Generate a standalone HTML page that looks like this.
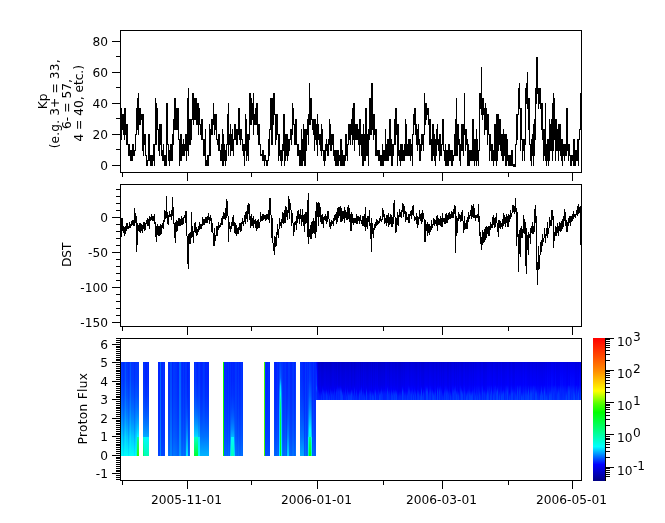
<!DOCTYPE html>
<html><head><meta charset="utf-8"><title>Kp, DST, Proton Flux</title>
<style>html,body{margin:0;padding:0;background:#fff;}svg{display:block;}</style></head>
<body>
<svg width="665" height="523" viewBox="0 0 665 523" font-family="'DejaVu Sans', 'Liberation Sans', sans-serif" fill="#000">
<defs>
<linearGradient id="cb" x1="0" y1="0" x2="0" y2="1"><stop offset="0" stop-color="#ff0000"/><stop offset="0.12" stop-color="#ff4600"/><stop offset="0.23" stop-color="#ff8c00"/><stop offset="0.37" stop-color="#ffff00"/><stop offset="0.46" stop-color="#50ff00"/><stop offset="0.52" stop-color="#00ff00"/><stop offset="0.60" stop-color="#00ff50"/><stop offset="0.685" stop-color="#00ffaa"/><stop offset="0.76" stop-color="#00ffff"/><stop offset="0.82" stop-color="#0082ff"/><stop offset="0.885" stop-color="#0000ff"/><stop offset="1" stop-color="#000082"/></linearGradient>
</defs>
<rect width="665" height="523" fill="#fff"/>
<g shape-rendering="crispEdges">
<path d="M121 108v32h1v-32zM122 114v16h1v-16zM123 114v21h1v-21zM124 108v32h1v-32zM125 108v27h1v-27zM126 124v21h1v-21zM127 124v21h1v-21zM128 144v12h1v-12zM129 144v12h1v-12zM130 150v11h1v-11zM131 150v11h1v-11zM132 144v17h1v-17zM133 144v12h1v-12zM134 150v6h1v-6zM135 134v17h1v-17zM136 108v27h1v-27zM137 98v32h1v-32zM138 93v42h1v-42zM139 108v17h1v-17zM140 108v17h1v-17zM141 114v6h1v-6zM142 114v37h1v-37zM143 114v42h1v-42zM144 134v11h1v-11zM145 134v22h1v-22zM146 155v11h1v-11zM147 160v6h1v-6zM148 134v27h1v-27zM149 134v27h1v-27zM150 155v11h1v-11zM151 155v11h1v-11zM152 155v11h1v-11zM153 144v17h1v-17zM154 144v22h1v-22zM155 98v47h1v-47zM156 103v42h1v-42zM157 108v22h1v-22zM158 129v22h1v-22zM159 124v32h1v-32zM160 124v21h1v-21zM161 124v32h1v-32zM162 150v11h1v-11zM163 144v17h1v-17zM164 155v11h1v-11zM165 155v11h1v-11zM166 103v63h1v-63zM167 103v42h1v-42zM168 144v17h1v-17zM169 150v16h1v-16zM170 144v17h1v-17zM171 144v17h1v-17zM172 134v27h1v-27zM173 119v26h1v-26zM174 98v32h1v-32zM175 98v32h1v-32zM176 108v22h1v-22zM177 108v22h1v-22zM178 108v32h1v-32zM179 139v27h1v-27zM180 134v27h1v-27zM181 134v27h1v-27zM182 144v12h1v-12zM183 139v17h1v-17zM184 144v12h1v-12zM185 134v17h1v-17zM186 134v27h1v-27zM187 98v53h1v-53zM188 88v68h1v-68zM189 119v26h1v-26zM190 119v26h1v-26zM191 119v21h1v-21zM192 93v27h1v-27zM193 93v32h1v-32zM194 98v22h1v-22zM195 98v22h1v-22zM196 98v27h1v-27zM197 103v22h1v-22zM198 103v32h1v-32zM199 108v17h1v-17zM200 124v11h1v-11zM201 119v21h1v-21zM202 119v21h1v-21zM203 139v17h1v-17zM204 139v17h1v-17zM205 129v37h1v-37zM206 160v6h1v-6zM207 155v11h1v-11zM208 155v11h1v-11zM209 124v32h1v-32zM210 129v27h1v-27zM211 119v16h1v-16zM212 119v16h1v-16zM213 103v22h1v-22zM214 114v21h1v-21zM215 114v16h1v-16zM216 114v26h1v-26zM217 139v6h1v-6zM218 134v17h1v-17zM219 134v17h1v-17zM220 150v11h1v-11zM221 144v17h1v-17zM222 129v37h1v-37zM223 134v32h1v-32zM224 144v17h1v-17zM225 150v16h1v-16zM226 144v17h1v-17zM227 114v31h1v-31zM228 103v53h1v-53zM229 134v11h1v-11zM230 124v32h1v-32zM231 134v17h1v-17zM232 129v22h1v-22zM233 139v17h1v-17zM234 124v16h1v-16zM235 124v16h1v-16zM236 129v16h1v-16zM237 129v16h1v-16zM238 108v27h1v-27zM239 108v32h1v-32zM240 129v16h1v-16zM241 129v11h1v-11zM242 139v12h1v-12zM243 144v12h1v-12zM244 144v22h1v-22zM245 114v37h1v-37zM246 119v42h1v-42zM247 134v22h1v-22zM248 134v27h1v-27zM249 93v47h1v-47zM250 93v32h1v-32zM251 98v27h1v-27zM252 103v17h1v-17zM253 93v42h1v-42zM254 114v11h1v-11zM255 108v17h1v-17zM256 103v22h1v-22zM257 103v32h1v-32zM258 124v21h1v-21zM259 124v21h1v-21zM260 144v12h1v-12zM261 154v2h1v-2zM262 150v11h1v-11zM263 150v11h1v-11zM264 155v11h1v-11zM265 155v6h1v-6zM266 160v6h1v-6zM267 160v6h1v-6zM268 139v22h1v-22zM269 129v27h1v-27zM270 98v32h1v-32zM271 98v47h1v-47zM272 98v47h1v-47zM273 93v32h1v-32zM274 93v22h1v-22zM275 114v31h1v-31zM276 114v26h1v-26zM277 114v21h1v-21zM278 134v27h1v-27zM279 134v22h1v-22zM280 150v11h1v-11zM281 150v16h1v-16zM282 144v17h1v-17zM283 114v37h1v-37zM284 114v52h1v-52zM285 134v27h1v-27zM286 134v22h1v-22zM287 134v27h1v-27zM288 139v17h1v-17zM289 139v12h1v-12zM290 129v11h1v-11zM291 129v16h1v-16zM292 103v32h1v-32zM293 108v17h1v-17zM294 124v21h1v-21zM295 119v26h1v-26zM296 119v26h1v-26zM297 144v12h1v-12zM298 144v12h1v-12zM299 150v16h1v-16zM300 150v16h1v-16zM301 129v37h1v-37zM302 139v27h1v-27zM303 124v37h1v-37zM304 129v37h1v-37zM305 129v37h1v-37zM306 129v22h1v-22zM307 119v16h1v-16zM308 114v31h1v-31zM309 83v42h1v-42zM310 98v27h1v-27zM311 98v22h1v-22zM312 119v11h1v-11zM313 119v16h1v-16zM314 119v32h1v-32zM315 119v21h1v-21zM316 124v21h1v-21zM317 114v42h1v-42zM318 124v16h1v-16zM319 134v11h1v-11zM320 134v17h1v-17zM321 124v32h1v-32zM322 129v22h1v-22zM323 150v11h1v-11zM324 150v16h1v-16zM325 144v17h1v-17zM326 139v12h1v-12zM327 144v12h1v-12zM328 139v17h1v-17zM329 119v26h1v-26zM330 124v27h1v-27zM331 134v17h1v-17zM332 134v11h1v-11zM333 134v22h1v-22zM334 150v11h1v-11zM335 150v16h1v-16zM336 150v16h1v-16zM337 150v16h1v-16zM338 150v16h1v-16zM339 155v6h1v-6zM340 139v27h1v-27zM341 139v27h1v-27zM342 150v16h1v-16zM343 155v11h1v-11zM344 155v11h1v-11zM345 134v27h1v-27zM346 134v22h1v-22zM347 144v17h1v-17zM348 124v21h1v-21zM349 124v16h1v-16zM350 124v21h1v-21zM351 119v16h1v-16zM352 108v37h1v-37zM353 103v37h1v-37zM354 103v48h1v-48zM355 124v16h1v-16zM356 124v16h1v-16zM357 124v16h1v-16zM358 129v16h1v-16zM359 119v37h1v-37zM360 119v26h1v-26zM361 134v22h1v-22zM362 134v32h1v-32zM363 124v42h1v-42zM364 134v27h1v-27zM365 108v53h1v-53zM366 108v48h1v-48zM367 134v22h1v-22zM368 129v37h1v-37zM369 98v42h1v-42zM370 98v37h1v-37zM371 83v52h1v-52zM372 83v47h1v-47zM373 114v26h1v-26zM374 114v21h1v-21zM375 129v27h1v-27zM376 129v27h1v-27zM377 150v6h1v-6zM378 150v11h1v-11zM379 150v11h1v-11zM380 155v11h1v-11zM381 155v11h1v-11zM382 144v22h1v-22zM383 150v16h1v-16zM384 150v11h1v-11zM385 129v32h1v-32zM386 144v17h1v-17zM387 139v22h1v-22zM388 139v22h1v-22zM389 119v37h1v-37zM390 119v37h1v-37zM391 139v27h1v-27zM392 144v22h1v-22zM393 144v12h1v-12zM394 119v26h1v-26zM395 108v37h1v-37zM396 108v27h1v-27zM397 124v42h1v-42zM398 124v32h1v-32zM399 150v11h1v-11zM400 144v22h1v-22zM401 144v17h1v-17zM402 144v17h1v-17zM403 150v11h1v-11zM404 144v17h1v-17zM405 119v37h1v-37zM406 124v32h1v-32zM407 144v12h1v-12zM408 139v17h1v-17zM409 139v17h1v-17zM410 139v22h1v-22zM411 144v12h1v-12zM412 134v32h1v-32zM413 114v21h1v-21zM414 108v17h1v-17zM415 108v27h1v-27zM416 124v21h1v-21zM417 129v22h1v-22zM418 124v21h1v-21zM419 139v22h1v-22zM420 144v17h1v-17zM421 134v17h1v-17zM422 134v11h1v-11zM423 134v17h1v-17zM424 93v42h1v-42zM425 103v22h1v-22zM426 103v17h1v-17zM427 108v7h1v-7zM428 108v17h1v-17zM429 119v26h1v-26zM430 119v26h1v-26zM431 139v22h1v-22zM432 124v37h1v-37zM433 124v32h1v-32zM434 134v27h1v-27zM435 139v27h1v-27zM436 129v27h1v-27zM437 124v21h1v-21zM438 139v12h1v-12zM439 134v27h1v-27zM440 134v22h1v-22zM441 144v12h1v-12zM442 119v26h1v-26zM443 119v32h1v-32zM444 150v11h1v-11zM445 144v22h1v-22zM446 150v16h1v-16zM447 150v16h1v-16zM448 144v22h1v-22zM449 144v17h1v-17zM450 150v11h1v-11zM451 150v16h1v-16zM452 150v16h1v-16zM453 155v6h1v-6zM454 134v22h1v-22zM455 119v37h1v-37zM456 98v58h1v-58zM457 124v32h1v-32zM458 124v21h1v-21zM459 139v22h1v-22zM460 144v22h1v-22zM461 124v27h1v-27zM462 124v27h1v-27zM463 124v32h1v-32zM464 93v42h1v-42zM465 129v22h1v-22zM466 129v16h1v-16zM467 139v27h1v-27zM468 144v22h1v-22zM469 150v16h1v-16zM470 150v11h1v-11zM471 150v11h1v-11zM472 119v42h1v-42zM473 119v42h1v-42zM474 139v27h1v-27zM475 139v22h1v-22zM476 129v37h1v-37zM477 139v22h1v-22zM478 150v16h1v-16zM479 93v58h1v-58zM480 93v16h1v-16zM481 67v48h1v-48zM482 98v22h1v-22zM483 98v17h1v-17zM484 108v27h1v-27zM485 103v27h1v-27zM486 108v22h1v-22zM487 114v31h1v-31zM488 114v21h1v-21zM489 134v27h1v-27zM490 134v17h1v-17zM491 144v17h1v-17zM492 144v17h1v-17zM493 150v16h1v-16zM494 124v37h1v-37zM495 124v37h1v-37zM496 114v52h1v-52zM497 114v47h1v-47zM498 114v37h1v-37zM499 119v26h1v-26zM500 119v32h1v-32zM501 134v22h1v-22zM502 134v27h1v-27zM503 129v32h1v-32zM504 134v22h1v-22zM505 134v32h1v-32zM506 134v32h1v-32zM507 139v22h1v-22zM508 155v11h1v-11zM509 155v11h1v-11zM510 155v11h1v-11zM511 150v16h1v-16zM512 150v16h1v-16zM513 164v3h1v-3zM514 164v3h1v-3zM515 144v23h1v-23zM516 114v31h1v-31zM517 114v26h1v-26zM518 88v27h1v-27zM519 83v26h1v-26zM520 108v43h1v-43zM521 108v32h1v-32zM522 139v22h1v-22zM523 139v12h1v-12zM524 139v22h1v-22zM525 88v57h1v-57zM526 83v21h1v-21zM527 72v37h1v-37zM528 98v32h1v-32zM529 98v47h1v-47zM530 144v17h1v-17zM531 139v27h1v-27zM532 134v22h1v-22zM533 124v42h1v-42zM534 119v37h1v-37zM535 88v52h1v-52zM536 57v47h1v-47zM537 57v37h1v-37zM538 88v21h1v-21zM539 88v16h1v-16zM540 88v21h1v-21zM541 103v27h1v-27zM542 103v37h1v-37zM543 129v32h1v-32zM544 129v27h1v-27zM545 103v58h1v-58zM546 144v22h1v-22zM547 139v22h1v-22zM548 139v27h1v-27zM549 119v42h1v-42zM550 124v27h1v-27zM551 119v32h1v-32zM552 103v58h1v-58zM553 93v58h1v-58zM554 98v42h1v-42zM555 119v42h1v-42zM556 119v32h1v-32zM557 129v22h1v-22zM558 124v37h1v-37zM559 124v27h1v-27zM560 124v32h1v-32zM561 139v22h1v-22zM562 139v27h1v-27zM563 144v12h1v-12zM564 144v17h1v-17zM565 144v12h1v-12zM566 108v48h1v-48zM567 108v43h1v-43zM568 144v17h1v-17zM569 144v12h1v-12zM570 155v11h1v-11zM571 155v11h1v-11zM572 155v6h1v-6zM573 139v27h1v-27zM574 139v27h1v-27zM575 150v16h1v-16zM576 150v11h1v-11zM577 139v22h1v-22zM578 139v27h1v-27zM579 129v11h1v-11zM580 93v37h1v-37z" fill="#000"/>
<rect x="120" y="30" width="462" height="1" fill="#000"/>
<rect x="120" y="172" width="462" height="1" fill="#000"/>
<rect x="120" y="30" width="1" height="143" fill="#000"/>
<rect x="581" y="30" width="1" height="143" fill="#000"/>
<rect x="122" y="173" width="1" height="4" fill="#000"/>
<rect x="187" y="173" width="1" height="8" fill="#000"/>
<rect x="251" y="173" width="1" height="4" fill="#000"/>
<rect x="317" y="173" width="1" height="8" fill="#000"/>
<rect x="383" y="173" width="1" height="4" fill="#000"/>
<rect x="442" y="173" width="1" height="8" fill="#000"/>
<rect x="508" y="173" width="1" height="4" fill="#000"/>
<rect x="572" y="173" width="1" height="8" fill="#000"/>
<rect x="116" y="149" width="4" height="1" fill="#000"/>
<rect x="116" y="118" width="4" height="1" fill="#000"/>
<rect x="116" y="87" width="4" height="1" fill="#000"/>
<rect x="116" y="56" width="4" height="1" fill="#000"/>
<rect x="112" y="165" width="8" height="1" fill="#000"/>
<text x="108" y="170" text-anchor="end" font-size="12.2">0</text>
<rect x="112" y="134" width="8" height="1" fill="#000"/>
<text x="108" y="139" text-anchor="end" font-size="12.2">20</text>
<rect x="112" y="103" width="8" height="1" fill="#000"/>
<text x="108" y="108" text-anchor="end" font-size="12.2">40</text>
<rect x="112" y="72" width="8" height="1" fill="#000"/>
<text x="108" y="77" text-anchor="end" font-size="12.2">60</text>
<rect x="112" y="41" width="8" height="1" fill="#000"/>
<text x="108" y="46" text-anchor="end" font-size="12.2">80</text>
<path d="M121 218v19h1v-19zM122 218v13h1v-13zM123 226v7h1v-7zM124 227v9h1v-9zM125 226v8h1v-8zM126 223v8h1v-8zM127 223v6h1v-6zM128 226v3h1v-3zM129 222v6h1v-6zM130 224v4h1v-4zM131 221v5h1v-5zM132 220v5h1v-5zM133 220v6h1v-6zM134 208v18h1v-18zM135 213v10h1v-10zM136 216v36h1v-36zM137 223v22h1v-22zM138 225v6h1v-6zM139 223v9h1v-9zM140 223v10h1v-10zM141 224v7h1v-7zM142 225v8h1v-8zM143 222v7h1v-7zM144 222v9h1v-9zM145 223v7h1v-7zM146 220v4h1v-4zM147 218v8h1v-8zM148 219v7h1v-7zM149 216v13h1v-13zM150 217v4h1v-4zM151 214v6h1v-6zM152 216v5h1v-5zM153 216v5h1v-5zM154 214v10h1v-10zM155 222v15h1v-15zM156 226v16h1v-16zM157 224v11h1v-11zM158 226v10h1v-10zM159 226v10h1v-10zM160 224v11h1v-11zM161 225v9h1v-9zM162 223v5h1v-5zM163 220v9h1v-9zM164 210v12h1v-12zM165 211v8h1v-8zM166 196v22h1v-22zM167 212v12h1v-12zM168 215v10h1v-10zM169 211v6h1v-6zM170 214v3h1v-3zM171 210v10h1v-10zM172 197v19h1v-19zM173 207v17h1v-17zM174 223v15h1v-15zM175 222v21h1v-21zM176 220v12h1v-12zM177 221v10h1v-10zM178 218v8h1v-8zM179 218v8h1v-8zM180 219v7h1v-7zM181 216v9h1v-9zM182 218v7h1v-7zM183 217v7h1v-7zM184 215v3h1v-3zM185 211v12h1v-12zM186 211v25h1v-25zM187 236v28h1v-28zM188 234v35h1v-35zM189 233v11h1v-11zM190 232v12h1v-12zM191 212v26h1v-26zM192 226v11h1v-11zM193 231v12h1v-12zM194 223v9h1v-9zM195 222v11h1v-11zM196 227v9h1v-9zM197 229v6h1v-6zM198 226v6h1v-6zM199 222v8h1v-8zM200 224v5h1v-5zM201 224v5h1v-5zM202 217v9h1v-9zM203 219v6h1v-6zM204 219v6h1v-6zM205 217v6h1v-6zM206 217v6h1v-6zM207 216v7h1v-7zM208 213v7h1v-7zM209 217v7h1v-7zM210 215v6h1v-6zM211 218v14h1v-14zM212 223v10h1v-10zM213 233v13h1v-13zM214 228v18h1v-18zM215 235v6h1v-6zM216 226v10h1v-10zM217 226v10h1v-10zM218 222v8h1v-8zM219 225v3h1v-3zM220 223v4h1v-4zM221 218v7h1v-7zM222 216v9h1v-9zM223 212v7h1v-7zM224 213v6h1v-6zM225 208v12h1v-12zM226 199v19h1v-19zM227 201v15h1v-15zM228 216v26h1v-26zM229 222v7h1v-7zM230 226v6h1v-6zM231 222v7h1v-7zM232 217v9h1v-9zM233 215v11h1v-11zM234 222v11h1v-11zM235 223v11h1v-11zM236 225v11h1v-11zM237 228v6h1v-6zM238 227v7h1v-7zM239 223v7h1v-7zM240 223v9h1v-9zM241 222v9h1v-9zM242 218v6h1v-6zM243 221v5h1v-5zM244 215v7h1v-7zM245 212v12h1v-12zM246 211v8h1v-8zM247 205v17h1v-17zM248 203v11h1v-11zM249 204v16h1v-16zM250 216v12h1v-12zM251 214v12h1v-12zM252 218v8h1v-8zM253 216v12h1v-12zM254 220v4h1v-4zM255 219v9h1v-9zM256 221v10h1v-10zM257 220v9h1v-9zM258 219v9h1v-9zM259 222v6h1v-6zM260 212v10h1v-10zM261 216v5h1v-5zM262 214v7h1v-7zM263 214v6h1v-6zM264 215v4h1v-4zM265 215v6h1v-6zM266 214v6h1v-6zM267 214v5h1v-5zM268 210v10h1v-10zM269 198v25h1v-25zM270 198v17h1v-17zM271 215v23h1v-23zM272 218v25h1v-25zM273 243v8h1v-8zM274 236v19h1v-19zM275 237v10h1v-10zM276 232v14h1v-14zM277 224v11h1v-11zM278 229v9h1v-9zM279 218v11h1v-11zM280 222v4h1v-4zM281 219v9h1v-9zM282 212v11h1v-11zM283 213v11h1v-11zM284 210v13h1v-13zM285 206v17h1v-17zM286 207v10h1v-10zM287 210v10h1v-10zM288 196v17h1v-17zM289 199v20h1v-20zM290 203v7h1v-7zM291 210v16h1v-16zM292 213v10h1v-10zM293 223v13h1v-13zM294 222v10h1v-10zM295 221v4h1v-4zM296 216v14h1v-14zM297 211v12h1v-12zM298 210v9h1v-9zM299 214v10h1v-10zM300 209v10h1v-10zM301 215v11h1v-11zM302 209v13h1v-13zM303 215v11h1v-11zM304 214v18h1v-18zM305 212v12h1v-12zM306 212v11h1v-11zM307 200v37h1v-37zM308 193v51h1v-51zM309 229v8h1v-8zM310 225v14h1v-14zM311 222v17h1v-17zM312 221v13h1v-13zM313 218v15h1v-15zM314 221v13h1v-13zM315 211v27h1v-27zM316 202v30h1v-30zM317 203v14h1v-14zM318 202v24h1v-24zM319 203v14h1v-14zM320 207v15h1v-15zM321 215v9h1v-9zM322 214v10h1v-10zM323 217v11h1v-11zM324 216v4h1v-4zM325 214v7h1v-7zM326 216v8h1v-8zM327 211v11h1v-11zM328 211v8h1v-8zM329 219v8h1v-8zM330 222v7h1v-7zM331 220v6h1v-6zM332 221v3h1v-3zM333 218v8h1v-8zM334 215v6h1v-6zM335 214v6h1v-6zM336 212v12h1v-12zM337 208v14h1v-14zM338 207v11h1v-11zM339 207v9h1v-9zM340 206v16h1v-16zM341 208v14h1v-14zM342 211v10h1v-10zM343 211v8h1v-8zM344 207v16h1v-16zM345 210v8h1v-8zM346 212v8h1v-8zM347 207v13h1v-13zM348 205v14h1v-14zM349 208v14h1v-14zM350 214v17h1v-17zM351 212v19h1v-19zM352 214v9h1v-9zM353 218v7h1v-7zM354 218v5h1v-5zM355 218v5h1v-5zM356 214v10h1v-10zM357 216v8h1v-8zM358 216v5h1v-5zM359 217v7h1v-7zM360 215v6h1v-6zM361 220v4h1v-4zM362 216v10h1v-10zM363 216v10h1v-10zM364 214v13h1v-13zM365 207v24h1v-24zM366 218v9h1v-9zM367 216v13h1v-13zM368 216v6h1v-6zM369 210v16h1v-16zM370 223v16h1v-16zM371 218v34h1v-34zM372 223v11h1v-11zM373 228v10h1v-10zM374 224v6h1v-6zM375 222v6h1v-6zM376 219v7h1v-7zM377 220v5h1v-5zM378 221v3h1v-3zM379 218v5h1v-5zM380 216v5h1v-5zM381 219v3h1v-3zM382 208v12h1v-12zM383 210v7h1v-7zM384 214v10h1v-10zM385 218v5h1v-5zM386 215v11h1v-11zM387 215v8h1v-8zM388 213v14h1v-14zM389 217v8h1v-8zM390 214v10h1v-10zM391 215v12h1v-12zM392 217v10h1v-10zM393 203v21h1v-21zM394 200v17h1v-17zM395 217v16h1v-16zM396 218v14h1v-14zM397 212v13h1v-13zM398 215v11h1v-11zM399 209v8h1v-8zM400 212v5h1v-5zM401 210v8h1v-8zM402 203v9h1v-9zM403 204v13h1v-13zM404 206v8h1v-8zM405 211v11h1v-11zM406 212v8h1v-8zM407 217v3h1v-3zM408 214v9h1v-9zM409 214v9h1v-9zM410 211v5h1v-5zM411 210v9h1v-9zM412 206v9h1v-9zM413 205v11h1v-11zM414 216v5h1v-5zM415 217v3h1v-3zM416 213v11h1v-11zM417 216v12h1v-12zM418 217v8h1v-8zM419 210v9h1v-9zM420 214v7h1v-7zM421 213v11h1v-11zM422 210v12h1v-12zM423 213v6h1v-6zM424 219v23h1v-23zM425 220v22h1v-22zM426 224v7h1v-7zM427 222v14h1v-14zM428 224v9h1v-9zM429 224v11h1v-11zM430 226v6h1v-6zM431 220v10h1v-10zM432 224v4h1v-4zM433 218v7h1v-7zM434 219v7h1v-7zM435 220v4h1v-4zM436 216v10h1v-10zM437 215v16h1v-16zM438 218v7h1v-7zM439 219v6h1v-6zM440 216v10h1v-10zM441 218v9h1v-9zM442 213v14h1v-14zM443 218v4h1v-4zM444 218v6h1v-6zM445 214v10h1v-10zM446 213v10h1v-10zM447 215v8h1v-8zM448 213v7h1v-7zM449 212v7h1v-7zM450 214v5h1v-5zM451 211v7h1v-7zM452 212v6h1v-6zM453 209v9h1v-9zM454 205v9h1v-9zM455 206v47h1v-47zM456 216v20h1v-20zM457 218v15h1v-15zM458 212v9h1v-9zM459 214v5h1v-5zM460 215v7h1v-7zM461 212v9h1v-9zM462 210v11h1v-11zM463 221v12h1v-12zM464 216v14h1v-14zM465 223v6h1v-6zM466 220v9h1v-9zM467 217v12h1v-12zM468 212v10h1v-10zM469 215v4h1v-4zM470 210v6h1v-6zM471 205v14h1v-14zM472 206v11h1v-11zM473 204v14h1v-14zM474 208v10h1v-10zM475 215v6h1v-6zM476 215v3h1v-3zM477 214v4h1v-4zM478 204v18h1v-18zM479 216v20h1v-20zM480 232v12h1v-12zM481 237v13h1v-13zM482 230v15h1v-15zM483 232v11h1v-11zM484 229v13h1v-13zM485 227v13h1v-13zM486 226v12h1v-12zM487 227v7h1v-7zM488 226v10h1v-10zM489 226v10h1v-10zM490 222v8h1v-8zM491 224v4h1v-4zM492 217v11h1v-11zM493 215v10h1v-10zM494 218v10h1v-10zM495 217v10h1v-10zM496 213v10h1v-10zM497 223v9h1v-9zM498 220v17h1v-17zM499 220v8h1v-8zM500 221v8h1v-8zM501 223v4h1v-4zM502 219v10h1v-10zM503 213v13h1v-13zM504 215v9h1v-9zM505 217v10h1v-10zM506 214v9h1v-9zM507 216v11h1v-11zM508 214v13h1v-13zM509 215v7h1v-7zM510 210v9h1v-9zM511 213v4h1v-4zM512 205v8h1v-8zM513 205v7h1v-7zM514 206v8h1v-8zM515 198v14h1v-14zM516 208v38h1v-38zM517 212v25h1v-25zM518 234v38h1v-38zM519 230v24h1v-24zM520 228v29h1v-29zM521 226v12h1v-12zM522 229v9h1v-9zM523 215v18h1v-18zM524 219v15h1v-15zM525 222v44h1v-44zM526 228v46h1v-46zM527 235v15h1v-15zM528 232v23h1v-23zM529 234v4h1v-4zM530 228v16h1v-16zM531 226v7h1v-7zM532 222v12h1v-12zM533 226v8h1v-8zM534 209v23h1v-23zM535 205v18h1v-18zM536 216v54h1v-54zM537 262v23h1v-23zM538 246v24h1v-24zM539 255v14h1v-14zM540 242v13h1v-13zM541 240v12h1v-12zM542 234v12h1v-12zM543 238v4h1v-4zM544 228v10h1v-10zM545 234v9h1v-9zM546 228v8h1v-8zM547 222v16h1v-16zM548 228v6h1v-6zM549 217v11h1v-11zM550 220v6h1v-6zM551 210v16h1v-16zM552 210v10h1v-10zM553 216v32h1v-32zM554 232v9h1v-9zM555 226v10h1v-10zM556 227v9h1v-9zM557 223v10h1v-10zM558 226v10h1v-10zM559 222v9h1v-9zM560 223v9h1v-9zM561 221v10h1v-10zM562 219v10h1v-10zM563 216v11h1v-11zM564 209v12h1v-12zM565 212v14h1v-14zM566 220v12h1v-12zM567 222v10h1v-10zM568 218v8h1v-8zM569 216v7h1v-7zM570 216v10h1v-10zM571 216v6h1v-6zM572 214v7h1v-7zM573 211v8h1v-8zM574 214v3h1v-3zM575 214v4h1v-4zM576 210v5h1v-5zM577 206v10h1v-10zM578 204v10h1v-10zM579 207v6h1v-6zM580 206v39h1v-39z" fill="#000"/>
<rect x="120" y="184" width="462" height="1" fill="#000"/>
<rect x="120" y="326" width="462" height="1" fill="#000"/>
<rect x="120" y="184" width="1" height="143" fill="#000"/>
<rect x="581" y="184" width="1" height="143" fill="#000"/>
<rect x="122" y="327" width="1" height="4" fill="#000"/>
<rect x="187" y="327" width="1" height="8" fill="#000"/>
<rect x="251" y="327" width="1" height="4" fill="#000"/>
<rect x="317" y="327" width="1" height="8" fill="#000"/>
<rect x="383" y="327" width="1" height="4" fill="#000"/>
<rect x="442" y="327" width="1" height="8" fill="#000"/>
<rect x="508" y="327" width="1" height="4" fill="#000"/>
<rect x="572" y="327" width="1" height="8" fill="#000"/>
<rect x="116" y="189" width="4" height="1" fill="#000"/>
<rect x="116" y="196" width="4" height="1" fill="#000"/>
<rect x="116" y="203" width="4" height="1" fill="#000"/>
<rect x="116" y="210" width="4" height="1" fill="#000"/>
<rect x="116" y="224" width="4" height="1" fill="#000"/>
<rect x="116" y="231" width="4" height="1" fill="#000"/>
<rect x="116" y="238" width="4" height="1" fill="#000"/>
<rect x="116" y="245" width="4" height="1" fill="#000"/>
<rect x="116" y="259" width="4" height="1" fill="#000"/>
<rect x="116" y="266" width="4" height="1" fill="#000"/>
<rect x="116" y="273" width="4" height="1" fill="#000"/>
<rect x="116" y="280" width="4" height="1" fill="#000"/>
<rect x="116" y="294" width="4" height="1" fill="#000"/>
<rect x="116" y="301" width="4" height="1" fill="#000"/>
<rect x="116" y="308" width="4" height="1" fill="#000"/>
<rect x="116" y="315" width="4" height="1" fill="#000"/>
<rect x="112" y="217" width="8" height="1" fill="#000"/>
<text x="108" y="222" text-anchor="end" font-size="12.2">0</text>
<rect x="112" y="252" width="8" height="1" fill="#000"/>
<text x="108" y="257" text-anchor="end" font-size="12.2">-50</text>
<rect x="112" y="287" width="8" height="1" fill="#000"/>
<text x="108" y="292" text-anchor="end" font-size="12.2">-100</text>
<rect x="112" y="322" width="8" height="1" fill="#000"/>
<text x="108" y="327" text-anchor="end" font-size="12.2">-150</text>
<rect x="121" y="362" width="1" height="94" fill="url(#c1)"/>
<rect x="122" y="362" width="1" height="94" fill="url(#c2)"/>
<rect x="123" y="362" width="1" height="94" fill="url(#c3)"/>
<rect x="124" y="362" width="1" height="94" fill="url(#c4)"/>
<rect x="125" y="362" width="1" height="94" fill="url(#c5)"/>
<rect x="126" y="362" width="1" height="94" fill="url(#c6)"/>
<rect x="127" y="362" width="1" height="94" fill="url(#c7)"/>
<rect x="128" y="362" width="1" height="94" fill="url(#c8)"/>
<rect x="129" y="362" width="1" height="94" fill="url(#c9)"/>
<rect x="130" y="362" width="1" height="94" fill="url(#c10)"/>
<rect x="131" y="362" width="1" height="94" fill="url(#c11)"/>
<rect x="132" y="362" width="1" height="94" fill="url(#c12)"/>
<rect x="133" y="362" width="1" height="94" fill="url(#c13)"/>
<rect x="134" y="362" width="1" height="94" fill="url(#c14)"/>
<rect x="135" y="362" width="1" height="94" fill="url(#c15)"/>
<rect x="136" y="362" width="1" height="94" fill="url(#c16)"/>
<rect x="137" y="362" width="1" height="94" fill="url(#c17)"/>
<rect x="138" y="362" width="1" height="94" fill="url(#c18)"/>
<rect x="143" y="362" width="1" height="94" fill="url(#c19)"/>
<rect x="144" y="362" width="1" height="94" fill="url(#c20)"/>
<rect x="145" y="362" width="1" height="94" fill="url(#c21)"/>
<rect x="146" y="362" width="1" height="94" fill="url(#c22)"/>
<rect x="147" y="362" width="1" height="94" fill="url(#c23)"/>
<rect x="148" y="362" width="1" height="94" fill="url(#c24)"/>
<rect x="158" y="362" width="1" height="94" fill="url(#c25)"/>
<rect x="159" y="362" width="1" height="94" fill="url(#c26)"/>
<rect x="160" y="362" width="1" height="94" fill="url(#c27)"/>
<rect x="161" y="362" width="1" height="94" fill="url(#c28)"/>
<rect x="162" y="362" width="1" height="94" fill="url(#c29)"/>
<rect x="163" y="362" width="1" height="94" fill="url(#c30)"/>
<rect x="164" y="362" width="1" height="94" fill="url(#c31)"/>
<rect x="168" y="362" width="1" height="94" fill="url(#c32)"/>
<rect x="169" y="362" width="1" height="94" fill="url(#c33)"/>
<rect x="170" y="362" width="1" height="94" fill="url(#c34)"/>
<rect x="171" y="362" width="1" height="94" fill="url(#c35)"/>
<rect x="172" y="362" width="1" height="94" fill="url(#c36)"/>
<rect x="173" y="362" width="1" height="94" fill="url(#c37)"/>
<rect x="174" y="362" width="1" height="94" fill="url(#c38)"/>
<rect x="175" y="362" width="1" height="94" fill="url(#c39)"/>
<rect x="176" y="362" width="1" height="94" fill="url(#c40)"/>
<rect x="177" y="362" width="1" height="94" fill="url(#c41)"/>
<rect x="178" y="362" width="1" height="94" fill="url(#c42)"/>
<rect x="179" y="362" width="1" height="94" fill="url(#c43)"/>
<rect x="180" y="362" width="1" height="94" fill="url(#c44)"/>
<rect x="181" y="362" width="1" height="94" fill="url(#c45)"/>
<rect x="182" y="362" width="1" height="94" fill="url(#c46)"/>
<rect x="183" y="362" width="1" height="94" fill="url(#c47)"/>
<rect x="184" y="362" width="1" height="94" fill="url(#c48)"/>
<rect x="185" y="362" width="1" height="94" fill="url(#c49)"/>
<rect x="186" y="362" width="1" height="94" fill="url(#c50)"/>
<rect x="187" y="362" width="1" height="94" fill="url(#c51)"/>
<rect x="188" y="362" width="1" height="94" fill="url(#c52)"/>
<rect x="189" y="362" width="1" height="94" fill="url(#c53)"/>
<rect x="194" y="362" width="1" height="94" fill="url(#c54)"/>
<rect x="195" y="362" width="1" height="94" fill="url(#c55)"/>
<rect x="196" y="362" width="1" height="94" fill="url(#c56)"/>
<rect x="197" y="362" width="1" height="94" fill="url(#c57)"/>
<rect x="198" y="362" width="1" height="94" fill="url(#c58)"/>
<rect x="199" y="362" width="1" height="94" fill="url(#c59)"/>
<rect x="200" y="362" width="1" height="94" fill="url(#c60)"/>
<rect x="201" y="362" width="1" height="94" fill="url(#c61)"/>
<rect x="202" y="362" width="1" height="94" fill="url(#c62)"/>
<rect x="203" y="362" width="1" height="94" fill="url(#c63)"/>
<rect x="204" y="362" width="1" height="94" fill="url(#c64)"/>
<rect x="205" y="362" width="1" height="94" fill="url(#c65)"/>
<rect x="206" y="362" width="1" height="94" fill="url(#c66)"/>
<rect x="207" y="362" width="1" height="94" fill="url(#c67)"/>
<rect x="208" y="362" width="1" height="94" fill="url(#c68)"/>
<rect x="223" y="362" width="1" height="94" fill="url(#c69)"/>
<rect x="224" y="362" width="1" height="94" fill="url(#c70)"/>
<rect x="225" y="362" width="1" height="94" fill="url(#c71)"/>
<rect x="226" y="362" width="1" height="94" fill="url(#c72)"/>
<rect x="227" y="362" width="1" height="94" fill="url(#c73)"/>
<rect x="228" y="362" width="1" height="94" fill="url(#c74)"/>
<rect x="229" y="362" width="1" height="94" fill="url(#c75)"/>
<rect x="230" y="362" width="1" height="94" fill="url(#c76)"/>
<rect x="231" y="362" width="1" height="94" fill="url(#c77)"/>
<rect x="232" y="362" width="1" height="94" fill="url(#c78)"/>
<rect x="233" y="362" width="1" height="94" fill="url(#c79)"/>
<rect x="234" y="362" width="1" height="94" fill="url(#c80)"/>
<rect x="235" y="362" width="1" height="94" fill="url(#c81)"/>
<rect x="236" y="362" width="1" height="94" fill="url(#c82)"/>
<rect x="237" y="362" width="1" height="94" fill="url(#c83)"/>
<rect x="238" y="362" width="1" height="94" fill="url(#c84)"/>
<rect x="239" y="362" width="1" height="94" fill="url(#c85)"/>
<rect x="240" y="362" width="1" height="94" fill="url(#c86)"/>
<rect x="241" y="362" width="1" height="94" fill="url(#c87)"/>
<rect x="242" y="362" width="1" height="94" fill="url(#c88)"/>
<rect x="264" y="362" width="1" height="94" fill="url(#c89)"/>
<rect x="265" y="362" width="1" height="94" fill="url(#c90)"/>
<rect x="266" y="362" width="1" height="94" fill="url(#c91)"/>
<rect x="267" y="362" width="1" height="94" fill="url(#c92)"/>
<rect x="268" y="362" width="1" height="94" fill="url(#c93)"/>
<rect x="269" y="362" width="1" height="94" fill="url(#c94)"/>
<rect x="274" y="362" width="1" height="94" fill="url(#c95)"/>
<rect x="275" y="362" width="1" height="94" fill="url(#c96)"/>
<rect x="276" y="362" width="1" height="94" fill="url(#c97)"/>
<rect x="277" y="362" width="1" height="94" fill="url(#c98)"/>
<rect x="278" y="362" width="1" height="94" fill="url(#c99)"/>
<rect x="279" y="362" width="1" height="94" fill="url(#c100)"/>
<rect x="280" y="362" width="1" height="94" fill="url(#c101)"/>
<rect x="281" y="362" width="1" height="94" fill="url(#c102)"/>
<rect x="282" y="362" width="1" height="94" fill="url(#c103)"/>
<rect x="283" y="362" width="1" height="94" fill="url(#c104)"/>
<rect x="284" y="362" width="1" height="94" fill="url(#c105)"/>
<rect x="285" y="362" width="1" height="94" fill="url(#c106)"/>
<rect x="286" y="362" width="1" height="94" fill="url(#c107)"/>
<rect x="287" y="362" width="1" height="94" fill="url(#c108)"/>
<rect x="288" y="362" width="1" height="94" fill="url(#c109)"/>
<rect x="289" y="362" width="1" height="94" fill="url(#c110)"/>
<rect x="290" y="362" width="1" height="94" fill="url(#c111)"/>
<rect x="291" y="362" width="1" height="94" fill="url(#c112)"/>
<rect x="292" y="362" width="1" height="94" fill="url(#c113)"/>
<rect x="293" y="362" width="1" height="94" fill="url(#c114)"/>
<rect x="294" y="362" width="1" height="94" fill="url(#c115)"/>
<rect x="295" y="362" width="1" height="94" fill="url(#c116)"/>
<rect x="300" y="362" width="1" height="94" fill="url(#c117)"/>
<rect x="301" y="362" width="1" height="94" fill="url(#c118)"/>
<rect x="302" y="362" width="1" height="94" fill="url(#c119)"/>
<rect x="303" y="362" width="1" height="94" fill="url(#c120)"/>
<rect x="304" y="362" width="1" height="94" fill="url(#c121)"/>
<rect x="305" y="362" width="1" height="94" fill="url(#c122)"/>
<rect x="306" y="362" width="1" height="94" fill="url(#c123)"/>
<rect x="307" y="362" width="1" height="94" fill="url(#c124)"/>
<rect x="308" y="362" width="1" height="94" fill="url(#c125)"/>
<rect x="309" y="362" width="1" height="94" fill="url(#c126)"/>
<rect x="310" y="362" width="1" height="94" fill="url(#c127)"/>
<rect x="311" y="362" width="1" height="94" fill="url(#c128)"/>
<rect x="312" y="362" width="1" height="94" fill="url(#c129)"/>
<rect x="313" y="362" width="1" height="94" fill="url(#c130)"/>
<rect x="314" y="362" width="1" height="94" fill="url(#c131)"/>
<rect x="315" y="362" width="1" height="94" fill="url(#c132)"/>
<rect x="316" y="362" width="1" height="38" fill="url(#c133)"/>
<rect x="317" y="362" width="1" height="38" fill="url(#c134)"/>
<rect x="318" y="362" width="1" height="38" fill="url(#c135)"/>
<rect x="319" y="362" width="1" height="38" fill="url(#c136)"/>
<rect x="320" y="362" width="1" height="38" fill="url(#c137)"/>
<rect x="321" y="362" width="1" height="38" fill="url(#c138)"/>
<rect x="322" y="362" width="1" height="38" fill="url(#c139)"/>
<rect x="323" y="362" width="1" height="38" fill="url(#c140)"/>
<rect x="324" y="362" width="1" height="38" fill="url(#c141)"/>
<rect x="325" y="362" width="1" height="38" fill="url(#c142)"/>
<rect x="326" y="362" width="1" height="38" fill="url(#c143)"/>
<rect x="327" y="362" width="1" height="38" fill="url(#c144)"/>
<rect x="328" y="362" width="1" height="38" fill="url(#c145)"/>
<rect x="329" y="362" width="1" height="38" fill="url(#c146)"/>
<rect x="330" y="362" width="1" height="38" fill="url(#c147)"/>
<rect x="331" y="362" width="1" height="38" fill="url(#c148)"/>
<rect x="332" y="362" width="1" height="38" fill="url(#c149)"/>
<rect x="333" y="362" width="1" height="38" fill="url(#c150)"/>
<rect x="334" y="362" width="1" height="38" fill="url(#c151)"/>
<rect x="335" y="362" width="1" height="38" fill="url(#c152)"/>
<rect x="336" y="362" width="1" height="38" fill="url(#c153)"/>
<rect x="337" y="362" width="1" height="38" fill="url(#c154)"/>
<rect x="338" y="362" width="1" height="38" fill="url(#c155)"/>
<rect x="339" y="362" width="1" height="38" fill="url(#c156)"/>
<rect x="340" y="362" width="1" height="38" fill="url(#c157)"/>
<rect x="341" y="362" width="1" height="38" fill="url(#c158)"/>
<rect x="342" y="362" width="1" height="38" fill="url(#c159)"/>
<rect x="343" y="362" width="1" height="38" fill="url(#c160)"/>
<rect x="344" y="362" width="1" height="38" fill="url(#c161)"/>
<rect x="345" y="362" width="1" height="38" fill="url(#c162)"/>
<rect x="346" y="362" width="1" height="38" fill="url(#c163)"/>
<rect x="347" y="362" width="1" height="38" fill="url(#c164)"/>
<rect x="348" y="362" width="1" height="38" fill="url(#c165)"/>
<rect x="349" y="362" width="1" height="38" fill="url(#c166)"/>
<rect x="350" y="362" width="1" height="38" fill="url(#c167)"/>
<rect x="351" y="362" width="1" height="38" fill="url(#c168)"/>
<rect x="352" y="362" width="1" height="38" fill="url(#c169)"/>
<rect x="353" y="362" width="1" height="38" fill="url(#c170)"/>
<rect x="354" y="362" width="1" height="38" fill="url(#c171)"/>
<rect x="355" y="362" width="1" height="38" fill="url(#c172)"/>
<rect x="356" y="362" width="1" height="38" fill="url(#c173)"/>
<rect x="357" y="362" width="1" height="38" fill="url(#c174)"/>
<rect x="358" y="362" width="1" height="38" fill="url(#c175)"/>
<rect x="359" y="362" width="1" height="38" fill="url(#c176)"/>
<rect x="360" y="362" width="1" height="38" fill="url(#c177)"/>
<rect x="361" y="362" width="1" height="38" fill="url(#c178)"/>
<rect x="362" y="362" width="1" height="38" fill="url(#c179)"/>
<rect x="363" y="362" width="1" height="38" fill="url(#c180)"/>
<rect x="364" y="362" width="1" height="38" fill="url(#c181)"/>
<rect x="365" y="362" width="1" height="38" fill="url(#c182)"/>
<rect x="366" y="362" width="1" height="38" fill="url(#c183)"/>
<rect x="367" y="362" width="1" height="38" fill="url(#c184)"/>
<rect x="368" y="362" width="1" height="38" fill="url(#c185)"/>
<rect x="369" y="362" width="1" height="38" fill="url(#c186)"/>
<rect x="370" y="362" width="1" height="38" fill="url(#c187)"/>
<rect x="371" y="362" width="1" height="38" fill="url(#c188)"/>
<rect x="372" y="362" width="1" height="38" fill="url(#c189)"/>
<rect x="373" y="362" width="1" height="38" fill="url(#c190)"/>
<rect x="374" y="362" width="1" height="38" fill="url(#c191)"/>
<rect x="375" y="362" width="1" height="38" fill="url(#c192)"/>
<rect x="376" y="362" width="1" height="38" fill="url(#c193)"/>
<rect x="377" y="362" width="1" height="38" fill="url(#c194)"/>
<rect x="378" y="362" width="1" height="38" fill="url(#c195)"/>
<rect x="379" y="362" width="1" height="38" fill="url(#c196)"/>
<rect x="380" y="362" width="1" height="38" fill="url(#c197)"/>
<rect x="381" y="362" width="1" height="38" fill="url(#c198)"/>
<rect x="382" y="362" width="1" height="38" fill="url(#c199)"/>
<rect x="383" y="362" width="1" height="38" fill="url(#c200)"/>
<rect x="384" y="362" width="1" height="38" fill="url(#c201)"/>
<rect x="385" y="362" width="1" height="38" fill="url(#c202)"/>
<rect x="386" y="362" width="1" height="38" fill="url(#c203)"/>
<rect x="387" y="362" width="1" height="38" fill="url(#c204)"/>
<rect x="388" y="362" width="1" height="38" fill="url(#c205)"/>
<rect x="389" y="362" width="1" height="38" fill="url(#c206)"/>
<rect x="390" y="362" width="1" height="38" fill="url(#c207)"/>
<rect x="391" y="362" width="1" height="38" fill="url(#c208)"/>
<rect x="392" y="362" width="1" height="38" fill="url(#c209)"/>
<rect x="393" y="362" width="1" height="38" fill="url(#c210)"/>
<rect x="394" y="362" width="1" height="38" fill="url(#c211)"/>
<rect x="395" y="362" width="1" height="38" fill="url(#c212)"/>
<rect x="396" y="362" width="1" height="38" fill="url(#c213)"/>
<rect x="397" y="362" width="1" height="38" fill="url(#c214)"/>
<rect x="398" y="362" width="1" height="38" fill="url(#c215)"/>
<rect x="399" y="362" width="1" height="38" fill="url(#c216)"/>
<rect x="400" y="362" width="1" height="38" fill="url(#c217)"/>
<rect x="401" y="362" width="1" height="38" fill="url(#c218)"/>
<rect x="402" y="362" width="1" height="38" fill="url(#c219)"/>
<rect x="403" y="362" width="1" height="38" fill="url(#c220)"/>
<rect x="404" y="362" width="1" height="38" fill="url(#c221)"/>
<rect x="405" y="362" width="1" height="38" fill="url(#c222)"/>
<rect x="406" y="362" width="1" height="38" fill="url(#c223)"/>
<rect x="407" y="362" width="1" height="38" fill="url(#c224)"/>
<rect x="408" y="362" width="1" height="38" fill="url(#c225)"/>
<rect x="409" y="362" width="1" height="38" fill="url(#c226)"/>
<rect x="410" y="362" width="1" height="38" fill="url(#c227)"/>
<rect x="411" y="362" width="1" height="38" fill="url(#c228)"/>
<rect x="412" y="362" width="1" height="38" fill="url(#c229)"/>
<rect x="413" y="362" width="1" height="38" fill="url(#c230)"/>
<rect x="414" y="362" width="1" height="38" fill="url(#c231)"/>
<rect x="415" y="362" width="1" height="38" fill="url(#c232)"/>
<rect x="416" y="362" width="1" height="38" fill="url(#c233)"/>
<rect x="417" y="362" width="1" height="38" fill="url(#c234)"/>
<rect x="418" y="362" width="1" height="38" fill="url(#c235)"/>
<rect x="419" y="362" width="1" height="38" fill="url(#c236)"/>
<rect x="420" y="362" width="1" height="38" fill="url(#c237)"/>
<rect x="421" y="362" width="1" height="38" fill="url(#c238)"/>
<rect x="422" y="362" width="1" height="38" fill="url(#c239)"/>
<rect x="423" y="362" width="1" height="38" fill="url(#c240)"/>
<rect x="424" y="362" width="1" height="38" fill="url(#c241)"/>
<rect x="425" y="362" width="1" height="38" fill="url(#c242)"/>
<rect x="426" y="362" width="1" height="38" fill="url(#c243)"/>
<rect x="427" y="362" width="1" height="38" fill="url(#c244)"/>
<rect x="428" y="362" width="1" height="38" fill="url(#c245)"/>
<rect x="429" y="362" width="1" height="38" fill="url(#c246)"/>
<rect x="430" y="362" width="1" height="38" fill="url(#c247)"/>
<rect x="431" y="362" width="1" height="38" fill="url(#c248)"/>
<rect x="432" y="362" width="1" height="38" fill="url(#c249)"/>
<rect x="433" y="362" width="1" height="38" fill="url(#c250)"/>
<rect x="434" y="362" width="1" height="38" fill="url(#c251)"/>
<rect x="435" y="362" width="1" height="38" fill="url(#c252)"/>
<rect x="436" y="362" width="1" height="38" fill="url(#c253)"/>
<rect x="437" y="362" width="1" height="38" fill="url(#c254)"/>
<rect x="438" y="362" width="1" height="38" fill="url(#c255)"/>
<rect x="439" y="362" width="1" height="38" fill="url(#c256)"/>
<rect x="440" y="362" width="1" height="38" fill="url(#c257)"/>
<rect x="441" y="362" width="1" height="38" fill="url(#c258)"/>
<rect x="442" y="362" width="1" height="38" fill="url(#c259)"/>
<rect x="443" y="362" width="1" height="38" fill="url(#c260)"/>
<rect x="444" y="362" width="1" height="38" fill="url(#c261)"/>
<rect x="445" y="362" width="1" height="38" fill="url(#c262)"/>
<rect x="446" y="362" width="1" height="38" fill="url(#c263)"/>
<rect x="447" y="362" width="1" height="38" fill="url(#c264)"/>
<rect x="448" y="362" width="1" height="38" fill="url(#c265)"/>
<rect x="449" y="362" width="1" height="38" fill="url(#c266)"/>
<rect x="450" y="362" width="1" height="38" fill="url(#c267)"/>
<rect x="451" y="362" width="1" height="38" fill="url(#c268)"/>
<rect x="452" y="362" width="1" height="38" fill="url(#c269)"/>
<rect x="453" y="362" width="1" height="38" fill="url(#c270)"/>
<rect x="454" y="362" width="1" height="38" fill="url(#c271)"/>
<rect x="455" y="362" width="1" height="38" fill="url(#c272)"/>
<rect x="456" y="362" width="1" height="38" fill="url(#c273)"/>
<rect x="457" y="362" width="1" height="38" fill="url(#c274)"/>
<rect x="458" y="362" width="1" height="38" fill="url(#c275)"/>
<rect x="459" y="362" width="1" height="38" fill="url(#c276)"/>
<rect x="460" y="362" width="1" height="38" fill="url(#c277)"/>
<rect x="461" y="362" width="1" height="38" fill="url(#c278)"/>
<rect x="462" y="362" width="1" height="38" fill="url(#c279)"/>
<rect x="463" y="362" width="1" height="38" fill="url(#c280)"/>
<rect x="464" y="362" width="1" height="38" fill="url(#c281)"/>
<rect x="465" y="362" width="1" height="38" fill="url(#c282)"/>
<rect x="466" y="362" width="1" height="38" fill="url(#c283)"/>
<rect x="467" y="362" width="1" height="38" fill="url(#c284)"/>
<rect x="468" y="362" width="1" height="38" fill="url(#c285)"/>
<rect x="469" y="362" width="1" height="38" fill="url(#c286)"/>
<rect x="470" y="362" width="1" height="38" fill="url(#c287)"/>
<rect x="471" y="362" width="1" height="38" fill="url(#c288)"/>
<rect x="472" y="362" width="1" height="38" fill="url(#c289)"/>
<rect x="473" y="362" width="1" height="38" fill="url(#c290)"/>
<rect x="474" y="362" width="1" height="38" fill="url(#c291)"/>
<rect x="475" y="362" width="1" height="38" fill="url(#c292)"/>
<rect x="476" y="362" width="1" height="38" fill="url(#c293)"/>
<rect x="477" y="362" width="1" height="38" fill="url(#c294)"/>
<rect x="478" y="362" width="1" height="38" fill="url(#c295)"/>
<rect x="479" y="362" width="1" height="38" fill="url(#c296)"/>
<rect x="480" y="362" width="1" height="38" fill="url(#c297)"/>
<rect x="481" y="362" width="1" height="38" fill="url(#c298)"/>
<rect x="482" y="362" width="1" height="38" fill="url(#c299)"/>
<rect x="483" y="362" width="1" height="38" fill="url(#c300)"/>
<rect x="484" y="362" width="1" height="38" fill="url(#c301)"/>
<rect x="485" y="362" width="1" height="38" fill="url(#c302)"/>
<rect x="486" y="362" width="1" height="38" fill="url(#c303)"/>
<rect x="487" y="362" width="1" height="38" fill="url(#c304)"/>
<rect x="488" y="362" width="1" height="38" fill="url(#c305)"/>
<rect x="489" y="362" width="1" height="38" fill="url(#c306)"/>
<rect x="490" y="362" width="1" height="38" fill="url(#c307)"/>
<rect x="491" y="362" width="1" height="38" fill="url(#c308)"/>
<rect x="492" y="362" width="1" height="38" fill="url(#c309)"/>
<rect x="493" y="362" width="1" height="38" fill="url(#c310)"/>
<rect x="494" y="362" width="1" height="38" fill="url(#c311)"/>
<rect x="495" y="362" width="1" height="38" fill="url(#c312)"/>
<rect x="496" y="362" width="1" height="38" fill="url(#c313)"/>
<rect x="497" y="362" width="1" height="38" fill="url(#c314)"/>
<rect x="498" y="362" width="1" height="38" fill="url(#c315)"/>
<rect x="499" y="362" width="1" height="38" fill="url(#c316)"/>
<rect x="500" y="362" width="1" height="38" fill="url(#c317)"/>
<rect x="501" y="362" width="1" height="38" fill="url(#c318)"/>
<rect x="502" y="362" width="1" height="38" fill="url(#c319)"/>
<rect x="503" y="362" width="1" height="38" fill="url(#c320)"/>
<rect x="504" y="362" width="1" height="38" fill="url(#c321)"/>
<rect x="505" y="362" width="1" height="38" fill="url(#c322)"/>
<rect x="506" y="362" width="1" height="38" fill="url(#c323)"/>
<rect x="507" y="362" width="1" height="38" fill="url(#c324)"/>
<rect x="508" y="362" width="1" height="38" fill="url(#c325)"/>
<rect x="509" y="362" width="1" height="38" fill="url(#c326)"/>
<rect x="510" y="362" width="1" height="38" fill="url(#c327)"/>
<rect x="511" y="362" width="1" height="38" fill="url(#c328)"/>
<rect x="512" y="362" width="1" height="38" fill="url(#c329)"/>
<rect x="513" y="362" width="1" height="38" fill="url(#c330)"/>
<rect x="514" y="362" width="1" height="38" fill="url(#c331)"/>
<rect x="515" y="362" width="1" height="38" fill="url(#c332)"/>
<rect x="516" y="362" width="1" height="38" fill="url(#c333)"/>
<rect x="517" y="362" width="1" height="38" fill="url(#c334)"/>
<rect x="518" y="362" width="1" height="38" fill="url(#c335)"/>
<rect x="519" y="362" width="1" height="38" fill="url(#c336)"/>
<rect x="520" y="362" width="1" height="38" fill="url(#c337)"/>
<rect x="521" y="362" width="1" height="38" fill="url(#c338)"/>
<rect x="522" y="362" width="1" height="38" fill="url(#c339)"/>
<rect x="523" y="362" width="1" height="38" fill="url(#c340)"/>
<rect x="524" y="362" width="1" height="38" fill="url(#c341)"/>
<rect x="525" y="362" width="1" height="38" fill="url(#c342)"/>
<rect x="526" y="362" width="1" height="38" fill="url(#c343)"/>
<rect x="527" y="362" width="1" height="38" fill="url(#c344)"/>
<rect x="528" y="362" width="1" height="38" fill="url(#c345)"/>
<rect x="529" y="362" width="1" height="38" fill="url(#c346)"/>
<rect x="530" y="362" width="1" height="38" fill="url(#c347)"/>
<rect x="531" y="362" width="1" height="38" fill="url(#c348)"/>
<rect x="532" y="362" width="1" height="38" fill="url(#c349)"/>
<rect x="533" y="362" width="1" height="38" fill="url(#c350)"/>
<rect x="534" y="362" width="1" height="38" fill="url(#c351)"/>
<rect x="535" y="362" width="1" height="38" fill="url(#c352)"/>
<rect x="536" y="362" width="1" height="38" fill="url(#c353)"/>
<rect x="537" y="362" width="1" height="38" fill="url(#c354)"/>
<rect x="538" y="362" width="1" height="38" fill="url(#c355)"/>
<rect x="539" y="362" width="1" height="38" fill="url(#c356)"/>
<rect x="540" y="362" width="1" height="38" fill="url(#c357)"/>
<rect x="541" y="362" width="1" height="38" fill="url(#c358)"/>
<rect x="542" y="362" width="1" height="38" fill="url(#c359)"/>
<rect x="543" y="362" width="1" height="38" fill="url(#c360)"/>
<rect x="544" y="362" width="1" height="38" fill="url(#c361)"/>
<rect x="545" y="362" width="1" height="38" fill="url(#c362)"/>
<rect x="546" y="362" width="1" height="38" fill="url(#c363)"/>
<rect x="547" y="362" width="1" height="38" fill="url(#c364)"/>
<rect x="548" y="362" width="1" height="38" fill="url(#c365)"/>
<rect x="549" y="362" width="1" height="38" fill="url(#c366)"/>
<rect x="550" y="362" width="1" height="38" fill="url(#c367)"/>
<rect x="551" y="362" width="1" height="38" fill="url(#c368)"/>
<rect x="552" y="362" width="1" height="38" fill="url(#c369)"/>
<rect x="553" y="362" width="1" height="38" fill="url(#c370)"/>
<rect x="554" y="362" width="1" height="38" fill="url(#c371)"/>
<rect x="555" y="362" width="1" height="38" fill="url(#c372)"/>
<rect x="556" y="362" width="1" height="38" fill="url(#c373)"/>
<rect x="557" y="362" width="1" height="38" fill="url(#c374)"/>
<rect x="558" y="362" width="1" height="38" fill="url(#c375)"/>
<rect x="559" y="362" width="1" height="38" fill="url(#c376)"/>
<rect x="560" y="362" width="1" height="38" fill="url(#c377)"/>
<rect x="561" y="362" width="1" height="38" fill="url(#c378)"/>
<rect x="562" y="362" width="1" height="38" fill="url(#c379)"/>
<rect x="563" y="362" width="1" height="38" fill="url(#c380)"/>
<rect x="564" y="362" width="1" height="38" fill="url(#c381)"/>
<rect x="565" y="362" width="1" height="38" fill="url(#c382)"/>
<rect x="566" y="362" width="1" height="38" fill="url(#c383)"/>
<rect x="567" y="362" width="1" height="38" fill="url(#c384)"/>
<rect x="568" y="362" width="1" height="38" fill="url(#c385)"/>
<rect x="569" y="362" width="1" height="38" fill="url(#c386)"/>
<rect x="570" y="362" width="1" height="38" fill="url(#c387)"/>
<rect x="571" y="362" width="1" height="38" fill="url(#c388)"/>
<rect x="572" y="362" width="1" height="38" fill="url(#c389)"/>
<rect x="573" y="362" width="1" height="38" fill="url(#c390)"/>
<rect x="574" y="362" width="1" height="38" fill="url(#c391)"/>
<rect x="575" y="362" width="1" height="38" fill="url(#c392)"/>
<rect x="576" y="362" width="1" height="38" fill="url(#c393)"/>
<rect x="577" y="362" width="1" height="38" fill="url(#c394)"/>
<rect x="578" y="362" width="1" height="38" fill="url(#c395)"/>
<rect x="579" y="362" width="1" height="38" fill="url(#c396)"/>
<rect x="580" y="362" width="1" height="38" fill="url(#c397)"/>
<defs><linearGradient id="c1" x1="0" y1="0" x2="0" y2="1"><stop offset="0.0000" stop-color="#0034ff"/><stop offset="0.1995" stop-color="#003dff"/><stop offset="0.3590" stop-color="#0051ff"/><stop offset="0.4787" stop-color="#0068ff"/><stop offset="0.5745" stop-color="#007fff"/><stop offset="0.6543" stop-color="#0096ff"/><stop offset="0.7181" stop-color="#00abff"/><stop offset="0.7660" stop-color="#00bcff"/><stop offset="0.7979" stop-color="#00c8ff"/><stop offset="1.0000" stop-color="#00fffb"/></linearGradient><linearGradient id="c2" x1="0" y1="0" x2="0" y2="1"><stop offset="0.0000" stop-color="#0034ff"/><stop offset="0.1995" stop-color="#003dff"/><stop offset="0.3590" stop-color="#0051ff"/><stop offset="0.4787" stop-color="#0068ff"/><stop offset="0.5745" stop-color="#007fff"/><stop offset="0.6543" stop-color="#0096ff"/><stop offset="0.7181" stop-color="#00abff"/><stop offset="0.7660" stop-color="#00bcff"/><stop offset="0.7979" stop-color="#00c8ff"/><stop offset="1.0000" stop-color="#00fffb"/></linearGradient><linearGradient id="c3" x1="0" y1="0" x2="0" y2="1"><stop offset="0.0000" stop-color="#002bff"/><stop offset="0.1995" stop-color="#0033ff"/><stop offset="0.3590" stop-color="#0045ff"/><stop offset="0.4787" stop-color="#0059ff"/><stop offset="0.5745" stop-color="#006dff"/><stop offset="0.6543" stop-color="#0080ff"/><stop offset="0.7181" stop-color="#0092ff"/><stop offset="0.7660" stop-color="#00a1ff"/><stop offset="0.7979" stop-color="#00acff"/><stop offset="1.0000" stop-color="#00eeff"/></linearGradient><linearGradient id="c4" x1="0" y1="0" x2="0" y2="1"><stop offset="0.0000" stop-color="#0034ff"/><stop offset="0.1995" stop-color="#003dff"/><stop offset="0.3590" stop-color="#0051ff"/><stop offset="0.4787" stop-color="#0068ff"/><stop offset="0.5745" stop-color="#007fff"/><stop offset="0.6543" stop-color="#0096ff"/><stop offset="0.7181" stop-color="#00abff"/><stop offset="0.7660" stop-color="#00bcff"/><stop offset="0.7979" stop-color="#00c8ff"/><stop offset="1.0000" stop-color="#00fffb"/></linearGradient><linearGradient id="c5" x1="0" y1="0" x2="0" y2="1"><stop offset="0.0000" stop-color="#004fff"/><stop offset="0.1995" stop-color="#0058ff"/><stop offset="0.3590" stop-color="#006bff"/><stop offset="0.4787" stop-color="#0080ff"/><stop offset="0.5745" stop-color="#0097ff"/><stop offset="0.6543" stop-color="#00acff"/><stop offset="0.7181" stop-color="#00c0ff"/><stop offset="0.7660" stop-color="#00d0ff"/><stop offset="0.7979" stop-color="#00dbff"/><stop offset="1.0000" stop-color="#00fff6"/></linearGradient><linearGradient id="c6" x1="0" y1="0" x2="0" y2="1"><stop offset="0.0000" stop-color="#0034ff"/><stop offset="0.1995" stop-color="#003dff"/><stop offset="0.3590" stop-color="#0051ff"/><stop offset="0.4787" stop-color="#0068ff"/><stop offset="0.5745" stop-color="#007fff"/><stop offset="0.6543" stop-color="#0096ff"/><stop offset="0.7181" stop-color="#00abff"/><stop offset="0.7660" stop-color="#00bcff"/><stop offset="0.7979" stop-color="#00c8ff"/><stop offset="1.0000" stop-color="#00fffb"/></linearGradient><linearGradient id="c7" x1="0" y1="0" x2="0" y2="1"><stop offset="0.0000" stop-color="#0034ff"/><stop offset="0.1995" stop-color="#003dff"/><stop offset="0.3590" stop-color="#0051ff"/><stop offset="0.4787" stop-color="#0068ff"/><stop offset="0.5745" stop-color="#007fff"/><stop offset="0.6543" stop-color="#0096ff"/><stop offset="0.7181" stop-color="#00abff"/><stop offset="0.7660" stop-color="#00bcff"/><stop offset="0.7979" stop-color="#00c8ff"/><stop offset="1.0000" stop-color="#00fffb"/></linearGradient><linearGradient id="c8" x1="0" y1="0" x2="0" y2="1"><stop offset="0.0000" stop-color="#002bff"/><stop offset="0.1995" stop-color="#0033ff"/><stop offset="0.3590" stop-color="#0045ff"/><stop offset="0.4787" stop-color="#0059ff"/><stop offset="0.5745" stop-color="#006dff"/><stop offset="0.6543" stop-color="#0080ff"/><stop offset="0.7181" stop-color="#0092ff"/><stop offset="0.7660" stop-color="#00a1ff"/><stop offset="0.7979" stop-color="#00acff"/><stop offset="1.0000" stop-color="#00eeff"/></linearGradient><linearGradient id="c9" x1="0" y1="0" x2="0" y2="1"><stop offset="0.0000" stop-color="#0034ff"/><stop offset="0.1995" stop-color="#003dff"/><stop offset="0.3590" stop-color="#0051ff"/><stop offset="0.4787" stop-color="#0068ff"/><stop offset="0.5745" stop-color="#007fff"/><stop offset="0.6543" stop-color="#0096ff"/><stop offset="0.7181" stop-color="#00abff"/><stop offset="0.7660" stop-color="#00bcff"/><stop offset="0.7979" stop-color="#00c8ff"/><stop offset="1.0000" stop-color="#00fffb"/></linearGradient><linearGradient id="c10" x1="0" y1="0" x2="0" y2="1"><stop offset="0.0000" stop-color="#004fff"/><stop offset="0.1995" stop-color="#0058ff"/><stop offset="0.3590" stop-color="#006bff"/><stop offset="0.4787" stop-color="#0080ff"/><stop offset="0.5745" stop-color="#0097ff"/><stop offset="0.6543" stop-color="#00acff"/><stop offset="0.7181" stop-color="#00c0ff"/><stop offset="0.7660" stop-color="#00d0ff"/><stop offset="0.7979" stop-color="#00dbff"/><stop offset="1.0000" stop-color="#00fff6"/></linearGradient><linearGradient id="c11" x1="0" y1="0" x2="0" y2="1"><stop offset="0.0000" stop-color="#0034ff"/><stop offset="0.1995" stop-color="#003dff"/><stop offset="0.3590" stop-color="#0051ff"/><stop offset="0.4787" stop-color="#0068ff"/><stop offset="0.5745" stop-color="#007fff"/><stop offset="0.6543" stop-color="#0096ff"/><stop offset="0.7181" stop-color="#00abff"/><stop offset="0.7660" stop-color="#00bcff"/><stop offset="0.7979" stop-color="#00c8ff"/><stop offset="1.0000" stop-color="#00fffb"/></linearGradient><linearGradient id="c12" x1="0" y1="0" x2="0" y2="1"><stop offset="0.0000" stop-color="#0034ff"/><stop offset="0.1995" stop-color="#003dff"/><stop offset="0.3590" stop-color="#0051ff"/><stop offset="0.4787" stop-color="#0068ff"/><stop offset="0.5745" stop-color="#007fff"/><stop offset="0.6543" stop-color="#0096ff"/><stop offset="0.7181" stop-color="#00abff"/><stop offset="0.7660" stop-color="#00bcff"/><stop offset="0.7979" stop-color="#00c8ff"/><stop offset="1.0000" stop-color="#00fffb"/></linearGradient><linearGradient id="c13" x1="0" y1="0" x2="0" y2="1"><stop offset="0.0000" stop-color="#0034ff"/><stop offset="0.1995" stop-color="#003dff"/><stop offset="0.3590" stop-color="#0051ff"/><stop offset="0.4787" stop-color="#0068ff"/><stop offset="0.5745" stop-color="#007fff"/><stop offset="0.6543" stop-color="#0096ff"/><stop offset="0.7181" stop-color="#00abff"/><stop offset="0.7660" stop-color="#00bcff"/><stop offset="0.7979" stop-color="#00c8ff"/><stop offset="1.0000" stop-color="#00fffb"/></linearGradient><linearGradient id="c14" x1="0" y1="0" x2="0" y2="1"><stop offset="0.0000" stop-color="#002bff"/><stop offset="0.1995" stop-color="#0033ff"/><stop offset="0.3590" stop-color="#0045ff"/><stop offset="0.4787" stop-color="#0059ff"/><stop offset="0.5745" stop-color="#006dff"/><stop offset="0.6543" stop-color="#0080ff"/><stop offset="0.7181" stop-color="#0092ff"/><stop offset="0.7660" stop-color="#00a1ff"/><stop offset="0.7979" stop-color="#00acff"/><stop offset="1.0000" stop-color="#00eeff"/></linearGradient><linearGradient id="c15" x1="0" y1="0" x2="0" y2="1"><stop offset="0.0000" stop-color="#0034ff"/><stop offset="0.1995" stop-color="#003dff"/><stop offset="0.3590" stop-color="#0051ff"/><stop offset="0.4787" stop-color="#0068ff"/><stop offset="0.5745" stop-color="#007fff"/><stop offset="0.6543" stop-color="#0096ff"/><stop offset="0.7181" stop-color="#00abff"/><stop offset="0.7660" stop-color="#00bcff"/><stop offset="0.7979" stop-color="#00c8ff"/><stop offset="1.0000" stop-color="#00fffb"/></linearGradient><linearGradient id="c16" x1="0" y1="0" x2="0" y2="1"><stop offset="0.0000" stop-color="#0034ff"/><stop offset="0.1995" stop-color="#003eff"/><stop offset="0.3590" stop-color="#0055ff"/><stop offset="0.4787" stop-color="#006fff"/><stop offset="0.5745" stop-color="#0089ff"/><stop offset="0.6543" stop-color="#00a3ff"/><stop offset="0.7181" stop-color="#00bbff"/><stop offset="0.7660" stop-color="#00ceff"/><stop offset="0.7979" stop-color="#00dbff"/><stop offset="1.0000" stop-color="#00ffda"/></linearGradient><linearGradient id="c17" x1="0" y1="0" x2="0" y2="1"><stop offset="0.0000" stop-color="#0036ff"/><stop offset="0.1995" stop-color="#003cff"/><stop offset="0.3590" stop-color="#004fff"/><stop offset="0.4787" stop-color="#006aff"/><stop offset="0.5745" stop-color="#0089ff"/><stop offset="0.6543" stop-color="#00aaff"/><stop offset="0.7181" stop-color="#00caff"/><stop offset="0.7660" stop-color="#00e4ff"/><stop offset="0.7979" stop-color="#00f7ff"/><stop offset="0.7980" stop-color="#00ff9b"/><stop offset="1.0000" stop-color="#2aff00"/></linearGradient><linearGradient id="c18" x1="0" y1="0" x2="0" y2="1"><stop offset="0.0000" stop-color="#0035ff"/><stop offset="0.1995" stop-color="#003bff"/><stop offset="0.3590" stop-color="#004fff"/><stop offset="0.4787" stop-color="#006aff"/><stop offset="0.5745" stop-color="#0089ff"/><stop offset="0.6543" stop-color="#00aaff"/><stop offset="0.7181" stop-color="#00caff"/><stop offset="0.7660" stop-color="#00e4ff"/><stop offset="0.7979" stop-color="#00f7ff"/><stop offset="0.7980" stop-color="#00ff9b"/><stop offset="1.0000" stop-color="#2aff00"/></linearGradient><linearGradient id="c19" x1="0" y1="0" x2="0" y2="1"><stop offset="0.0000" stop-color="#002eff"/><stop offset="0.1995" stop-color="#0032ff"/><stop offset="0.3590" stop-color="#003fff"/><stop offset="0.4787" stop-color="#0051ff"/><stop offset="0.5745" stop-color="#0065ff"/><stop offset="0.6543" stop-color="#007aff"/><stop offset="0.7181" stop-color="#008eff"/><stop offset="0.7660" stop-color="#009fff"/><stop offset="0.7979" stop-color="#00acff"/><stop offset="0.7980" stop-color="#00ffda"/><stop offset="1.0000" stop-color="#00ff6a"/></linearGradient><linearGradient id="c20" x1="0" y1="0" x2="0" y2="1"><stop offset="0.0000" stop-color="#002dff"/><stop offset="0.1995" stop-color="#0031ff"/><stop offset="0.3590" stop-color="#003eff"/><stop offset="0.4787" stop-color="#0050ff"/><stop offset="0.5745" stop-color="#0064ff"/><stop offset="0.6543" stop-color="#0079ff"/><stop offset="0.7181" stop-color="#008eff"/><stop offset="0.7660" stop-color="#009fff"/><stop offset="0.7979" stop-color="#00acff"/><stop offset="0.7980" stop-color="#00f7ff"/><stop offset="1.0000" stop-color="#00ffb3"/></linearGradient><linearGradient id="c21" x1="0" y1="0" x2="0" y2="1"><stop offset="0.0000" stop-color="#0023ff"/><stop offset="0.1995" stop-color="#0027ff"/><stop offset="0.3590" stop-color="#0035ff"/><stop offset="0.4787" stop-color="#0049ff"/><stop offset="0.5745" stop-color="#005eff"/><stop offset="0.6543" stop-color="#0075ff"/><stop offset="0.7181" stop-color="#008bff"/><stop offset="0.7660" stop-color="#009eff"/><stop offset="0.7979" stop-color="#00acff"/><stop offset="0.7980" stop-color="#00f7ff"/><stop offset="1.0000" stop-color="#00ffb3"/></linearGradient><linearGradient id="c22" x1="0" y1="0" x2="0" y2="1"><stop offset="0.0000" stop-color="#0020ff"/><stop offset="0.1995" stop-color="#0024ff"/><stop offset="0.3590" stop-color="#0032ff"/><stop offset="0.4787" stop-color="#0046ff"/><stop offset="0.5745" stop-color="#005dff"/><stop offset="0.6543" stop-color="#0074ff"/><stop offset="0.7181" stop-color="#008aff"/><stop offset="0.7660" stop-color="#009eff"/><stop offset="0.7979" stop-color="#00acff"/><stop offset="0.7980" stop-color="#00f7ff"/><stop offset="1.0000" stop-color="#00ffb3"/></linearGradient><linearGradient id="c23" x1="0" y1="0" x2="0" y2="1"><stop offset="0.0000" stop-color="#002bff"/><stop offset="0.1995" stop-color="#002fff"/><stop offset="0.3590" stop-color="#003dff"/><stop offset="0.4787" stop-color="#004fff"/><stop offset="0.5745" stop-color="#0063ff"/><stop offset="0.6543" stop-color="#0078ff"/><stop offset="0.7181" stop-color="#008dff"/><stop offset="0.7660" stop-color="#009fff"/><stop offset="0.7979" stop-color="#00acff"/><stop offset="0.7980" stop-color="#00f7ff"/><stop offset="1.0000" stop-color="#00ffb3"/></linearGradient><linearGradient id="c24" x1="0" y1="0" x2="0" y2="1"><stop offset="0.0000" stop-color="#0021ff"/><stop offset="0.1995" stop-color="#0025ff"/><stop offset="0.3590" stop-color="#0033ff"/><stop offset="0.4787" stop-color="#0047ff"/><stop offset="0.5745" stop-color="#005dff"/><stop offset="0.6543" stop-color="#0074ff"/><stop offset="0.7181" stop-color="#008bff"/><stop offset="0.7660" stop-color="#009eff"/><stop offset="0.7979" stop-color="#00acff"/><stop offset="0.7980" stop-color="#00f7ff"/><stop offset="1.0000" stop-color="#00ffb3"/></linearGradient><linearGradient id="c25" x1="0" y1="0" x2="0" y2="1"><stop offset="0.0000" stop-color="#0024ff"/><stop offset="0.1995" stop-color="#0025ff"/><stop offset="0.3590" stop-color="#0028ff"/><stop offset="0.4787" stop-color="#002bff"/><stop offset="0.5745" stop-color="#002eff"/><stop offset="0.6543" stop-color="#0032ff"/><stop offset="0.7181" stop-color="#0034ff"/><stop offset="0.7660" stop-color="#0037ff"/><stop offset="0.7979" stop-color="#0038ff"/><stop offset="1.0000" stop-color="#0046ff"/></linearGradient><linearGradient id="c26" x1="0" y1="0" x2="0" y2="1"><stop offset="0.0000" stop-color="#0025ff"/><stop offset="0.1995" stop-color="#0026ff"/><stop offset="0.3590" stop-color="#0029ff"/><stop offset="0.4787" stop-color="#002cff"/><stop offset="0.5745" stop-color="#002fff"/><stop offset="0.6543" stop-color="#0032ff"/><stop offset="0.7181" stop-color="#0035ff"/><stop offset="0.7660" stop-color="#0037ff"/><stop offset="0.7979" stop-color="#0038ff"/><stop offset="1.0000" stop-color="#0046ff"/></linearGradient><linearGradient id="c27" x1="0" y1="0" x2="0" y2="1"><stop offset="0.0000" stop-color="#0061ff"/><stop offset="0.1995" stop-color="#0063ff"/><stop offset="0.3590" stop-color="#0067ff"/><stop offset="0.4787" stop-color="#006bff"/><stop offset="0.5745" stop-color="#006fff"/><stop offset="0.6543" stop-color="#0074ff"/><stop offset="0.7181" stop-color="#0077ff"/><stop offset="0.7660" stop-color="#007aff"/><stop offset="0.7979" stop-color="#007dff"/><stop offset="1.0000" stop-color="#0086ff"/></linearGradient><linearGradient id="c28" x1="0" y1="0" x2="0" y2="1"><stop offset="0.0000" stop-color="#002aff"/><stop offset="0.1995" stop-color="#002bff"/><stop offset="0.3590" stop-color="#002dff"/><stop offset="0.4787" stop-color="#002fff"/><stop offset="0.5745" stop-color="#0031ff"/><stop offset="0.6543" stop-color="#0034ff"/><stop offset="0.7181" stop-color="#0036ff"/><stop offset="0.7660" stop-color="#0037ff"/><stop offset="0.7979" stop-color="#0038ff"/><stop offset="1.0000" stop-color="#0046ff"/></linearGradient><linearGradient id="c29" x1="0" y1="0" x2="0" y2="1"><stop offset="0.0000" stop-color="#0029ff"/><stop offset="0.1995" stop-color="#002aff"/><stop offset="0.3590" stop-color="#002cff"/><stop offset="0.4787" stop-color="#002fff"/><stop offset="0.5745" stop-color="#0031ff"/><stop offset="0.6543" stop-color="#0033ff"/><stop offset="0.7181" stop-color="#0036ff"/><stop offset="0.7660" stop-color="#0037ff"/><stop offset="0.7979" stop-color="#0038ff"/><stop offset="1.0000" stop-color="#0046ff"/></linearGradient><linearGradient id="c30" x1="0" y1="0" x2="0" y2="1"><stop offset="0.0000" stop-color="#0033ff"/><stop offset="0.1995" stop-color="#0033ff"/><stop offset="0.3590" stop-color="#0034ff"/><stop offset="0.4787" stop-color="#0035ff"/><stop offset="0.5745" stop-color="#0036ff"/><stop offset="0.6543" stop-color="#0036ff"/><stop offset="0.7181" stop-color="#0037ff"/><stop offset="0.7660" stop-color="#0038ff"/><stop offset="0.7979" stop-color="#0038ff"/><stop offset="1.0000" stop-color="#0046ff"/></linearGradient><linearGradient id="c31" x1="0" y1="0" x2="0" y2="1"><stop offset="0.0000" stop-color="#002bff"/><stop offset="0.1995" stop-color="#002cff"/><stop offset="0.3590" stop-color="#002eff"/><stop offset="0.4787" stop-color="#0030ff"/><stop offset="0.5745" stop-color="#0032ff"/><stop offset="0.6543" stop-color="#0034ff"/><stop offset="0.7181" stop-color="#0036ff"/><stop offset="0.7660" stop-color="#0037ff"/><stop offset="0.7979" stop-color="#0038ff"/><stop offset="1.0000" stop-color="#0046ff"/></linearGradient><linearGradient id="c32" x1="0" y1="0" x2="0" y2="1"><stop offset="0.0000" stop-color="#002eff"/><stop offset="0.1995" stop-color="#0030ff"/><stop offset="0.3590" stop-color="#0035ff"/><stop offset="0.4787" stop-color="#003bff"/><stop offset="0.5745" stop-color="#0041ff"/><stop offset="0.6543" stop-color="#0046ff"/><stop offset="0.7181" stop-color="#004bff"/><stop offset="0.7660" stop-color="#004fff"/><stop offset="0.7979" stop-color="#0052ff"/><stop offset="1.0000" stop-color="#006eff"/></linearGradient><linearGradient id="c33" x1="0" y1="0" x2="0" y2="1"><stop offset="0.0000" stop-color="#002bff"/><stop offset="0.1995" stop-color="#002dff"/><stop offset="0.3590" stop-color="#0032ff"/><stop offset="0.4787" stop-color="#0038ff"/><stop offset="0.5745" stop-color="#003eff"/><stop offset="0.6543" stop-color="#0043ff"/><stop offset="0.7181" stop-color="#0048ff"/><stop offset="0.7660" stop-color="#004cff"/><stop offset="0.7979" stop-color="#004fff"/><stop offset="1.0000" stop-color="#006aff"/></linearGradient><linearGradient id="c34" x1="0" y1="0" x2="0" y2="1"><stop offset="0.0000" stop-color="#0046ff"/><stop offset="0.1995" stop-color="#0049ff"/><stop offset="0.3590" stop-color="#004fff"/><stop offset="0.4787" stop-color="#0056ff"/><stop offset="0.5745" stop-color="#005eff"/><stop offset="0.6543" stop-color="#0065ff"/><stop offset="0.7181" stop-color="#006bff"/><stop offset="0.7660" stop-color="#0070ff"/><stop offset="0.7979" stop-color="#0073ff"/><stop offset="1.0000" stop-color="#0086ff"/></linearGradient><linearGradient id="c35" x1="0" y1="0" x2="0" y2="1"><stop offset="0.0000" stop-color="#0046ff"/><stop offset="0.1995" stop-color="#0049ff"/><stop offset="0.3590" stop-color="#004fff"/><stop offset="0.4787" stop-color="#0056ff"/><stop offset="0.5745" stop-color="#005eff"/><stop offset="0.6543" stop-color="#0065ff"/><stop offset="0.7181" stop-color="#006bff"/><stop offset="0.7660" stop-color="#0070ff"/><stop offset="0.7979" stop-color="#0073ff"/><stop offset="1.0000" stop-color="#0086ff"/></linearGradient><linearGradient id="c36" x1="0" y1="0" x2="0" y2="1"><stop offset="0.0000" stop-color="#0026ff"/><stop offset="0.1995" stop-color="#0028ff"/><stop offset="0.3590" stop-color="#002dff"/><stop offset="0.4787" stop-color="#0033ff"/><stop offset="0.5745" stop-color="#0039ff"/><stop offset="0.6543" stop-color="#003eff"/><stop offset="0.7181" stop-color="#0043ff"/><stop offset="0.7660" stop-color="#0047ff"/><stop offset="0.7979" stop-color="#004aff"/><stop offset="1.0000" stop-color="#0065ff"/></linearGradient><linearGradient id="c37" x1="0" y1="0" x2="0" y2="1"><stop offset="0.0000" stop-color="#0036ff"/><stop offset="0.1995" stop-color="#0038ff"/><stop offset="0.3590" stop-color="#003dff"/><stop offset="0.4787" stop-color="#0043ff"/><stop offset="0.5745" stop-color="#0049ff"/><stop offset="0.6543" stop-color="#004eff"/><stop offset="0.7181" stop-color="#0053ff"/><stop offset="0.7660" stop-color="#0058ff"/><stop offset="0.7979" stop-color="#005aff"/><stop offset="1.0000" stop-color="#0076ff"/></linearGradient><linearGradient id="c38" x1="0" y1="0" x2="0" y2="1"><stop offset="0.0000" stop-color="#0036ff"/><stop offset="0.1995" stop-color="#0038ff"/><stop offset="0.3590" stop-color="#003dff"/><stop offset="0.4787" stop-color="#0043ff"/><stop offset="0.5745" stop-color="#0049ff"/><stop offset="0.6543" stop-color="#004eff"/><stop offset="0.7181" stop-color="#0053ff"/><stop offset="0.7660" stop-color="#0058ff"/><stop offset="0.7979" stop-color="#005aff"/><stop offset="1.0000" stop-color="#0076ff"/></linearGradient><linearGradient id="c39" x1="0" y1="0" x2="0" y2="1"><stop offset="0.0000" stop-color="#0032ff"/><stop offset="0.1995" stop-color="#0035ff"/><stop offset="0.3590" stop-color="#003aff"/><stop offset="0.4787" stop-color="#0040ff"/><stop offset="0.5745" stop-color="#0045ff"/><stop offset="0.6543" stop-color="#004bff"/><stop offset="0.7181" stop-color="#0050ff"/><stop offset="0.7660" stop-color="#0054ff"/><stop offset="0.7979" stop-color="#0057ff"/><stop offset="1.0000" stop-color="#0072ff"/></linearGradient><linearGradient id="c40" x1="0" y1="0" x2="0" y2="1"><stop offset="0.0000" stop-color="#002fff"/><stop offset="0.1995" stop-color="#0032ff"/><stop offset="0.3590" stop-color="#0037ff"/><stop offset="0.4787" stop-color="#003dff"/><stop offset="0.5745" stop-color="#0042ff"/><stop offset="0.6543" stop-color="#0048ff"/><stop offset="0.7181" stop-color="#004dff"/><stop offset="0.7660" stop-color="#0051ff"/><stop offset="0.7979" stop-color="#0054ff"/><stop offset="1.0000" stop-color="#006fff"/></linearGradient><linearGradient id="c41" x1="0" y1="0" x2="0" y2="1"><stop offset="0.0000" stop-color="#0027ff"/><stop offset="0.1995" stop-color="#0029ff"/><stop offset="0.3590" stop-color="#002eff"/><stop offset="0.4787" stop-color="#0034ff"/><stop offset="0.5745" stop-color="#0039ff"/><stop offset="0.6543" stop-color="#003fff"/><stop offset="0.7181" stop-color="#0044ff"/><stop offset="0.7660" stop-color="#0048ff"/><stop offset="0.7979" stop-color="#004bff"/><stop offset="1.0000" stop-color="#0066ff"/></linearGradient><linearGradient id="c42" x1="0" y1="0" x2="0" y2="1"><stop offset="0.0000" stop-color="#0025ff"/><stop offset="0.1995" stop-color="#0027ff"/><stop offset="0.3590" stop-color="#002cff"/><stop offset="0.4787" stop-color="#0032ff"/><stop offset="0.5745" stop-color="#0037ff"/><stop offset="0.6543" stop-color="#003dff"/><stop offset="0.7181" stop-color="#0042ff"/><stop offset="0.7660" stop-color="#0046ff"/><stop offset="0.7979" stop-color="#0049ff"/><stop offset="1.0000" stop-color="#0064ff"/></linearGradient><linearGradient id="c43" x1="0" y1="0" x2="0" y2="1"><stop offset="0.0000" stop-color="#0061ff"/><stop offset="0.1995" stop-color="#0064ff"/><stop offset="0.3590" stop-color="#0069ff"/><stop offset="0.4787" stop-color="#006eff"/><stop offset="0.5745" stop-color="#0074ff"/><stop offset="0.6543" stop-color="#007aff"/><stop offset="0.7181" stop-color="#007fff"/><stop offset="0.7660" stop-color="#0083ff"/><stop offset="0.7979" stop-color="#0086ff"/><stop offset="1.0000" stop-color="#0099ff"/></linearGradient><linearGradient id="c44" x1="0" y1="0" x2="0" y2="1"><stop offset="0.0000" stop-color="#0061ff"/><stop offset="0.1995" stop-color="#0064ff"/><stop offset="0.3590" stop-color="#0069ff"/><stop offset="0.4787" stop-color="#006eff"/><stop offset="0.5745" stop-color="#0074ff"/><stop offset="0.6543" stop-color="#007aff"/><stop offset="0.7181" stop-color="#007fff"/><stop offset="0.7660" stop-color="#0083ff"/><stop offset="0.7979" stop-color="#0086ff"/><stop offset="1.0000" stop-color="#0099ff"/></linearGradient><linearGradient id="c45" x1="0" y1="0" x2="0" y2="1"><stop offset="0.0000" stop-color="#0031ff"/><stop offset="0.1995" stop-color="#0033ff"/><stop offset="0.3590" stop-color="#0038ff"/><stop offset="0.4787" stop-color="#003eff"/><stop offset="0.5745" stop-color="#0044ff"/><stop offset="0.6543" stop-color="#0049ff"/><stop offset="0.7181" stop-color="#004eff"/><stop offset="0.7660" stop-color="#0052ff"/><stop offset="0.7979" stop-color="#0055ff"/><stop offset="1.0000" stop-color="#0070ff"/></linearGradient><linearGradient id="c46" x1="0" y1="0" x2="0" y2="1"><stop offset="0.0000" stop-color="#0028ff"/><stop offset="0.1995" stop-color="#002bff"/><stop offset="0.3590" stop-color="#0030ff"/><stop offset="0.4787" stop-color="#0036ff"/><stop offset="0.5745" stop-color="#003bff"/><stop offset="0.6543" stop-color="#0041ff"/><stop offset="0.7181" stop-color="#0046ff"/><stop offset="0.7660" stop-color="#004aff"/><stop offset="0.7979" stop-color="#004dff"/><stop offset="1.0000" stop-color="#0068ff"/></linearGradient><linearGradient id="c47" x1="0" y1="0" x2="0" y2="1"><stop offset="0.0000" stop-color="#0033ff"/><stop offset="0.1995" stop-color="#0035ff"/><stop offset="0.3590" stop-color="#003aff"/><stop offset="0.4787" stop-color="#0040ff"/><stop offset="0.5745" stop-color="#0045ff"/><stop offset="0.6543" stop-color="#004bff"/><stop offset="0.7181" stop-color="#0050ff"/><stop offset="0.7660" stop-color="#0054ff"/><stop offset="0.7979" stop-color="#0057ff"/><stop offset="1.0000" stop-color="#0072ff"/></linearGradient><linearGradient id="c48" x1="0" y1="0" x2="0" y2="1"><stop offset="0.0000" stop-color="#0028ff"/><stop offset="0.1995" stop-color="#002aff"/><stop offset="0.3590" stop-color="#0030ff"/><stop offset="0.4787" stop-color="#0035ff"/><stop offset="0.5745" stop-color="#003bff"/><stop offset="0.6543" stop-color="#0041ff"/><stop offset="0.7181" stop-color="#0046ff"/><stop offset="0.7660" stop-color="#004aff"/><stop offset="0.7979" stop-color="#004dff"/><stop offset="1.0000" stop-color="#0068ff"/></linearGradient><linearGradient id="c49" x1="0" y1="0" x2="0" y2="1"><stop offset="0.0000" stop-color="#0035ff"/><stop offset="0.1995" stop-color="#0037ff"/><stop offset="0.3590" stop-color="#003dff"/><stop offset="0.4787" stop-color="#0042ff"/><stop offset="0.5745" stop-color="#0048ff"/><stop offset="0.6543" stop-color="#004eff"/><stop offset="0.7181" stop-color="#0053ff"/><stop offset="0.7660" stop-color="#0057ff"/><stop offset="0.7979" stop-color="#005aff"/><stop offset="1.0000" stop-color="#0075ff"/></linearGradient><linearGradient id="c50" x1="0" y1="0" x2="0" y2="1"><stop offset="0.0000" stop-color="#0033ff"/><stop offset="0.1995" stop-color="#0034ff"/><stop offset="0.3590" stop-color="#003cff"/><stop offset="0.4787" stop-color="#0048ff"/><stop offset="0.5745" stop-color="#0058ff"/><stop offset="0.6543" stop-color="#006aff"/><stop offset="0.7181" stop-color="#007cff"/><stop offset="0.7660" stop-color="#008dff"/><stop offset="0.7979" stop-color="#0099ff"/><stop offset="1.0000" stop-color="#00eeff"/></linearGradient><linearGradient id="c51" x1="0" y1="0" x2="0" y2="1"><stop offset="0.0000" stop-color="#001fff"/><stop offset="0.1995" stop-color="#0021ff"/><stop offset="0.3590" stop-color="#002aff"/><stop offset="0.4787" stop-color="#0039ff"/><stop offset="0.5745" stop-color="#004cff"/><stop offset="0.6543" stop-color="#0062ff"/><stop offset="0.7181" stop-color="#0077ff"/><stop offset="0.7660" stop-color="#008aff"/><stop offset="0.7979" stop-color="#0099ff"/><stop offset="1.0000" stop-color="#00eeff"/></linearGradient><linearGradient id="c52" x1="0" y1="0" x2="0" y2="1"><stop offset="0.0000" stop-color="#0024ff"/><stop offset="0.1995" stop-color="#0026ff"/><stop offset="0.3590" stop-color="#002bff"/><stop offset="0.4787" stop-color="#0031ff"/><stop offset="0.5745" stop-color="#0037ff"/><stop offset="0.6543" stop-color="#003dff"/><stop offset="0.7181" stop-color="#0042ff"/><stop offset="0.7660" stop-color="#0046ff"/><stop offset="0.7979" stop-color="#0048ff"/><stop offset="1.0000" stop-color="#0064ff"/></linearGradient><linearGradient id="c53" x1="0" y1="0" x2="0" y2="1"><stop offset="0.0000" stop-color="#0034ff"/><stop offset="0.1995" stop-color="#0036ff"/><stop offset="0.3590" stop-color="#003bff"/><stop offset="0.4787" stop-color="#0041ff"/><stop offset="0.5745" stop-color="#0047ff"/><stop offset="0.6543" stop-color="#004dff"/><stop offset="0.7181" stop-color="#0052ff"/><stop offset="0.7660" stop-color="#0056ff"/><stop offset="0.7979" stop-color="#0058ff"/><stop offset="1.0000" stop-color="#0074ff"/></linearGradient><linearGradient id="c54" x1="0" y1="0" x2="0" y2="1"><stop offset="0.0000" stop-color="#002aff"/><stop offset="0.1995" stop-color="#002fff"/><stop offset="0.3590" stop-color="#0042ff"/><stop offset="0.4787" stop-color="#005aff"/><stop offset="0.5745" stop-color="#0076ff"/><stop offset="0.6543" stop-color="#0094ff"/><stop offset="0.7181" stop-color="#00b1ff"/><stop offset="0.7660" stop-color="#00c9ff"/><stop offset="0.7979" stop-color="#00dbff"/><stop offset="0.7980" stop-color="#00ffc5"/><stop offset="1.0000" stop-color="#00ff30"/></linearGradient><linearGradient id="c55" x1="0" y1="0" x2="0" y2="1"><stop offset="0.0000" stop-color="#0036ff"/><stop offset="0.1995" stop-color="#003bff"/><stop offset="0.3590" stop-color="#004cff"/><stop offset="0.4787" stop-color="#0063ff"/><stop offset="0.5745" stop-color="#007dff"/><stop offset="0.6543" stop-color="#0099ff"/><stop offset="0.7181" stop-color="#00b4ff"/><stop offset="0.7660" stop-color="#00cbff"/><stop offset="0.7979" stop-color="#00dbff"/><stop offset="0.7980" stop-color="#00ffc5"/><stop offset="1.0000" stop-color="#00ff30"/></linearGradient><linearGradient id="c56" x1="0" y1="0" x2="0" y2="1"><stop offset="0.0000" stop-color="#0028ff"/><stop offset="0.1995" stop-color="#002eff"/><stop offset="0.3590" stop-color="#0040ff"/><stop offset="0.4787" stop-color="#0059ff"/><stop offset="0.5745" stop-color="#0075ff"/><stop offset="0.6543" stop-color="#0094ff"/><stop offset="0.7181" stop-color="#00b1ff"/><stop offset="0.7660" stop-color="#00c9ff"/><stop offset="0.7979" stop-color="#00dbff"/><stop offset="0.7980" stop-color="#00ffc5"/><stop offset="1.0000" stop-color="#00ff30"/></linearGradient><linearGradient id="c57" x1="0" y1="0" x2="0" y2="1"><stop offset="0.0000" stop-color="#0021ff"/><stop offset="0.1995" stop-color="#0027ff"/><stop offset="0.3590" stop-color="#003aff"/><stop offset="0.4787" stop-color="#0054ff"/><stop offset="0.5745" stop-color="#0071ff"/><stop offset="0.6543" stop-color="#0091ff"/><stop offset="0.7181" stop-color="#00afff"/><stop offset="0.7660" stop-color="#00c9ff"/><stop offset="0.7979" stop-color="#00dbff"/><stop offset="0.7980" stop-color="#00ffc5"/><stop offset="1.0000" stop-color="#00ff30"/></linearGradient><linearGradient id="c58" x1="0" y1="0" x2="0" y2="1"><stop offset="0.0000" stop-color="#002eff"/><stop offset="0.1995" stop-color="#0032ff"/><stop offset="0.3590" stop-color="#0040ff"/><stop offset="0.4787" stop-color="#0053ff"/><stop offset="0.5745" stop-color="#0068ff"/><stop offset="0.6543" stop-color="#007fff"/><stop offset="0.7181" stop-color="#0095ff"/><stop offset="0.7660" stop-color="#00a8ff"/><stop offset="0.7979" stop-color="#00b5ff"/><stop offset="0.7980" stop-color="#00e4ff"/><stop offset="1.0000" stop-color="#00fff4"/></linearGradient><linearGradient id="c59" x1="0" y1="0" x2="0" y2="1"><stop offset="0.0000" stop-color="#0031ff"/><stop offset="0.1995" stop-color="#0035ff"/><stop offset="0.3590" stop-color="#0043ff"/><stop offset="0.4787" stop-color="#0055ff"/><stop offset="0.5745" stop-color="#006aff"/><stop offset="0.6543" stop-color="#0080ff"/><stop offset="0.7181" stop-color="#0096ff"/><stop offset="0.7660" stop-color="#00a8ff"/><stop offset="0.7979" stop-color="#00b5ff"/><stop offset="0.7980" stop-color="#00e4ff"/><stop offset="1.0000" stop-color="#00fff4"/></linearGradient><linearGradient id="c60" x1="0" y1="0" x2="0" y2="1"><stop offset="0.0000" stop-color="#0025ff"/><stop offset="0.1995" stop-color="#0028ff"/><stop offset="0.3590" stop-color="#0030ff"/><stop offset="0.4787" stop-color="#003bff"/><stop offset="0.5745" stop-color="#0048ff"/><stop offset="0.6543" stop-color="#0055ff"/><stop offset="0.7181" stop-color="#0061ff"/><stop offset="0.7660" stop-color="#006cff"/><stop offset="0.7979" stop-color="#0073ff"/><stop offset="1.0000" stop-color="#00b5ff"/></linearGradient><linearGradient id="c61" x1="0" y1="0" x2="0" y2="1"><stop offset="0.0000" stop-color="#0021ff"/><stop offset="0.1995" stop-color="#0024ff"/><stop offset="0.3590" stop-color="#002cff"/><stop offset="0.4787" stop-color="#0038ff"/><stop offset="0.5745" stop-color="#0045ff"/><stop offset="0.6543" stop-color="#0053ff"/><stop offset="0.7181" stop-color="#0060ff"/><stop offset="0.7660" stop-color="#006bff"/><stop offset="0.7979" stop-color="#0073ff"/><stop offset="1.0000" stop-color="#00b5ff"/></linearGradient><linearGradient id="c62" x1="0" y1="0" x2="0" y2="1"><stop offset="0.0000" stop-color="#0027ff"/><stop offset="0.1995" stop-color="#0029ff"/><stop offset="0.3590" stop-color="#0031ff"/><stop offset="0.4787" stop-color="#003cff"/><stop offset="0.5745" stop-color="#0049ff"/><stop offset="0.6543" stop-color="#0056ff"/><stop offset="0.7181" stop-color="#0062ff"/><stop offset="0.7660" stop-color="#006cff"/><stop offset="0.7979" stop-color="#0073ff"/><stop offset="1.0000" stop-color="#00b5ff"/></linearGradient><linearGradient id="c63" x1="0" y1="0" x2="0" y2="1"><stop offset="0.0000" stop-color="#0035ff"/><stop offset="0.1995" stop-color="#0037ff"/><stop offset="0.3590" stop-color="#003eff"/><stop offset="0.4787" stop-color="#0047ff"/><stop offset="0.5745" stop-color="#0051ff"/><stop offset="0.6543" stop-color="#005bff"/><stop offset="0.7181" stop-color="#0065ff"/><stop offset="0.7660" stop-color="#006dff"/><stop offset="0.7979" stop-color="#0073ff"/><stop offset="1.0000" stop-color="#00b5ff"/></linearGradient><linearGradient id="c64" x1="0" y1="0" x2="0" y2="1"><stop offset="0.0000" stop-color="#0031ff"/><stop offset="0.1995" stop-color="#0033ff"/><stop offset="0.3590" stop-color="#003aff"/><stop offset="0.4787" stop-color="#0043ff"/><stop offset="0.5745" stop-color="#004eff"/><stop offset="0.6543" stop-color="#0059ff"/><stop offset="0.7181" stop-color="#0064ff"/><stop offset="0.7660" stop-color="#006dff"/><stop offset="0.7979" stop-color="#0073ff"/><stop offset="1.0000" stop-color="#00b5ff"/></linearGradient><linearGradient id="c65" x1="0" y1="0" x2="0" y2="1"><stop offset="0.0000" stop-color="#0022ff"/><stop offset="0.1995" stop-color="#0025ff"/><stop offset="0.3590" stop-color="#002dff"/><stop offset="0.4787" stop-color="#0039ff"/><stop offset="0.5745" stop-color="#0046ff"/><stop offset="0.6543" stop-color="#0054ff"/><stop offset="0.7181" stop-color="#0061ff"/><stop offset="0.7660" stop-color="#006cff"/><stop offset="0.7979" stop-color="#0073ff"/><stop offset="1.0000" stop-color="#00b5ff"/></linearGradient><linearGradient id="c66" x1="0" y1="0" x2="0" y2="1"><stop offset="0.0000" stop-color="#0025ff"/><stop offset="0.1995" stop-color="#0027ff"/><stop offset="0.3590" stop-color="#0030ff"/><stop offset="0.4787" stop-color="#003bff"/><stop offset="0.5745" stop-color="#0047ff"/><stop offset="0.6543" stop-color="#0055ff"/><stop offset="0.7181" stop-color="#0061ff"/><stop offset="0.7660" stop-color="#006cff"/><stop offset="0.7979" stop-color="#0073ff"/><stop offset="1.0000" stop-color="#00b5ff"/></linearGradient><linearGradient id="c67" x1="0" y1="0" x2="0" y2="1"><stop offset="0.0000" stop-color="#0022ff"/><stop offset="0.1995" stop-color="#0024ff"/><stop offset="0.3590" stop-color="#002dff"/><stop offset="0.4787" stop-color="#0038ff"/><stop offset="0.5745" stop-color="#0046ff"/><stop offset="0.6543" stop-color="#0053ff"/><stop offset="0.7181" stop-color="#0061ff"/><stop offset="0.7660" stop-color="#006cff"/><stop offset="0.7979" stop-color="#0073ff"/><stop offset="1.0000" stop-color="#00b5ff"/></linearGradient><linearGradient id="c68" x1="0" y1="0" x2="0" y2="1"><stop offset="0.0000" stop-color="#0021ff"/><stop offset="0.1995" stop-color="#0023ff"/><stop offset="0.3590" stop-color="#002cff"/><stop offset="0.4787" stop-color="#0038ff"/><stop offset="0.5745" stop-color="#0045ff"/><stop offset="0.6543" stop-color="#0053ff"/><stop offset="0.7181" stop-color="#0060ff"/><stop offset="0.7660" stop-color="#006bff"/><stop offset="0.7979" stop-color="#0073ff"/><stop offset="1.0000" stop-color="#00b5ff"/></linearGradient><linearGradient id="c69" x1="0" y1="0" x2="0" y2="1"><stop offset="0.0000" stop-color="#0cff00"/><stop offset="0.1995" stop-color="#0cff00"/><stop offset="0.3590" stop-color="#0cff00"/><stop offset="0.4787" stop-color="#0cff00"/><stop offset="0.5745" stop-color="#0cff00"/><stop offset="0.6543" stop-color="#0cff00"/><stop offset="0.7181" stop-color="#0cff00"/><stop offset="0.7660" stop-color="#0cff00"/><stop offset="0.7979" stop-color="#0cff00"/><stop offset="1.0000" stop-color="#0cff00"/></linearGradient><linearGradient id="c70" x1="0" y1="0" x2="0" y2="1"><stop offset="0.0000" stop-color="#0023ff"/><stop offset="0.1995" stop-color="#0026ff"/><stop offset="0.3590" stop-color="#002bff"/><stop offset="0.4787" stop-color="#0030ff"/><stop offset="0.5745" stop-color="#0036ff"/><stop offset="0.6543" stop-color="#003cff"/><stop offset="0.7181" stop-color="#0041ff"/><stop offset="0.7660" stop-color="#0045ff"/><stop offset="0.7979" stop-color="#0048ff"/><stop offset="1.0000" stop-color="#0063ff"/></linearGradient><linearGradient id="c71" x1="0" y1="0" x2="0" y2="1"><stop offset="0.0000" stop-color="#002cff"/><stop offset="0.1995" stop-color="#002eff"/><stop offset="0.3590" stop-color="#0033ff"/><stop offset="0.4787" stop-color="#0039ff"/><stop offset="0.5745" stop-color="#003fff"/><stop offset="0.6543" stop-color="#0045ff"/><stop offset="0.7181" stop-color="#004aff"/><stop offset="0.7660" stop-color="#004eff"/><stop offset="0.7979" stop-color="#0050ff"/><stop offset="1.0000" stop-color="#006cff"/></linearGradient><linearGradient id="c72" x1="0" y1="0" x2="0" y2="1"><stop offset="0.0000" stop-color="#002aff"/><stop offset="0.1995" stop-color="#002cff"/><stop offset="0.3590" stop-color="#0031ff"/><stop offset="0.4787" stop-color="#0037ff"/><stop offset="0.5745" stop-color="#003cff"/><stop offset="0.6543" stop-color="#0042ff"/><stop offset="0.7181" stop-color="#0047ff"/><stop offset="0.7660" stop-color="#004bff"/><stop offset="0.7979" stop-color="#004eff"/><stop offset="1.0000" stop-color="#0069ff"/></linearGradient><linearGradient id="c73" x1="0" y1="0" x2="0" y2="1"><stop offset="0.0000" stop-color="#0024ff"/><stop offset="0.1995" stop-color="#0026ff"/><stop offset="0.3590" stop-color="#002bff"/><stop offset="0.4787" stop-color="#0031ff"/><stop offset="0.5745" stop-color="#0037ff"/><stop offset="0.6543" stop-color="#003cff"/><stop offset="0.7181" stop-color="#0041ff"/><stop offset="0.7660" stop-color="#0045ff"/><stop offset="0.7979" stop-color="#0048ff"/><stop offset="1.0000" stop-color="#0063ff"/></linearGradient><linearGradient id="c74" x1="0" y1="0" x2="0" y2="1"><stop offset="0.0000" stop-color="#0030ff"/><stop offset="0.1995" stop-color="#0032ff"/><stop offset="0.3590" stop-color="#0037ff"/><stop offset="0.4787" stop-color="#003dff"/><stop offset="0.5745" stop-color="#0043ff"/><stop offset="0.6543" stop-color="#0048ff"/><stop offset="0.7181" stop-color="#004dff"/><stop offset="0.7660" stop-color="#0052ff"/><stop offset="0.7979" stop-color="#0054ff"/><stop offset="1.0000" stop-color="#0070ff"/></linearGradient><linearGradient id="c75" x1="0" y1="0" x2="0" y2="1"><stop offset="0.0000" stop-color="#0022ff"/><stop offset="0.1995" stop-color="#0025ff"/><stop offset="0.3590" stop-color="#002aff"/><stop offset="0.4787" stop-color="#002fff"/><stop offset="0.5745" stop-color="#0035ff"/><stop offset="0.6543" stop-color="#003bff"/><stop offset="0.7181" stop-color="#0040ff"/><stop offset="0.7660" stop-color="#0044ff"/><stop offset="0.7979" stop-color="#0047ff"/><stop offset="1.0000" stop-color="#0062ff"/></linearGradient><linearGradient id="c76" x1="0" y1="0" x2="0" y2="1"><stop offset="0.0000" stop-color="#002eff"/><stop offset="0.1995" stop-color="#002fff"/><stop offset="0.3590" stop-color="#0036ff"/><stop offset="0.4787" stop-color="#0041ff"/><stop offset="0.5745" stop-color="#004fff"/><stop offset="0.6543" stop-color="#005eff"/><stop offset="0.7181" stop-color="#006eff"/><stop offset="0.7660" stop-color="#007cff"/><stop offset="0.7979" stop-color="#0086ff"/><stop offset="1.0000" stop-color="#00e4ff"/></linearGradient><linearGradient id="c77" x1="0" y1="0" x2="0" y2="1"><stop offset="0.0000" stop-color="#0022ff"/><stop offset="0.1995" stop-color="#0024ff"/><stop offset="0.3590" stop-color="#002fff"/><stop offset="0.4787" stop-color="#0041ff"/><stop offset="0.5745" stop-color="#0058ff"/><stop offset="0.6543" stop-color="#0072ff"/><stop offset="0.7181" stop-color="#008cff"/><stop offset="0.7660" stop-color="#00a4ff"/><stop offset="0.7979" stop-color="#00b5ff"/><stop offset="0.7980" stop-color="#00f7ff"/><stop offset="1.0000" stop-color="#00ffbb"/></linearGradient><linearGradient id="c78" x1="0" y1="0" x2="0" y2="1"><stop offset="0.0000" stop-color="#0029ff"/><stop offset="0.1995" stop-color="#002bff"/><stop offset="0.3590" stop-color="#0036ff"/><stop offset="0.4787" stop-color="#0047ff"/><stop offset="0.5745" stop-color="#005cff"/><stop offset="0.6543" stop-color="#0075ff"/><stop offset="0.7181" stop-color="#008eff"/><stop offset="0.7660" stop-color="#00a5ff"/><stop offset="0.7979" stop-color="#00b5ff"/><stop offset="0.7980" stop-color="#00f7ff"/><stop offset="1.0000" stop-color="#00ffbb"/></linearGradient><linearGradient id="c79" x1="0" y1="0" x2="0" y2="1"><stop offset="0.0000" stop-color="#0024ff"/><stop offset="0.1995" stop-color="#0026ff"/><stop offset="0.3590" stop-color="#0031ff"/><stop offset="0.4787" stop-color="#0043ff"/><stop offset="0.5745" stop-color="#005aff"/><stop offset="0.6543" stop-color="#0073ff"/><stop offset="0.7181" stop-color="#008dff"/><stop offset="0.7660" stop-color="#00a4ff"/><stop offset="0.7979" stop-color="#00b5ff"/><stop offset="0.7980" stop-color="#00f7ff"/><stop offset="1.0000" stop-color="#00ffbb"/></linearGradient><linearGradient id="c80" x1="0" y1="0" x2="0" y2="1"><stop offset="0.0000" stop-color="#0025ff"/><stop offset="0.1995" stop-color="#0027ff"/><stop offset="0.3590" stop-color="#002eff"/><stop offset="0.4787" stop-color="#003aff"/><stop offset="0.5745" stop-color="#0049ff"/><stop offset="0.6543" stop-color="#005bff"/><stop offset="0.7181" stop-color="#006cff"/><stop offset="0.7660" stop-color="#007bff"/><stop offset="0.7979" stop-color="#0086ff"/><stop offset="1.0000" stop-color="#00e4ff"/></linearGradient><linearGradient id="c81" x1="0" y1="0" x2="0" y2="1"><stop offset="0.0000" stop-color="#0035ff"/><stop offset="0.1995" stop-color="#0038ff"/><stop offset="0.3590" stop-color="#003dff"/><stop offset="0.4787" stop-color="#0043ff"/><stop offset="0.5745" stop-color="#0048ff"/><stop offset="0.6543" stop-color="#004eff"/><stop offset="0.7181" stop-color="#0053ff"/><stop offset="0.7660" stop-color="#0057ff"/><stop offset="0.7979" stop-color="#005aff"/><stop offset="1.0000" stop-color="#0075ff"/></linearGradient><linearGradient id="c82" x1="0" y1="0" x2="0" y2="1"><stop offset="0.0000" stop-color="#0032ff"/><stop offset="0.1995" stop-color="#0034ff"/><stop offset="0.3590" stop-color="#0039ff"/><stop offset="0.4787" stop-color="#003fff"/><stop offset="0.5745" stop-color="#0044ff"/><stop offset="0.6543" stop-color="#004aff"/><stop offset="0.7181" stop-color="#004fff"/><stop offset="0.7660" stop-color="#0053ff"/><stop offset="0.7979" stop-color="#0056ff"/><stop offset="1.0000" stop-color="#0071ff"/></linearGradient><linearGradient id="c83" x1="0" y1="0" x2="0" y2="1"><stop offset="0.0000" stop-color="#0026ff"/><stop offset="0.1995" stop-color="#0029ff"/><stop offset="0.3590" stop-color="#002eff"/><stop offset="0.4787" stop-color="#0033ff"/><stop offset="0.5745" stop-color="#0039ff"/><stop offset="0.6543" stop-color="#003fff"/><stop offset="0.7181" stop-color="#0044ff"/><stop offset="0.7660" stop-color="#0048ff"/><stop offset="0.7979" stop-color="#004bff"/><stop offset="1.0000" stop-color="#0066ff"/></linearGradient><linearGradient id="c84" x1="0" y1="0" x2="0" y2="1"><stop offset="0.0000" stop-color="#0033ff"/><stop offset="0.1995" stop-color="#0036ff"/><stop offset="0.3590" stop-color="#003bff"/><stop offset="0.4787" stop-color="#0041ff"/><stop offset="0.5745" stop-color="#0046ff"/><stop offset="0.6543" stop-color="#004cff"/><stop offset="0.7181" stop-color="#0051ff"/><stop offset="0.7660" stop-color="#0055ff"/><stop offset="0.7979" stop-color="#0058ff"/><stop offset="1.0000" stop-color="#0073ff"/></linearGradient><linearGradient id="c85" x1="0" y1="0" x2="0" y2="1"><stop offset="0.0000" stop-color="#0024ff"/><stop offset="0.1995" stop-color="#0026ff"/><stop offset="0.3590" stop-color="#002cff"/><stop offset="0.4787" stop-color="#0031ff"/><stop offset="0.5745" stop-color="#0037ff"/><stop offset="0.6543" stop-color="#003dff"/><stop offset="0.7181" stop-color="#0042ff"/><stop offset="0.7660" stop-color="#0046ff"/><stop offset="0.7979" stop-color="#0049ff"/><stop offset="1.0000" stop-color="#0064ff"/></linearGradient><linearGradient id="c86" x1="0" y1="0" x2="0" y2="1"><stop offset="0.0000" stop-color="#0028ff"/><stop offset="0.1995" stop-color="#002bff"/><stop offset="0.3590" stop-color="#0030ff"/><stop offset="0.4787" stop-color="#0035ff"/><stop offset="0.5745" stop-color="#003bff"/><stop offset="0.6543" stop-color="#0041ff"/><stop offset="0.7181" stop-color="#0046ff"/><stop offset="0.7660" stop-color="#004aff"/><stop offset="0.7979" stop-color="#004dff"/><stop offset="1.0000" stop-color="#0068ff"/></linearGradient><linearGradient id="c87" x1="0" y1="0" x2="0" y2="1"><stop offset="0.0000" stop-color="#0033ff"/><stop offset="0.1995" stop-color="#0035ff"/><stop offset="0.3590" stop-color="#003aff"/><stop offset="0.4787" stop-color="#0040ff"/><stop offset="0.5745" stop-color="#0046ff"/><stop offset="0.6543" stop-color="#004bff"/><stop offset="0.7181" stop-color="#0050ff"/><stop offset="0.7660" stop-color="#0054ff"/><stop offset="0.7979" stop-color="#0057ff"/><stop offset="1.0000" stop-color="#0072ff"/></linearGradient><linearGradient id="c88" x1="0" y1="0" x2="0" y2="1"><stop offset="0.0000" stop-color="#002eff"/><stop offset="0.1995" stop-color="#0030ff"/><stop offset="0.3590" stop-color="#0035ff"/><stop offset="0.4787" stop-color="#003bff"/><stop offset="0.5745" stop-color="#0041ff"/><stop offset="0.6543" stop-color="#0046ff"/><stop offset="0.7181" stop-color="#004bff"/><stop offset="0.7660" stop-color="#004fff"/><stop offset="0.7979" stop-color="#0052ff"/><stop offset="1.0000" stop-color="#006eff"/></linearGradient><linearGradient id="c89" x1="0" y1="0" x2="0" y2="1"><stop offset="0.0000" stop-color="#48ff00"/><stop offset="0.1995" stop-color="#48ff00"/><stop offset="0.3590" stop-color="#48ff00"/><stop offset="0.4787" stop-color="#48ff00"/><stop offset="0.5745" stop-color="#48ff00"/><stop offset="0.6543" stop-color="#48ff00"/><stop offset="0.7181" stop-color="#48ff00"/><stop offset="0.7660" stop-color="#48ff00"/><stop offset="0.7979" stop-color="#48ff00"/><stop offset="1.0000" stop-color="#48ff00"/></linearGradient><linearGradient id="c90" x1="0" y1="0" x2="0" y2="1"><stop offset="0.0000" stop-color="#0036ff"/><stop offset="0.1995" stop-color="#0036ff"/><stop offset="0.3590" stop-color="#0037ff"/><stop offset="0.4787" stop-color="#0038ff"/><stop offset="0.5745" stop-color="#003aff"/><stop offset="0.6543" stop-color="#003bff"/><stop offset="0.7181" stop-color="#003cff"/><stop offset="0.7660" stop-color="#003cff"/><stop offset="0.7979" stop-color="#003dff"/><stop offset="1.0000" stop-color="#004fff"/></linearGradient><linearGradient id="c91" x1="0" y1="0" x2="0" y2="1"><stop offset="0.0000" stop-color="#0024ff"/><stop offset="0.1995" stop-color="#0026ff"/><stop offset="0.3590" stop-color="#0029ff"/><stop offset="0.4787" stop-color="#002dff"/><stop offset="0.5745" stop-color="#0031ff"/><stop offset="0.6543" stop-color="#0035ff"/><stop offset="0.7181" stop-color="#0038ff"/><stop offset="0.7660" stop-color="#003bff"/><stop offset="0.7979" stop-color="#003dff"/><stop offset="1.0000" stop-color="#004fff"/></linearGradient><linearGradient id="c92" x1="0" y1="0" x2="0" y2="1"><stop offset="0.0000" stop-color="#0025ff"/><stop offset="0.1995" stop-color="#0027ff"/><stop offset="0.3590" stop-color="#002aff"/><stop offset="0.4787" stop-color="#002eff"/><stop offset="0.5745" stop-color="#0032ff"/><stop offset="0.6543" stop-color="#0035ff"/><stop offset="0.7181" stop-color="#0038ff"/><stop offset="0.7660" stop-color="#003bff"/><stop offset="0.7979" stop-color="#003dff"/><stop offset="1.0000" stop-color="#004fff"/></linearGradient><linearGradient id="c93" x1="0" y1="0" x2="0" y2="1"><stop offset="0.0000" stop-color="#0031ff"/><stop offset="0.1995" stop-color="#0032ff"/><stop offset="0.3590" stop-color="#0033ff"/><stop offset="0.4787" stop-color="#0035ff"/><stop offset="0.5745" stop-color="#0037ff"/><stop offset="0.6543" stop-color="#0039ff"/><stop offset="0.7181" stop-color="#003bff"/><stop offset="0.7660" stop-color="#003cff"/><stop offset="0.7979" stop-color="#003dff"/><stop offset="1.0000" stop-color="#004fff"/></linearGradient><linearGradient id="c94" x1="0" y1="0" x2="0" y2="1"><stop offset="0.0000" stop-color="#0027ff"/><stop offset="0.1995" stop-color="#0028ff"/><stop offset="0.3590" stop-color="#002bff"/><stop offset="0.4787" stop-color="#002fff"/><stop offset="0.5745" stop-color="#0032ff"/><stop offset="0.6543" stop-color="#0036ff"/><stop offset="0.7181" stop-color="#0039ff"/><stop offset="0.7660" stop-color="#003bff"/><stop offset="0.7979" stop-color="#003dff"/><stop offset="1.0000" stop-color="#004fff"/></linearGradient><linearGradient id="c95" x1="0" y1="0" x2="0" y2="1"><stop offset="0.0000" stop-color="#0026ff"/><stop offset="0.1995" stop-color="#0028ff"/><stop offset="0.3590" stop-color="#002dff"/><stop offset="0.4787" stop-color="#0033ff"/><stop offset="0.5745" stop-color="#0039ff"/><stop offset="0.6543" stop-color="#003fff"/><stop offset="0.7181" stop-color="#0044ff"/><stop offset="0.7660" stop-color="#0048ff"/><stop offset="0.7979" stop-color="#004aff"/><stop offset="1.0000" stop-color="#0066ff"/></linearGradient><linearGradient id="c96" x1="0" y1="0" x2="0" y2="1"><stop offset="0.0000" stop-color="#0021ff"/><stop offset="0.1995" stop-color="#0023ff"/><stop offset="0.3590" stop-color="#0028ff"/><stop offset="0.4787" stop-color="#002eff"/><stop offset="0.5745" stop-color="#0034ff"/><stop offset="0.6543" stop-color="#0039ff"/><stop offset="0.7181" stop-color="#003eff"/><stop offset="0.7660" stop-color="#0043ff"/><stop offset="0.7979" stop-color="#0045ff"/><stop offset="1.0000" stop-color="#0061ff"/></linearGradient><linearGradient id="c97" x1="0" y1="0" x2="0" y2="1"><stop offset="0.0000" stop-color="#0021ff"/><stop offset="0.1995" stop-color="#0024ff"/><stop offset="0.3590" stop-color="#0029ff"/><stop offset="0.4787" stop-color="#002fff"/><stop offset="0.5745" stop-color="#0034ff"/><stop offset="0.6543" stop-color="#003aff"/><stop offset="0.7181" stop-color="#003fff"/><stop offset="0.7660" stop-color="#0043ff"/><stop offset="0.7979" stop-color="#0046ff"/><stop offset="1.0000" stop-color="#0061ff"/></linearGradient><linearGradient id="c98" x1="0" y1="0" x2="0" y2="1"><stop offset="0.0000" stop-color="#002dff"/><stop offset="0.1995" stop-color="#002fff"/><stop offset="0.3590" stop-color="#0034ff"/><stop offset="0.4787" stop-color="#003aff"/><stop offset="0.5745" stop-color="#003fff"/><stop offset="0.6543" stop-color="#0045ff"/><stop offset="0.7181" stop-color="#004aff"/><stop offset="0.7660" stop-color="#004eff"/><stop offset="0.7979" stop-color="#0051ff"/><stop offset="1.0000" stop-color="#006cff"/></linearGradient><linearGradient id="c99" x1="0" y1="0" x2="0" y2="1"><stop offset="0.0000" stop-color="#0025ff"/><stop offset="0.1995" stop-color="#0027ff"/><stop offset="0.3590" stop-color="#002cff"/><stop offset="0.4787" stop-color="#0032ff"/><stop offset="0.5745" stop-color="#0038ff"/><stop offset="0.6543" stop-color="#003dff"/><stop offset="0.7181" stop-color="#0042ff"/><stop offset="0.7660" stop-color="#0046ff"/><stop offset="0.7979" stop-color="#0049ff"/><stop offset="1.0000" stop-color="#0065ff"/></linearGradient><linearGradient id="c100" x1="0" y1="0" x2="0" y2="1"><stop offset="0.0000" stop-color="#0034ff"/><stop offset="0.1915" stop-color="#004fff"/><stop offset="0.3191" stop-color="#008fff"/><stop offset="0.5106" stop-color="#00bfff"/><stop offset="0.7979" stop-color="#00dbff"/><stop offset="1.0000" stop-color="#00fff4"/></linearGradient><linearGradient id="c101" x1="0" y1="0" x2="0" y2="1"><stop offset="0.0000" stop-color="#003dff"/><stop offset="0.1702" stop-color="#006aff"/><stop offset="0.2553" stop-color="#00dbff"/><stop offset="0.3404" stop-color="#00ffe7"/><stop offset="0.4255" stop-color="#00ff8f"/><stop offset="0.5638" stop-color="#00ff42"/><stop offset="0.7979" stop-color="#00ff25"/><stop offset="1.0000" stop-color="#00ff07"/></linearGradient><linearGradient id="c102" x1="0" y1="0" x2="0" y2="1"><stop offset="0.0000" stop-color="#0034ff"/><stop offset="0.1915" stop-color="#004fff"/><stop offset="0.3191" stop-color="#008fff"/><stop offset="0.5106" stop-color="#00bfff"/><stop offset="0.7979" stop-color="#00dbff"/><stop offset="1.0000" stop-color="#00fff4"/></linearGradient><linearGradient id="c103" x1="0" y1="0" x2="0" y2="1"><stop offset="0.0000" stop-color="#0035ff"/><stop offset="0.1995" stop-color="#0037ff"/><stop offset="0.3590" stop-color="#003dff"/><stop offset="0.4787" stop-color="#0042ff"/><stop offset="0.5745" stop-color="#0048ff"/><stop offset="0.6543" stop-color="#004eff"/><stop offset="0.7181" stop-color="#0053ff"/><stop offset="0.7660" stop-color="#0057ff"/><stop offset="0.7979" stop-color="#005aff"/><stop offset="1.0000" stop-color="#0075ff"/></linearGradient><linearGradient id="c104" x1="0" y1="0" x2="0" y2="1"><stop offset="0.0000" stop-color="#002aff"/><stop offset="0.1995" stop-color="#002dff"/><stop offset="0.3590" stop-color="#0032ff"/><stop offset="0.4787" stop-color="#0037ff"/><stop offset="0.5745" stop-color="#003dff"/><stop offset="0.6543" stop-color="#0043ff"/><stop offset="0.7181" stop-color="#0048ff"/><stop offset="0.7660" stop-color="#004cff"/><stop offset="0.7979" stop-color="#004fff"/><stop offset="1.0000" stop-color="#006aff"/></linearGradient><linearGradient id="c105" x1="0" y1="0" x2="0" y2="1"><stop offset="0.0000" stop-color="#002cff"/><stop offset="0.1995" stop-color="#002fff"/><stop offset="0.3590" stop-color="#0034ff"/><stop offset="0.4787" stop-color="#003aff"/><stop offset="0.5745" stop-color="#003fff"/><stop offset="0.6543" stop-color="#0045ff"/><stop offset="0.7181" stop-color="#004aff"/><stop offset="0.7660" stop-color="#004eff"/><stop offset="0.7979" stop-color="#0051ff"/><stop offset="1.0000" stop-color="#006cff"/></linearGradient><linearGradient id="c106" x1="0" y1="0" x2="0" y2="1"><stop offset="0.0000" stop-color="#0033ff"/><stop offset="0.1995" stop-color="#0035ff"/><stop offset="0.3590" stop-color="#003aff"/><stop offset="0.4787" stop-color="#0040ff"/><stop offset="0.5745" stop-color="#0046ff"/><stop offset="0.6543" stop-color="#004cff"/><stop offset="0.7181" stop-color="#0051ff"/><stop offset="0.7660" stop-color="#0055ff"/><stop offset="0.7979" stop-color="#0057ff"/><stop offset="1.0000" stop-color="#0073ff"/></linearGradient><linearGradient id="c107" x1="0" y1="0" x2="0" y2="1"><stop offset="0.0000" stop-color="#0024ff"/><stop offset="0.1995" stop-color="#0026ff"/><stop offset="0.3590" stop-color="#002bff"/><stop offset="0.4787" stop-color="#0031ff"/><stop offset="0.5745" stop-color="#0036ff"/><stop offset="0.6543" stop-color="#003cff"/><stop offset="0.7181" stop-color="#0041ff"/><stop offset="0.7660" stop-color="#0045ff"/><stop offset="0.7979" stop-color="#0048ff"/><stop offset="1.0000" stop-color="#0063ff"/></linearGradient><linearGradient id="c108" x1="0" y1="0" x2="0" y2="1"><stop offset="0.0000" stop-color="#0023ff"/><stop offset="0.1995" stop-color="#0024ff"/><stop offset="0.3590" stop-color="#002cff"/><stop offset="0.4787" stop-color="#0038ff"/><stop offset="0.5745" stop-color="#0048ff"/><stop offset="0.6543" stop-color="#0059ff"/><stop offset="0.7181" stop-color="#006bff"/><stop offset="0.7660" stop-color="#007aff"/><stop offset="0.7979" stop-color="#0086ff"/><stop offset="1.0000" stop-color="#00dbff"/></linearGradient><linearGradient id="c109" x1="0" y1="0" x2="0" y2="1"><stop offset="0.0000" stop-color="#0034ff"/><stop offset="0.1995" stop-color="#0035ff"/><stop offset="0.3590" stop-color="#003bff"/><stop offset="0.4787" stop-color="#0046ff"/><stop offset="0.5745" stop-color="#0052ff"/><stop offset="0.6543" stop-color="#0061ff"/><stop offset="0.7181" stop-color="#0070ff"/><stop offset="0.7660" stop-color="#007cff"/><stop offset="0.7979" stop-color="#0086ff"/><stop offset="1.0000" stop-color="#00dbff"/></linearGradient><linearGradient id="c110" x1="0" y1="0" x2="0" y2="1"><stop offset="0.0000" stop-color="#0032ff"/><stop offset="0.1995" stop-color="#0034ff"/><stop offset="0.3590" stop-color="#0039ff"/><stop offset="0.4787" stop-color="#003fff"/><stop offset="0.5745" stop-color="#0045ff"/><stop offset="0.6543" stop-color="#004aff"/><stop offset="0.7181" stop-color="#004fff"/><stop offset="0.7660" stop-color="#0053ff"/><stop offset="0.7979" stop-color="#0056ff"/><stop offset="1.0000" stop-color="#0072ff"/></linearGradient><linearGradient id="c111" x1="0" y1="0" x2="0" y2="1"><stop offset="0.0000" stop-color="#0025ff"/><stop offset="0.1995" stop-color="#0027ff"/><stop offset="0.3590" stop-color="#002cff"/><stop offset="0.4787" stop-color="#0032ff"/><stop offset="0.5745" stop-color="#0038ff"/><stop offset="0.6543" stop-color="#003dff"/><stop offset="0.7181" stop-color="#0042ff"/><stop offset="0.7660" stop-color="#0047ff"/><stop offset="0.7979" stop-color="#0049ff"/><stop offset="1.0000" stop-color="#0065ff"/></linearGradient><linearGradient id="c112" x1="0" y1="0" x2="0" y2="1"><stop offset="0.0000" stop-color="#0024ff"/><stop offset="0.1995" stop-color="#0026ff"/><stop offset="0.3590" stop-color="#002bff"/><stop offset="0.4787" stop-color="#0031ff"/><stop offset="0.5745" stop-color="#0037ff"/><stop offset="0.6543" stop-color="#003cff"/><stop offset="0.7181" stop-color="#0041ff"/><stop offset="0.7660" stop-color="#0045ff"/><stop offset="0.7979" stop-color="#0048ff"/><stop offset="1.0000" stop-color="#0063ff"/></linearGradient><linearGradient id="c113" x1="0" y1="0" x2="0" y2="1"><stop offset="0.0000" stop-color="#0030ff"/><stop offset="0.1995" stop-color="#0032ff"/><stop offset="0.3590" stop-color="#0038ff"/><stop offset="0.4787" stop-color="#003dff"/><stop offset="0.5745" stop-color="#0043ff"/><stop offset="0.6543" stop-color="#0049ff"/><stop offset="0.7181" stop-color="#004eff"/><stop offset="0.7660" stop-color="#0052ff"/><stop offset="0.7979" stop-color="#0055ff"/><stop offset="1.0000" stop-color="#0070ff"/></linearGradient><linearGradient id="c114" x1="0" y1="0" x2="0" y2="1"><stop offset="0.0000" stop-color="#0035ff"/><stop offset="0.1995" stop-color="#0037ff"/><stop offset="0.3590" stop-color="#003cff"/><stop offset="0.4787" stop-color="#0042ff"/><stop offset="0.5745" stop-color="#0048ff"/><stop offset="0.6543" stop-color="#004dff"/><stop offset="0.7181" stop-color="#0052ff"/><stop offset="0.7660" stop-color="#0056ff"/><stop offset="0.7979" stop-color="#0059ff"/><stop offset="1.0000" stop-color="#0074ff"/></linearGradient><linearGradient id="c115" x1="0" y1="0" x2="0" y2="1"><stop offset="0.0000" stop-color="#0024ff"/><stop offset="0.1995" stop-color="#0026ff"/><stop offset="0.3590" stop-color="#002bff"/><stop offset="0.4787" stop-color="#0031ff"/><stop offset="0.5745" stop-color="#0037ff"/><stop offset="0.6543" stop-color="#003cff"/><stop offset="0.7181" stop-color="#0041ff"/><stop offset="0.7660" stop-color="#0045ff"/><stop offset="0.7979" stop-color="#0048ff"/><stop offset="1.0000" stop-color="#0063ff"/></linearGradient><linearGradient id="c116" x1="0" y1="0" x2="0" y2="1"><stop offset="0.0000" stop-color="#0035ff"/><stop offset="0.1995" stop-color="#0037ff"/><stop offset="0.3590" stop-color="#003cff"/><stop offset="0.4787" stop-color="#0042ff"/><stop offset="0.5745" stop-color="#0048ff"/><stop offset="0.6543" stop-color="#004dff"/><stop offset="0.7181" stop-color="#0052ff"/><stop offset="0.7660" stop-color="#0056ff"/><stop offset="0.7979" stop-color="#0059ff"/><stop offset="1.0000" stop-color="#0075ff"/></linearGradient><linearGradient id="c117" x1="0" y1="0" x2="0" y2="1"><stop offset="0.0000" stop-color="#0033ff"/><stop offset="0.1995" stop-color="#0037ff"/><stop offset="0.3590" stop-color="#0040ff"/><stop offset="0.4787" stop-color="#004aff"/><stop offset="0.5745" stop-color="#0055ff"/><stop offset="0.6543" stop-color="#005eff"/><stop offset="0.7181" stop-color="#0067ff"/><stop offset="0.7660" stop-color="#006eff"/><stop offset="0.7979" stop-color="#0073ff"/><stop offset="1.0000" stop-color="#00acff"/></linearGradient><linearGradient id="c118" x1="0" y1="0" x2="0" y2="1"><stop offset="0.0000" stop-color="#002dff"/><stop offset="0.1995" stop-color="#0031ff"/><stop offset="0.3590" stop-color="#003bff"/><stop offset="0.4787" stop-color="#0046ff"/><stop offset="0.5745" stop-color="#0052ff"/><stop offset="0.6543" stop-color="#005cff"/><stop offset="0.7181" stop-color="#0066ff"/><stop offset="0.7660" stop-color="#006eff"/><stop offset="0.7979" stop-color="#0073ff"/><stop offset="1.0000" stop-color="#00acff"/></linearGradient><linearGradient id="c119" x1="0" y1="0" x2="0" y2="1"><stop offset="0.0000" stop-color="#0029ff"/><stop offset="0.1995" stop-color="#002eff"/><stop offset="0.3590" stop-color="#0038ff"/><stop offset="0.4787" stop-color="#0044ff"/><stop offset="0.5745" stop-color="#0050ff"/><stop offset="0.6543" stop-color="#005bff"/><stop offset="0.7181" stop-color="#0065ff"/><stop offset="0.7660" stop-color="#006eff"/><stop offset="0.7979" stop-color="#0073ff"/><stop offset="1.0000" stop-color="#00acff"/></linearGradient><linearGradient id="c120" x1="0" y1="0" x2="0" y2="1"><stop offset="0.0000" stop-color="#0022ff"/><stop offset="0.1995" stop-color="#0027ff"/><stop offset="0.3590" stop-color="#0032ff"/><stop offset="0.4787" stop-color="#003fff"/><stop offset="0.5745" stop-color="#004cff"/><stop offset="0.6543" stop-color="#0059ff"/><stop offset="0.7181" stop-color="#0064ff"/><stop offset="0.7660" stop-color="#006dff"/><stop offset="0.7979" stop-color="#0073ff"/><stop offset="1.0000" stop-color="#00acff"/></linearGradient><linearGradient id="c121" x1="0" y1="0" x2="0" y2="1"><stop offset="0.0000" stop-color="#0020ff"/><stop offset="0.1995" stop-color="#0023ff"/><stop offset="0.3590" stop-color="#0028ff"/><stop offset="0.4787" stop-color="#002dff"/><stop offset="0.5745" stop-color="#0033ff"/><stop offset="0.6543" stop-color="#0039ff"/><stop offset="0.7181" stop-color="#003eff"/><stop offset="0.7660" stop-color="#0042ff"/><stop offset="0.7979" stop-color="#0045ff"/><stop offset="1.0000" stop-color="#0060ff"/></linearGradient><linearGradient id="c122" x1="0" y1="0" x2="0" y2="1"><stop offset="0.0000" stop-color="#0035ff"/><stop offset="0.1995" stop-color="#0038ff"/><stop offset="0.3590" stop-color="#003dff"/><stop offset="0.4787" stop-color="#0042ff"/><stop offset="0.5745" stop-color="#0048ff"/><stop offset="0.6543" stop-color="#004eff"/><stop offset="0.7181" stop-color="#0053ff"/><stop offset="0.7660" stop-color="#0057ff"/><stop offset="0.7979" stop-color="#005aff"/><stop offset="1.0000" stop-color="#0075ff"/></linearGradient><linearGradient id="c123" x1="0" y1="0" x2="0" y2="1"><stop offset="0.0000" stop-color="#0025ff"/><stop offset="0.1995" stop-color="#0027ff"/><stop offset="0.3590" stop-color="#002cff"/><stop offset="0.4787" stop-color="#0032ff"/><stop offset="0.5745" stop-color="#0038ff"/><stop offset="0.6543" stop-color="#003dff"/><stop offset="0.7181" stop-color="#0042ff"/><stop offset="0.7660" stop-color="#0046ff"/><stop offset="0.7979" stop-color="#0049ff"/><stop offset="1.0000" stop-color="#0064ff"/></linearGradient><linearGradient id="c124" x1="0" y1="0" x2="0" y2="1"><stop offset="0.0000" stop-color="#002fff"/><stop offset="0.1995" stop-color="#0032ff"/><stop offset="0.3590" stop-color="#0037ff"/><stop offset="0.4787" stop-color="#003cff"/><stop offset="0.5745" stop-color="#0042ff"/><stop offset="0.6543" stop-color="#0048ff"/><stop offset="0.7181" stop-color="#004dff"/><stop offset="0.7660" stop-color="#0051ff"/><stop offset="0.7979" stop-color="#0054ff"/><stop offset="1.0000" stop-color="#006fff"/></linearGradient><linearGradient id="c125" x1="0" y1="0" x2="0" y2="1"><stop offset="0.0000" stop-color="#0025ff"/><stop offset="0.1995" stop-color="#002fff"/><stop offset="0.3590" stop-color="#0047ff"/><stop offset="0.4787" stop-color="#0060ff"/><stop offset="0.5745" stop-color="#007bff"/><stop offset="0.6543" stop-color="#0095ff"/><stop offset="0.7181" stop-color="#00acff"/><stop offset="0.7660" stop-color="#00bfff"/><stop offset="0.7979" stop-color="#00cdff"/><stop offset="0.7980" stop-color="#00ffe7"/><stop offset="1.0000" stop-color="#00ffb3"/></linearGradient><linearGradient id="c126" x1="0" y1="0" x2="0" y2="1"><stop offset="0.0000" stop-color="#0032ff"/><stop offset="0.1995" stop-color="#0041ff"/><stop offset="0.3590" stop-color="#0063ff"/><stop offset="0.4787" stop-color="#008aff"/><stop offset="0.5745" stop-color="#00b2ff"/><stop offset="0.6543" stop-color="#00d9ff"/><stop offset="0.7181" stop-color="#00fbff"/><stop offset="0.7660" stop-color="#00fff2"/><stop offset="0.7979" stop-color="#00ffe7"/><stop offset="0.7980" stop-color="#00ff83"/><stop offset="1.0000" stop-color="#00ff03"/></linearGradient><linearGradient id="c127" x1="0" y1="0" x2="0" y2="1"><stop offset="0.0000" stop-color="#002dff"/><stop offset="0.1995" stop-color="#003cff"/><stop offset="0.3590" stop-color="#005fff"/><stop offset="0.4787" stop-color="#0086ff"/><stop offset="0.5745" stop-color="#00afff"/><stop offset="0.6543" stop-color="#00d7ff"/><stop offset="0.7181" stop-color="#00faff"/><stop offset="0.7660" stop-color="#00fff2"/><stop offset="0.7979" stop-color="#00ffe7"/><stop offset="0.7980" stop-color="#00ff83"/><stop offset="1.0000" stop-color="#00ff03"/></linearGradient><linearGradient id="c128" x1="0" y1="0" x2="0" y2="1"><stop offset="0.0000" stop-color="#0026ff"/><stop offset="0.1995" stop-color="#0030ff"/><stop offset="0.3590" stop-color="#0047ff"/><stop offset="0.4787" stop-color="#0061ff"/><stop offset="0.5745" stop-color="#007bff"/><stop offset="0.6543" stop-color="#0095ff"/><stop offset="0.7181" stop-color="#00acff"/><stop offset="0.7660" stop-color="#00bfff"/><stop offset="0.7979" stop-color="#00cdff"/><stop offset="0.7980" stop-color="#00ffe7"/><stop offset="1.0000" stop-color="#00ffb3"/></linearGradient><linearGradient id="c129" x1="0" y1="0" x2="0" y2="1"><stop offset="0.0000" stop-color="#0023ff"/><stop offset="0.1995" stop-color="#0026ff"/><stop offset="0.3590" stop-color="#002bff"/><stop offset="0.4787" stop-color="#0030ff"/><stop offset="0.5745" stop-color="#0036ff"/><stop offset="0.6543" stop-color="#003cff"/><stop offset="0.7181" stop-color="#0041ff"/><stop offset="0.7660" stop-color="#0045ff"/><stop offset="0.7979" stop-color="#0048ff"/><stop offset="1.0000" stop-color="#0063ff"/></linearGradient><linearGradient id="c130" x1="0" y1="0" x2="0" y2="1"><stop offset="0.0000" stop-color="#0030ff"/><stop offset="0.1995" stop-color="#0032ff"/><stop offset="0.3590" stop-color="#0037ff"/><stop offset="0.4787" stop-color="#003dff"/><stop offset="0.5745" stop-color="#0043ff"/><stop offset="0.6543" stop-color="#0048ff"/><stop offset="0.7181" stop-color="#004dff"/><stop offset="0.7660" stop-color="#0051ff"/><stop offset="0.7979" stop-color="#0054ff"/><stop offset="1.0000" stop-color="#006fff"/></linearGradient><linearGradient id="c131" x1="0" y1="0" x2="0" y2="1"><stop offset="0.0000" stop-color="#0021ff"/><stop offset="0.1995" stop-color="#0023ff"/><stop offset="0.3590" stop-color="#0028ff"/><stop offset="0.4787" stop-color="#002eff"/><stop offset="0.5745" stop-color="#0034ff"/><stop offset="0.6543" stop-color="#0039ff"/><stop offset="0.7181" stop-color="#003eff"/><stop offset="0.7660" stop-color="#0042ff"/><stop offset="0.7979" stop-color="#0045ff"/><stop offset="1.0000" stop-color="#0061ff"/></linearGradient><linearGradient id="c132" x1="0" y1="0" x2="0" y2="1"><stop offset="0.0000" stop-color="#0025ff"/><stop offset="0.1995" stop-color="#0027ff"/><stop offset="0.3590" stop-color="#002cff"/><stop offset="0.4787" stop-color="#0032ff"/><stop offset="0.5745" stop-color="#0037ff"/><stop offset="0.6543" stop-color="#003dff"/><stop offset="0.7181" stop-color="#0042ff"/><stop offset="0.7660" stop-color="#0046ff"/><stop offset="0.7979" stop-color="#0049ff"/><stop offset="1.0000" stop-color="#0064ff"/></linearGradient><linearGradient id="c133" x1="0" y1="0" x2="0" y2="1"><stop offset="0.0000" stop-color="#0007ff"/><stop offset="0.2632" stop-color="#0027ff"/><stop offset="0.6053" stop-color="#003dff"/><stop offset="0.6842" stop-color="#0054ff"/><stop offset="0.8158" stop-color="#0032ff"/><stop offset="1.0000" stop-color="#003bff"/></linearGradient><linearGradient id="c134" x1="0" y1="0" x2="0" y2="1"><stop offset="0.0000" stop-color="#0000e4"/><stop offset="0.2632" stop-color="#0000f5"/><stop offset="0.6053" stop-color="#0004ff"/><stop offset="0.7632" stop-color="#001bff"/><stop offset="0.8947" stop-color="#001eff"/><stop offset="1.0000" stop-color="#0027ff"/></linearGradient><linearGradient id="c135" x1="0" y1="0" x2="0" y2="1"><stop offset="0.0000" stop-color="#0000c8"/><stop offset="0.2632" stop-color="#0000d9"/><stop offset="0.6053" stop-color="#0000e5"/><stop offset="0.7105" stop-color="#0000f2"/><stop offset="0.8421" stop-color="#0018ff"/><stop offset="1.0000" stop-color="#0021ff"/></linearGradient><linearGradient id="c136" x1="0" y1="0" x2="0" y2="1"><stop offset="0.0000" stop-color="#0000c5"/><stop offset="0.2632" stop-color="#0000d6"/><stop offset="0.6053" stop-color="#0000e2"/><stop offset="0.7632" stop-color="#0000ef"/><stop offset="0.8947" stop-color="#0015ff"/><stop offset="1.0000" stop-color="#001eff"/></linearGradient><linearGradient id="c137" x1="0" y1="0" x2="0" y2="1"><stop offset="0.0000" stop-color="#0000cd"/><stop offset="0.2632" stop-color="#0000de"/><stop offset="0.6053" stop-color="#0000ea"/><stop offset="0.7632" stop-color="#0000f7"/><stop offset="0.8947" stop-color="#0018ff"/><stop offset="1.0000" stop-color="#0021ff"/></linearGradient><linearGradient id="c138" x1="0" y1="0" x2="0" y2="1"><stop offset="0.0000" stop-color="#0000c7"/><stop offset="0.2632" stop-color="#0000d8"/><stop offset="0.6053" stop-color="#0000e4"/><stop offset="0.7632" stop-color="#0000f1"/><stop offset="0.8947" stop-color="#0025ff"/><stop offset="1.0000" stop-color="#002eff"/></linearGradient><linearGradient id="c139" x1="0" y1="0" x2="0" y2="1"><stop offset="0.0000" stop-color="#0000c6"/><stop offset="0.2632" stop-color="#0000d7"/><stop offset="0.6053" stop-color="#0000e4"/><stop offset="0.6579" stop-color="#0000f0"/><stop offset="0.7895" stop-color="#0016ff"/><stop offset="1.0000" stop-color="#001fff"/></linearGradient><linearGradient id="c140" x1="0" y1="0" x2="0" y2="1"><stop offset="0.0000" stop-color="#0000c9"/><stop offset="0.2632" stop-color="#0000da"/><stop offset="0.6053" stop-color="#0000e7"/><stop offset="0.7105" stop-color="#0000f3"/><stop offset="0.8421" stop-color="#0029ff"/><stop offset="1.0000" stop-color="#0032ff"/></linearGradient><linearGradient id="c141" x1="0" y1="0" x2="0" y2="1"><stop offset="0.0000" stop-color="#0000ce"/><stop offset="0.2632" stop-color="#0000df"/><stop offset="0.6053" stop-color="#0000ec"/><stop offset="0.7368" stop-color="#0000f8"/><stop offset="0.8684" stop-color="#0020ff"/><stop offset="1.0000" stop-color="#0029ff"/></linearGradient><linearGradient id="c142" x1="0" y1="0" x2="0" y2="1"><stop offset="0.0000" stop-color="#0000ce"/><stop offset="0.2632" stop-color="#0000df"/><stop offset="0.6053" stop-color="#0000ec"/><stop offset="0.7368" stop-color="#0000f8"/><stop offset="0.8684" stop-color="#001dff"/><stop offset="1.0000" stop-color="#0027ff"/></linearGradient><linearGradient id="c143" x1="0" y1="0" x2="0" y2="1"><stop offset="0.0000" stop-color="#0000c9"/><stop offset="0.2632" stop-color="#0000da"/><stop offset="0.6053" stop-color="#0000e7"/><stop offset="0.7105" stop-color="#0000f3"/><stop offset="0.8421" stop-color="#002eff"/><stop offset="1.0000" stop-color="#0038ff"/></linearGradient><linearGradient id="c144" x1="0" y1="0" x2="0" y2="1"><stop offset="0.0000" stop-color="#0000cb"/><stop offset="0.2632" stop-color="#0000dc"/><stop offset="0.6053" stop-color="#0000e9"/><stop offset="0.7632" stop-color="#0000f5"/><stop offset="0.8947" stop-color="#0027ff"/><stop offset="1.0000" stop-color="#0030ff"/></linearGradient><linearGradient id="c145" x1="0" y1="0" x2="0" y2="1"><stop offset="0.0000" stop-color="#0000cb"/><stop offset="0.2632" stop-color="#0000dc"/><stop offset="0.6053" stop-color="#0000e8"/><stop offset="0.7105" stop-color="#0000f5"/><stop offset="0.8421" stop-color="#001aff"/><stop offset="1.0000" stop-color="#0023ff"/></linearGradient><linearGradient id="c146" x1="0" y1="0" x2="0" y2="1"><stop offset="0.0000" stop-color="#0000c9"/><stop offset="0.2632" stop-color="#0000da"/><stop offset="0.6053" stop-color="#0000e7"/><stop offset="0.7895" stop-color="#0000f3"/><stop offset="0.9211" stop-color="#002aff"/><stop offset="1.0000" stop-color="#0033ff"/></linearGradient><linearGradient id="c147" x1="0" y1="0" x2="0" y2="1"><stop offset="0.0000" stop-color="#0000c5"/><stop offset="0.2632" stop-color="#0000d6"/><stop offset="0.6053" stop-color="#0000e3"/><stop offset="0.6842" stop-color="#0000ef"/><stop offset="0.8158" stop-color="#0018ff"/><stop offset="1.0000" stop-color="#0021ff"/></linearGradient><linearGradient id="c148" x1="0" y1="0" x2="0" y2="1"><stop offset="0.0000" stop-color="#0000c8"/><stop offset="0.2632" stop-color="#0000d9"/><stop offset="0.6053" stop-color="#0000e6"/><stop offset="0.7368" stop-color="#0000f2"/><stop offset="0.8684" stop-color="#0027ff"/><stop offset="1.0000" stop-color="#0030ff"/></linearGradient><linearGradient id="c149" x1="0" y1="0" x2="0" y2="1"><stop offset="0.0000" stop-color="#0000cd"/><stop offset="0.2632" stop-color="#0000de"/><stop offset="0.6053" stop-color="#0000eb"/><stop offset="0.7368" stop-color="#0000f7"/><stop offset="0.8684" stop-color="#001fff"/><stop offset="1.0000" stop-color="#0028ff"/></linearGradient><linearGradient id="c150" x1="0" y1="0" x2="0" y2="1"><stop offset="0.0000" stop-color="#0000ce"/><stop offset="0.2632" stop-color="#0000df"/><stop offset="0.6053" stop-color="#0000ec"/><stop offset="0.7632" stop-color="#0000f8"/><stop offset="0.8947" stop-color="#0026ff"/><stop offset="1.0000" stop-color="#002fff"/></linearGradient><linearGradient id="c151" x1="0" y1="0" x2="0" y2="1"><stop offset="0.0000" stop-color="#0000ca"/><stop offset="0.2632" stop-color="#0000db"/><stop offset="0.6053" stop-color="#0000e7"/><stop offset="0.6842" stop-color="#0000f4"/><stop offset="0.8158" stop-color="#001dff"/><stop offset="1.0000" stop-color="#0026ff"/></linearGradient><linearGradient id="c152" x1="0" y1="0" x2="0" y2="1"><stop offset="0.0000" stop-color="#0000cb"/><stop offset="0.2632" stop-color="#0000dc"/><stop offset="0.6053" stop-color="#0000e8"/><stop offset="0.7632" stop-color="#0000f5"/><stop offset="0.8947" stop-color="#0019ff"/><stop offset="1.0000" stop-color="#0022ff"/></linearGradient><linearGradient id="c153" x1="0" y1="0" x2="0" y2="1"><stop offset="0.0000" stop-color="#0000c6"/><stop offset="0.2632" stop-color="#0000d7"/><stop offset="0.6053" stop-color="#0000e4"/><stop offset="0.6842" stop-color="#0000f0"/><stop offset="0.8158" stop-color="#0026ff"/><stop offset="1.0000" stop-color="#002fff"/></linearGradient><linearGradient id="c154" x1="0" y1="0" x2="0" y2="1"><stop offset="0.0000" stop-color="#0000cf"/><stop offset="0.2632" stop-color="#0000e0"/><stop offset="0.6053" stop-color="#0000ed"/><stop offset="0.6579" stop-color="#0000f9"/><stop offset="0.7895" stop-color="#001aff"/><stop offset="1.0000" stop-color="#0023ff"/></linearGradient><linearGradient id="c155" x1="0" y1="0" x2="0" y2="1"><stop offset="0.0000" stop-color="#0000c4"/><stop offset="0.2632" stop-color="#0000d5"/><stop offset="0.6053" stop-color="#0000e2"/><stop offset="0.6579" stop-color="#0000ee"/><stop offset="0.7895" stop-color="#0022ff"/><stop offset="1.0000" stop-color="#002bff"/></linearGradient><linearGradient id="c156" x1="0" y1="0" x2="0" y2="1"><stop offset="0.0000" stop-color="#0000c6"/><stop offset="0.2632" stop-color="#0000d7"/><stop offset="0.6053" stop-color="#0000e3"/><stop offset="0.6579" stop-color="#0000f0"/><stop offset="0.7895" stop-color="#001cff"/><stop offset="1.0000" stop-color="#0025ff"/></linearGradient><linearGradient id="c157" x1="0" y1="0" x2="0" y2="1"><stop offset="0.0000" stop-color="#0000d0"/><stop offset="0.2632" stop-color="#0000e1"/><stop offset="0.6053" stop-color="#0000ed"/><stop offset="0.6579" stop-color="#0000fa"/><stop offset="0.7895" stop-color="#002fff"/><stop offset="1.0000" stop-color="#0038ff"/></linearGradient><linearGradient id="c158" x1="0" y1="0" x2="0" y2="1"><stop offset="0.0000" stop-color="#0000ca"/><stop offset="0.2632" stop-color="#0000dc"/><stop offset="0.6053" stop-color="#0000e8"/><stop offset="0.6842" stop-color="#0000f4"/><stop offset="0.8158" stop-color="#0035ff"/><stop offset="1.0000" stop-color="#003eff"/></linearGradient><linearGradient id="c159" x1="0" y1="0" x2="0" y2="1"><stop offset="0.0000" stop-color="#0000c8"/><stop offset="0.2632" stop-color="#0000d9"/><stop offset="0.6053" stop-color="#0000e6"/><stop offset="0.7632" stop-color="#0000f2"/><stop offset="0.8947" stop-color="#0034ff"/><stop offset="1.0000" stop-color="#003dff"/></linearGradient><linearGradient id="c160" x1="0" y1="0" x2="0" y2="1"><stop offset="0.0000" stop-color="#0000ca"/><stop offset="0.2632" stop-color="#0000db"/><stop offset="0.6053" stop-color="#0000e8"/><stop offset="0.7368" stop-color="#0000f4"/><stop offset="0.8684" stop-color="#0017ff"/><stop offset="1.0000" stop-color="#0020ff"/></linearGradient><linearGradient id="c161" x1="0" y1="0" x2="0" y2="1"><stop offset="0.0000" stop-color="#0000ca"/><stop offset="0.2632" stop-color="#0000db"/><stop offset="0.6053" stop-color="#0000e8"/><stop offset="0.7632" stop-color="#0000f4"/><stop offset="0.8947" stop-color="#001cff"/><stop offset="1.0000" stop-color="#0025ff"/></linearGradient><linearGradient id="c162" x1="0" y1="0" x2="0" y2="1"><stop offset="0.0000" stop-color="#0000d0"/><stop offset="0.2632" stop-color="#0000e1"/><stop offset="0.6053" stop-color="#0000ee"/><stop offset="0.6842" stop-color="#0000fa"/><stop offset="0.8158" stop-color="#001cff"/><stop offset="1.0000" stop-color="#0025ff"/></linearGradient><linearGradient id="c163" x1="0" y1="0" x2="0" y2="1"><stop offset="0.0000" stop-color="#0000cb"/><stop offset="0.2632" stop-color="#0000dd"/><stop offset="0.6053" stop-color="#0000e9"/><stop offset="0.7895" stop-color="#0000f5"/><stop offset="0.9211" stop-color="#002aff"/><stop offset="1.0000" stop-color="#0033ff"/></linearGradient><linearGradient id="c164" x1="0" y1="0" x2="0" y2="1"><stop offset="0.0000" stop-color="#0000cb"/><stop offset="0.2632" stop-color="#0000dd"/><stop offset="0.6053" stop-color="#0000e9"/><stop offset="0.6842" stop-color="#0000f5"/><stop offset="0.8158" stop-color="#001dff"/><stop offset="1.0000" stop-color="#0026ff"/></linearGradient><linearGradient id="c165" x1="0" y1="0" x2="0" y2="1"><stop offset="0.0000" stop-color="#0000ca"/><stop offset="0.2632" stop-color="#0000db"/><stop offset="0.6053" stop-color="#0000e7"/><stop offset="0.7632" stop-color="#0000f4"/><stop offset="0.8947" stop-color="#0032ff"/><stop offset="1.0000" stop-color="#003bff"/></linearGradient><linearGradient id="c166" x1="0" y1="0" x2="0" y2="1"><stop offset="0.0000" stop-color="#0000ce"/><stop offset="0.2632" stop-color="#0000df"/><stop offset="0.6053" stop-color="#0000ec"/><stop offset="0.7632" stop-color="#0000f8"/><stop offset="0.8947" stop-color="#002bff"/><stop offset="1.0000" stop-color="#0034ff"/></linearGradient><linearGradient id="c167" x1="0" y1="0" x2="0" y2="1"><stop offset="0.0000" stop-color="#0000cf"/><stop offset="0.2632" stop-color="#0000e0"/><stop offset="0.6053" stop-color="#0000ec"/><stop offset="0.7632" stop-color="#0000f9"/><stop offset="0.8947" stop-color="#0032ff"/><stop offset="1.0000" stop-color="#003bff"/></linearGradient><linearGradient id="c168" x1="0" y1="0" x2="0" y2="1"><stop offset="0.0000" stop-color="#0000c6"/><stop offset="0.2632" stop-color="#0000d7"/><stop offset="0.6053" stop-color="#0000e3"/><stop offset="0.7105" stop-color="#0000f0"/><stop offset="0.8421" stop-color="#0034ff"/><stop offset="1.0000" stop-color="#003dff"/></linearGradient><linearGradient id="c169" x1="0" y1="0" x2="0" y2="1"><stop offset="0.0000" stop-color="#0000cc"/><stop offset="0.2632" stop-color="#0000dd"/><stop offset="0.6053" stop-color="#0000e9"/><stop offset="0.7368" stop-color="#0000f6"/><stop offset="0.8684" stop-color="#0023ff"/><stop offset="1.0000" stop-color="#002cff"/></linearGradient><linearGradient id="c170" x1="0" y1="0" x2="0" y2="1"><stop offset="0.0000" stop-color="#0000cf"/><stop offset="0.2632" stop-color="#0000e0"/><stop offset="0.6053" stop-color="#0000ec"/><stop offset="0.7895" stop-color="#0000f9"/><stop offset="0.9211" stop-color="#0028ff"/><stop offset="1.0000" stop-color="#0031ff"/></linearGradient><linearGradient id="c171" x1="0" y1="0" x2="0" y2="1"><stop offset="0.0000" stop-color="#0000c6"/><stop offset="0.2632" stop-color="#0000d7"/><stop offset="0.6053" stop-color="#0000e4"/><stop offset="0.6579" stop-color="#0000f0"/><stop offset="0.7895" stop-color="#001fff"/><stop offset="1.0000" stop-color="#0028ff"/></linearGradient><linearGradient id="c172" x1="0" y1="0" x2="0" y2="1"><stop offset="0.0000" stop-color="#0000cd"/><stop offset="0.2632" stop-color="#0000de"/><stop offset="0.6053" stop-color="#0000eb"/><stop offset="0.7895" stop-color="#0000f7"/><stop offset="0.9211" stop-color="#0021ff"/><stop offset="1.0000" stop-color="#002aff"/></linearGradient><linearGradient id="c173" x1="0" y1="0" x2="0" y2="1"><stop offset="0.0000" stop-color="#0000ce"/><stop offset="0.2632" stop-color="#0000e0"/><stop offset="0.6053" stop-color="#0000ec"/><stop offset="0.7105" stop-color="#0000f8"/><stop offset="0.8421" stop-color="#0024ff"/><stop offset="1.0000" stop-color="#002dff"/></linearGradient><linearGradient id="c174" x1="0" y1="0" x2="0" y2="1"><stop offset="0.0000" stop-color="#0000d1"/><stop offset="0.2632" stop-color="#0000e3"/><stop offset="0.6053" stop-color="#0000ef"/><stop offset="0.7895" stop-color="#0000fb"/><stop offset="0.9211" stop-color="#0019ff"/><stop offset="1.0000" stop-color="#0022ff"/></linearGradient><linearGradient id="c175" x1="0" y1="0" x2="0" y2="1"><stop offset="0.0000" stop-color="#0000ce"/><stop offset="0.2632" stop-color="#0000df"/><stop offset="0.6053" stop-color="#0000ec"/><stop offset="0.7895" stop-color="#0000f8"/><stop offset="0.9211" stop-color="#001aff"/><stop offset="1.0000" stop-color="#0023ff"/></linearGradient><linearGradient id="c176" x1="0" y1="0" x2="0" y2="1"><stop offset="0.0000" stop-color="#0000d2"/><stop offset="0.2632" stop-color="#0000e3"/><stop offset="0.6053" stop-color="#0000ef"/><stop offset="0.7368" stop-color="#0000fc"/><stop offset="0.8684" stop-color="#0030ff"/><stop offset="1.0000" stop-color="#0039ff"/></linearGradient><linearGradient id="c177" x1="0" y1="0" x2="0" y2="1"><stop offset="0.0000" stop-color="#0000c6"/><stop offset="0.2632" stop-color="#0000d7"/><stop offset="0.6053" stop-color="#0000e4"/><stop offset="0.7105" stop-color="#0000f0"/><stop offset="0.8421" stop-color="#0022ff"/><stop offset="1.0000" stop-color="#002bff"/></linearGradient><linearGradient id="c178" x1="0" y1="0" x2="0" y2="1"><stop offset="0.0000" stop-color="#0000cf"/><stop offset="0.2632" stop-color="#0000e1"/><stop offset="0.6053" stop-color="#0000ed"/><stop offset="0.6579" stop-color="#0000f9"/><stop offset="0.7895" stop-color="#0023ff"/><stop offset="1.0000" stop-color="#002cff"/></linearGradient><linearGradient id="c179" x1="0" y1="0" x2="0" y2="1"><stop offset="0.0000" stop-color="#0000c8"/><stop offset="0.2632" stop-color="#0000da"/><stop offset="0.6053" stop-color="#0000e6"/><stop offset="0.7632" stop-color="#0000f2"/><stop offset="0.8947" stop-color="#0025ff"/><stop offset="1.0000" stop-color="#002eff"/></linearGradient><linearGradient id="c180" x1="0" y1="0" x2="0" y2="1"><stop offset="0.0000" stop-color="#0000d2"/><stop offset="0.2632" stop-color="#0000e3"/><stop offset="0.6053" stop-color="#0000f0"/><stop offset="0.7368" stop-color="#0000fc"/><stop offset="0.8684" stop-color="#0024ff"/><stop offset="1.0000" stop-color="#002dff"/></linearGradient><linearGradient id="c181" x1="0" y1="0" x2="0" y2="1"><stop offset="0.0000" stop-color="#0000cc"/><stop offset="0.2632" stop-color="#0000de"/><stop offset="0.6053" stop-color="#0000ea"/><stop offset="0.7895" stop-color="#0000f6"/><stop offset="0.9211" stop-color="#002cff"/><stop offset="1.0000" stop-color="#0035ff"/></linearGradient><linearGradient id="c182" x1="0" y1="0" x2="0" y2="1"><stop offset="0.0000" stop-color="#0000cf"/><stop offset="0.2632" stop-color="#0000e1"/><stop offset="0.6053" stop-color="#0000ed"/><stop offset="0.7895" stop-color="#0000f9"/><stop offset="0.9211" stop-color="#001cff"/><stop offset="1.0000" stop-color="#0025ff"/></linearGradient><linearGradient id="c183" x1="0" y1="0" x2="0" y2="1"><stop offset="0.0000" stop-color="#0000ca"/><stop offset="0.2632" stop-color="#0000dc"/><stop offset="0.6053" stop-color="#0000e8"/><stop offset="0.6842" stop-color="#0000f4"/><stop offset="0.8158" stop-color="#0033ff"/><stop offset="1.0000" stop-color="#003cff"/></linearGradient><linearGradient id="c184" x1="0" y1="0" x2="0" y2="1"><stop offset="0.0000" stop-color="#0000c9"/><stop offset="0.2632" stop-color="#0000db"/><stop offset="0.6053" stop-color="#0000e7"/><stop offset="0.7632" stop-color="#0000f3"/><stop offset="0.8947" stop-color="#0019ff"/><stop offset="1.0000" stop-color="#0022ff"/></linearGradient><linearGradient id="c185" x1="0" y1="0" x2="0" y2="1"><stop offset="0.0000" stop-color="#0000cb"/><stop offset="0.2632" stop-color="#0000dd"/><stop offset="0.6053" stop-color="#0000e9"/><stop offset="0.7632" stop-color="#0000f5"/><stop offset="0.8947" stop-color="#0017ff"/><stop offset="1.0000" stop-color="#0020ff"/></linearGradient><linearGradient id="c186" x1="0" y1="0" x2="0" y2="1"><stop offset="0.0000" stop-color="#0000ce"/><stop offset="0.2632" stop-color="#0000e0"/><stop offset="0.6053" stop-color="#0000ec"/><stop offset="0.7368" stop-color="#0000f8"/><stop offset="0.8684" stop-color="#0020ff"/><stop offset="1.0000" stop-color="#0029ff"/></linearGradient><linearGradient id="c187" x1="0" y1="0" x2="0" y2="1"><stop offset="0.0000" stop-color="#0000cc"/><stop offset="0.2632" stop-color="#0000dd"/><stop offset="0.6053" stop-color="#0000ea"/><stop offset="0.7368" stop-color="#0000f6"/><stop offset="0.8684" stop-color="#0030ff"/><stop offset="1.0000" stop-color="#0039ff"/></linearGradient><linearGradient id="c188" x1="0" y1="0" x2="0" y2="1"><stop offset="0.0000" stop-color="#0000d3"/><stop offset="0.2632" stop-color="#0000e4"/><stop offset="0.6053" stop-color="#0000f1"/><stop offset="0.7632" stop-color="#0000fd"/><stop offset="0.8947" stop-color="#0022ff"/><stop offset="1.0000" stop-color="#002bff"/></linearGradient><linearGradient id="c189" x1="0" y1="0" x2="0" y2="1"><stop offset="0.0000" stop-color="#0000c8"/><stop offset="0.2632" stop-color="#0000d9"/><stop offset="0.6053" stop-color="#0000e5"/><stop offset="0.7632" stop-color="#0000f2"/><stop offset="0.8947" stop-color="#0033ff"/><stop offset="1.0000" stop-color="#003cff"/></linearGradient><linearGradient id="c190" x1="0" y1="0" x2="0" y2="1"><stop offset="0.0000" stop-color="#0000d1"/><stop offset="0.2632" stop-color="#0000e2"/><stop offset="0.6053" stop-color="#0000ee"/><stop offset="0.7895" stop-color="#0000fb"/><stop offset="0.9211" stop-color="#0033ff"/><stop offset="1.0000" stop-color="#003cff"/></linearGradient><linearGradient id="c191" x1="0" y1="0" x2="0" y2="1"><stop offset="0.0000" stop-color="#0000cb"/><stop offset="0.2632" stop-color="#0000dc"/><stop offset="0.6053" stop-color="#0000e9"/><stop offset="0.7105" stop-color="#0000f5"/><stop offset="0.8421" stop-color="#001aff"/><stop offset="1.0000" stop-color="#0023ff"/></linearGradient><linearGradient id="c192" x1="0" y1="0" x2="0" y2="1"><stop offset="0.0000" stop-color="#0000d3"/><stop offset="0.2632" stop-color="#0000e4"/><stop offset="0.6053" stop-color="#0000f0"/><stop offset="0.7105" stop-color="#0000fd"/><stop offset="0.8421" stop-color="#0036ff"/><stop offset="1.0000" stop-color="#0040ff"/></linearGradient><linearGradient id="c193" x1="0" y1="0" x2="0" y2="1"><stop offset="0.0000" stop-color="#0000ce"/><stop offset="0.2632" stop-color="#0000df"/><stop offset="0.6053" stop-color="#0000ec"/><stop offset="0.7632" stop-color="#0000f8"/><stop offset="0.8947" stop-color="#001bff"/><stop offset="1.0000" stop-color="#0024ff"/></linearGradient><linearGradient id="c194" x1="0" y1="0" x2="0" y2="1"><stop offset="0.0000" stop-color="#0000d4"/><stop offset="0.2632" stop-color="#0000e5"/><stop offset="0.6053" stop-color="#0000f2"/><stop offset="0.7632" stop-color="#0000fe"/><stop offset="0.8947" stop-color="#0020ff"/><stop offset="1.0000" stop-color="#0029ff"/></linearGradient><linearGradient id="c195" x1="0" y1="0" x2="0" y2="1"><stop offset="0.0000" stop-color="#0000c8"/><stop offset="0.2632" stop-color="#0000d9"/><stop offset="0.6053" stop-color="#0000e6"/><stop offset="0.6842" stop-color="#0000f2"/><stop offset="0.8158" stop-color="#0018ff"/><stop offset="1.0000" stop-color="#0021ff"/></linearGradient><linearGradient id="c196" x1="0" y1="0" x2="0" y2="1"><stop offset="0.0000" stop-color="#0000cb"/><stop offset="0.2632" stop-color="#0000dc"/><stop offset="0.6053" stop-color="#0000e9"/><stop offset="0.7632" stop-color="#0000f5"/><stop offset="0.8947" stop-color="#0037ff"/><stop offset="1.0000" stop-color="#0040ff"/></linearGradient><linearGradient id="c197" x1="0" y1="0" x2="0" y2="1"><stop offset="0.0000" stop-color="#0000c9"/><stop offset="0.2632" stop-color="#0000da"/><stop offset="0.6053" stop-color="#0000e6"/><stop offset="0.7368" stop-color="#0000f3"/><stop offset="0.8684" stop-color="#0031ff"/><stop offset="1.0000" stop-color="#003aff"/></linearGradient><linearGradient id="c198" x1="0" y1="0" x2="0" y2="1"><stop offset="0.0000" stop-color="#0000cb"/><stop offset="0.2632" stop-color="#0000dc"/><stop offset="0.6053" stop-color="#0000e8"/><stop offset="0.6842" stop-color="#0000f5"/><stop offset="0.8158" stop-color="#0029ff"/><stop offset="1.0000" stop-color="#0032ff"/></linearGradient><linearGradient id="c199" x1="0" y1="0" x2="0" y2="1"><stop offset="0.0000" stop-color="#0000cb"/><stop offset="0.2632" stop-color="#0000dc"/><stop offset="0.6053" stop-color="#0000e8"/><stop offset="0.7368" stop-color="#0000f5"/><stop offset="0.8684" stop-color="#0028ff"/><stop offset="1.0000" stop-color="#0031ff"/></linearGradient><linearGradient id="c200" x1="0" y1="0" x2="0" y2="1"><stop offset="0.0000" stop-color="#0000cc"/><stop offset="0.2632" stop-color="#0000dd"/><stop offset="0.6053" stop-color="#0000ea"/><stop offset="0.7105" stop-color="#0000f6"/><stop offset="0.8421" stop-color="#001aff"/><stop offset="1.0000" stop-color="#0023ff"/></linearGradient><linearGradient id="c201" x1="0" y1="0" x2="0" y2="1"><stop offset="0.0000" stop-color="#0000c9"/><stop offset="0.2632" stop-color="#0000da"/><stop offset="0.6053" stop-color="#0000e7"/><stop offset="0.7105" stop-color="#0000f3"/><stop offset="0.8421" stop-color="#001bff"/><stop offset="1.0000" stop-color="#0024ff"/></linearGradient><linearGradient id="c202" x1="0" y1="0" x2="0" y2="1"><stop offset="0.0000" stop-color="#0000d5"/><stop offset="0.2632" stop-color="#0000e6"/><stop offset="0.6053" stop-color="#0000f3"/><stop offset="0.7105" stop-color="#0000ff"/><stop offset="0.8421" stop-color="#001cff"/><stop offset="1.0000" stop-color="#0025ff"/></linearGradient><linearGradient id="c203" x1="0" y1="0" x2="0" y2="1"><stop offset="0.0000" stop-color="#0000d4"/><stop offset="0.2632" stop-color="#0000e6"/><stop offset="0.6053" stop-color="#0000f2"/><stop offset="0.7368" stop-color="#0000fe"/><stop offset="0.8684" stop-color="#0021ff"/><stop offset="1.0000" stop-color="#002aff"/></linearGradient><linearGradient id="c204" x1="0" y1="0" x2="0" y2="1"><stop offset="0.0000" stop-color="#0000d0"/><stop offset="0.2632" stop-color="#0000e1"/><stop offset="0.6053" stop-color="#0000ee"/><stop offset="0.6579" stop-color="#0000fa"/><stop offset="0.7895" stop-color="#0030ff"/><stop offset="1.0000" stop-color="#0039ff"/></linearGradient><linearGradient id="c205" x1="0" y1="0" x2="0" y2="1"><stop offset="0.0000" stop-color="#0000d0"/><stop offset="0.2632" stop-color="#0000e2"/><stop offset="0.6053" stop-color="#0000ee"/><stop offset="0.7368" stop-color="#0000fa"/><stop offset="0.8684" stop-color="#002bff"/><stop offset="1.0000" stop-color="#0034ff"/></linearGradient><linearGradient id="c206" x1="0" y1="0" x2="0" y2="1"><stop offset="0.0000" stop-color="#0000ca"/><stop offset="0.2632" stop-color="#0000db"/><stop offset="0.6053" stop-color="#0000e7"/><stop offset="0.7105" stop-color="#0000f4"/><stop offset="0.8421" stop-color="#0023ff"/><stop offset="1.0000" stop-color="#002cff"/></linearGradient><linearGradient id="c207" x1="0" y1="0" x2="0" y2="1"><stop offset="0.0000" stop-color="#0000d4"/><stop offset="0.2632" stop-color="#0000e5"/><stop offset="0.6053" stop-color="#0000f2"/><stop offset="0.7632" stop-color="#0000fe"/><stop offset="0.8947" stop-color="#001eff"/><stop offset="1.0000" stop-color="#0027ff"/></linearGradient><linearGradient id="c208" x1="0" y1="0" x2="0" y2="1"><stop offset="0.0000" stop-color="#0000d6"/><stop offset="0.2632" stop-color="#0000e7"/><stop offset="0.6053" stop-color="#0000f3"/><stop offset="0.7105" stop-color="#0001ff"/><stop offset="0.8421" stop-color="#0030ff"/><stop offset="1.0000" stop-color="#0039ff"/></linearGradient><linearGradient id="c209" x1="0" y1="0" x2="0" y2="1"><stop offset="0.0000" stop-color="#0000d0"/><stop offset="0.2632" stop-color="#0000e1"/><stop offset="0.6053" stop-color="#0000ee"/><stop offset="0.7632" stop-color="#0000fa"/><stop offset="0.8947" stop-color="#0033ff"/><stop offset="1.0000" stop-color="#003cff"/></linearGradient><linearGradient id="c210" x1="0" y1="0" x2="0" y2="1"><stop offset="0.0000" stop-color="#0000d2"/><stop offset="0.2632" stop-color="#0000e3"/><stop offset="0.6053" stop-color="#0000ef"/><stop offset="0.7105" stop-color="#0000fc"/><stop offset="0.8421" stop-color="#0029ff"/><stop offset="1.0000" stop-color="#0032ff"/></linearGradient><linearGradient id="c211" x1="0" y1="0" x2="0" y2="1"><stop offset="0.0000" stop-color="#0000d3"/><stop offset="0.2632" stop-color="#0000e4"/><stop offset="0.6053" stop-color="#0000f1"/><stop offset="0.7368" stop-color="#0000fd"/><stop offset="0.8684" stop-color="#0035ff"/><stop offset="1.0000" stop-color="#003fff"/></linearGradient><linearGradient id="c212" x1="0" y1="0" x2="0" y2="1"><stop offset="0.0000" stop-color="#0000cf"/><stop offset="0.2632" stop-color="#0000e1"/><stop offset="0.6053" stop-color="#0000ed"/><stop offset="0.7105" stop-color="#0000f9"/><stop offset="0.8421" stop-color="#002dff"/><stop offset="1.0000" stop-color="#0036ff"/></linearGradient><linearGradient id="c213" x1="0" y1="0" x2="0" y2="1"><stop offset="0.0000" stop-color="#0000ce"/><stop offset="0.2632" stop-color="#0000e0"/><stop offset="0.6053" stop-color="#0000ec"/><stop offset="0.7368" stop-color="#0000f8"/><stop offset="0.8684" stop-color="#0037ff"/><stop offset="1.0000" stop-color="#0040ff"/></linearGradient><linearGradient id="c214" x1="0" y1="0" x2="0" y2="1"><stop offset="0.0000" stop-color="#0000d4"/><stop offset="0.2632" stop-color="#0000e6"/><stop offset="0.6053" stop-color="#0000f2"/><stop offset="0.7632" stop-color="#0000fe"/><stop offset="0.8947" stop-color="#0019ff"/><stop offset="1.0000" stop-color="#0023ff"/></linearGradient><linearGradient id="c215" x1="0" y1="0" x2="0" y2="1"><stop offset="0.0000" stop-color="#0000ce"/><stop offset="0.2632" stop-color="#0000e0"/><stop offset="0.6053" stop-color="#0000ec"/><stop offset="0.7895" stop-color="#0000f8"/><stop offset="0.9211" stop-color="#001fff"/><stop offset="1.0000" stop-color="#0028ff"/></linearGradient><linearGradient id="c216" x1="0" y1="0" x2="0" y2="1"><stop offset="0.0000" stop-color="#0000cc"/><stop offset="0.2632" stop-color="#0000de"/><stop offset="0.6053" stop-color="#0000ea"/><stop offset="0.7632" stop-color="#0000f6"/><stop offset="0.8947" stop-color="#0022ff"/><stop offset="1.0000" stop-color="#002bff"/></linearGradient><linearGradient id="c217" x1="0" y1="0" x2="0" y2="1"><stop offset="0.0000" stop-color="#0000cb"/><stop offset="0.2632" stop-color="#0000dc"/><stop offset="0.6053" stop-color="#0000e9"/><stop offset="0.7632" stop-color="#0000f5"/><stop offset="0.8947" stop-color="#0022ff"/><stop offset="1.0000" stop-color="#002bff"/></linearGradient><linearGradient id="c218" x1="0" y1="0" x2="0" y2="1"><stop offset="0.0000" stop-color="#0000d0"/><stop offset="0.2632" stop-color="#0000e2"/><stop offset="0.6053" stop-color="#0000ee"/><stop offset="0.7632" stop-color="#0000fa"/><stop offset="0.8947" stop-color="#001dff"/><stop offset="1.0000" stop-color="#0027ff"/></linearGradient><linearGradient id="c219" x1="0" y1="0" x2="0" y2="1"><stop offset="0.0000" stop-color="#0000cf"/><stop offset="0.2632" stop-color="#0000e0"/><stop offset="0.6053" stop-color="#0000ed"/><stop offset="0.6579" stop-color="#0000f9"/><stop offset="0.7895" stop-color="#0037ff"/><stop offset="1.0000" stop-color="#0040ff"/></linearGradient><linearGradient id="c220" x1="0" y1="0" x2="0" y2="1"><stop offset="0.0000" stop-color="#0000d3"/><stop offset="0.2632" stop-color="#0000e4"/><stop offset="0.6053" stop-color="#0000f1"/><stop offset="0.7105" stop-color="#0000fd"/><stop offset="0.8421" stop-color="#0027ff"/><stop offset="1.0000" stop-color="#0030ff"/></linearGradient><linearGradient id="c221" x1="0" y1="0" x2="0" y2="1"><stop offset="0.0000" stop-color="#0000d0"/><stop offset="0.2632" stop-color="#0000e1"/><stop offset="0.6053" stop-color="#0000ed"/><stop offset="0.7632" stop-color="#0000fa"/><stop offset="0.8947" stop-color="#0024ff"/><stop offset="1.0000" stop-color="#002dff"/></linearGradient><linearGradient id="c222" x1="0" y1="0" x2="0" y2="1"><stop offset="0.0000" stop-color="#0000d7"/><stop offset="0.2632" stop-color="#0000e8"/><stop offset="0.6053" stop-color="#0000f5"/><stop offset="0.7632" stop-color="#0003ff"/><stop offset="0.8947" stop-color="#002aff"/><stop offset="1.0000" stop-color="#0033ff"/></linearGradient><linearGradient id="c223" x1="0" y1="0" x2="0" y2="1"><stop offset="0.0000" stop-color="#0000d5"/><stop offset="0.2632" stop-color="#0000e6"/><stop offset="0.6053" stop-color="#0000f3"/><stop offset="0.7632" stop-color="#0000ff"/><stop offset="0.8947" stop-color="#001eff"/><stop offset="1.0000" stop-color="#0028ff"/></linearGradient><linearGradient id="c224" x1="0" y1="0" x2="0" y2="1"><stop offset="0.0000" stop-color="#0000d7"/><stop offset="0.2632" stop-color="#0000e9"/><stop offset="0.6053" stop-color="#0000f5"/><stop offset="0.7632" stop-color="#0004ff"/><stop offset="0.8947" stop-color="#002eff"/><stop offset="1.0000" stop-color="#0037ff"/></linearGradient><linearGradient id="c225" x1="0" y1="0" x2="0" y2="1"><stop offset="0.0000" stop-color="#0000d7"/><stop offset="0.2632" stop-color="#0000e9"/><stop offset="0.6053" stop-color="#0000f5"/><stop offset="0.6579" stop-color="#0004ff"/><stop offset="0.7895" stop-color="#0027ff"/><stop offset="1.0000" stop-color="#0030ff"/></linearGradient><linearGradient id="c226" x1="0" y1="0" x2="0" y2="1"><stop offset="0.0000" stop-color="#0000d0"/><stop offset="0.2632" stop-color="#0000e2"/><stop offset="0.6053" stop-color="#0000ee"/><stop offset="0.6579" stop-color="#0000fa"/><stop offset="0.7895" stop-color="#0025ff"/><stop offset="1.0000" stop-color="#002eff"/></linearGradient><linearGradient id="c227" x1="0" y1="0" x2="0" y2="1"><stop offset="0.0000" stop-color="#0000d5"/><stop offset="0.2632" stop-color="#0000e6"/><stop offset="0.6053" stop-color="#0000f2"/><stop offset="0.7368" stop-color="#0000ff"/><stop offset="0.8684" stop-color="#0026ff"/><stop offset="1.0000" stop-color="#002fff"/></linearGradient><linearGradient id="c228" x1="0" y1="0" x2="0" y2="1"><stop offset="0.0000" stop-color="#0000d8"/><stop offset="0.2632" stop-color="#0000e9"/><stop offset="0.6053" stop-color="#0000f5"/><stop offset="0.7368" stop-color="#0005ff"/><stop offset="0.8684" stop-color="#0030ff"/><stop offset="1.0000" stop-color="#003aff"/></linearGradient><linearGradient id="c229" x1="0" y1="0" x2="0" y2="1"><stop offset="0.0000" stop-color="#0000d5"/><stop offset="0.2632" stop-color="#0000e6"/><stop offset="0.6053" stop-color="#0000f2"/><stop offset="0.6842" stop-color="#0000ff"/><stop offset="0.8158" stop-color="#001eff"/><stop offset="1.0000" stop-color="#0027ff"/></linearGradient><linearGradient id="c230" x1="0" y1="0" x2="0" y2="1"><stop offset="0.0000" stop-color="#0000d5"/><stop offset="0.2632" stop-color="#0000e6"/><stop offset="0.6053" stop-color="#0000f3"/><stop offset="0.7632" stop-color="#0000ff"/><stop offset="0.8947" stop-color="#0033ff"/><stop offset="1.0000" stop-color="#003cff"/></linearGradient><linearGradient id="c231" x1="0" y1="0" x2="0" y2="1"><stop offset="0.0000" stop-color="#0000d3"/><stop offset="0.2632" stop-color="#0000e4"/><stop offset="0.6053" stop-color="#0000f0"/><stop offset="0.6842" stop-color="#0000fd"/><stop offset="0.8158" stop-color="#001dff"/><stop offset="1.0000" stop-color="#0026ff"/></linearGradient><linearGradient id="c232" x1="0" y1="0" x2="0" y2="1"><stop offset="0.0000" stop-color="#0000d1"/><stop offset="0.2632" stop-color="#0000e3"/><stop offset="0.6053" stop-color="#0000ef"/><stop offset="0.7368" stop-color="#0000fb"/><stop offset="0.8684" stop-color="#002fff"/><stop offset="1.0000" stop-color="#0038ff"/></linearGradient><linearGradient id="c233" x1="0" y1="0" x2="0" y2="1"><stop offset="0.0000" stop-color="#0000ce"/><stop offset="0.2632" stop-color="#0000df"/><stop offset="0.6053" stop-color="#0000eb"/><stop offset="0.7895" stop-color="#0000f8"/><stop offset="0.9211" stop-color="#001aff"/><stop offset="1.0000" stop-color="#0023ff"/></linearGradient><linearGradient id="c234" x1="0" y1="0" x2="0" y2="1"><stop offset="0.0000" stop-color="#0000d4"/><stop offset="0.2632" stop-color="#0000e5"/><stop offset="0.6053" stop-color="#0000f1"/><stop offset="0.7105" stop-color="#0000fe"/><stop offset="0.8421" stop-color="#002aff"/><stop offset="1.0000" stop-color="#0033ff"/></linearGradient><linearGradient id="c235" x1="0" y1="0" x2="0" y2="1"><stop offset="0.0000" stop-color="#0000d7"/><stop offset="0.2632" stop-color="#0000e8"/><stop offset="0.6053" stop-color="#0000f5"/><stop offset="0.7368" stop-color="#0004ff"/><stop offset="0.8684" stop-color="#0032ff"/><stop offset="1.0000" stop-color="#003bff"/></linearGradient><linearGradient id="c236" x1="0" y1="0" x2="0" y2="1"><stop offset="0.0000" stop-color="#0000d0"/><stop offset="0.2632" stop-color="#0000e1"/><stop offset="0.6053" stop-color="#0000ed"/><stop offset="0.7632" stop-color="#0000fa"/><stop offset="0.8947" stop-color="#0022ff"/><stop offset="1.0000" stop-color="#002bff"/></linearGradient><linearGradient id="c237" x1="0" y1="0" x2="0" y2="1"><stop offset="0.0000" stop-color="#0000d8"/><stop offset="0.2632" stop-color="#0000e9"/><stop offset="0.6053" stop-color="#0000f6"/><stop offset="0.7895" stop-color="#0005ff"/><stop offset="0.9211" stop-color="#0037ff"/><stop offset="1.0000" stop-color="#0040ff"/></linearGradient><linearGradient id="c238" x1="0" y1="0" x2="0" y2="1"><stop offset="0.0000" stop-color="#0000d0"/><stop offset="0.2632" stop-color="#0000e2"/><stop offset="0.6053" stop-color="#0000ee"/><stop offset="0.6579" stop-color="#0000fa"/><stop offset="0.7895" stop-color="#0038ff"/><stop offset="1.0000" stop-color="#0041ff"/></linearGradient><linearGradient id="c239" x1="0" y1="0" x2="0" y2="1"><stop offset="0.0000" stop-color="#0000d0"/><stop offset="0.2632" stop-color="#0000e1"/><stop offset="0.6053" stop-color="#0000ed"/><stop offset="0.7895" stop-color="#0000fa"/><stop offset="0.9211" stop-color="#002fff"/><stop offset="1.0000" stop-color="#0038ff"/></linearGradient><linearGradient id="c240" x1="0" y1="0" x2="0" y2="1"><stop offset="0.0000" stop-color="#0000cf"/><stop offset="0.2632" stop-color="#0000e0"/><stop offset="0.6053" stop-color="#0000ec"/><stop offset="0.7105" stop-color="#0000f9"/><stop offset="0.8421" stop-color="#002fff"/><stop offset="1.0000" stop-color="#0039ff"/></linearGradient><linearGradient id="c241" x1="0" y1="0" x2="0" y2="1"><stop offset="0.0000" stop-color="#0000d5"/><stop offset="0.2632" stop-color="#0000e7"/><stop offset="0.6053" stop-color="#0000f3"/><stop offset="0.7368" stop-color="#0001ff"/><stop offset="0.8684" stop-color="#001dff"/><stop offset="1.0000" stop-color="#0026ff"/></linearGradient><linearGradient id="c242" x1="0" y1="0" x2="0" y2="1"><stop offset="0.0000" stop-color="#0000d9"/><stop offset="0.2632" stop-color="#0000ea"/><stop offset="0.6053" stop-color="#0000f7"/><stop offset="0.6842" stop-color="#0008ff"/><stop offset="0.8158" stop-color="#001dff"/><stop offset="1.0000" stop-color="#0026ff"/></linearGradient><linearGradient id="c243" x1="0" y1="0" x2="0" y2="1"><stop offset="0.0000" stop-color="#0000d8"/><stop offset="0.2632" stop-color="#0000e9"/><stop offset="0.6053" stop-color="#0000f5"/><stop offset="0.6579" stop-color="#0005ff"/><stop offset="0.7895" stop-color="#0038ff"/><stop offset="1.0000" stop-color="#0041ff"/></linearGradient><linearGradient id="c244" x1="0" y1="0" x2="0" y2="1"><stop offset="0.0000" stop-color="#0000d6"/><stop offset="0.2632" stop-color="#0000e8"/><stop offset="0.6053" stop-color="#0000f4"/><stop offset="0.6579" stop-color="#0002ff"/><stop offset="0.7895" stop-color="#0038ff"/><stop offset="1.0000" stop-color="#0041ff"/></linearGradient><linearGradient id="c245" x1="0" y1="0" x2="0" y2="1"><stop offset="0.0000" stop-color="#0000d4"/><stop offset="0.2632" stop-color="#0000e5"/><stop offset="0.6053" stop-color="#0000f1"/><stop offset="0.7632" stop-color="#0000fe"/><stop offset="0.8947" stop-color="#0022ff"/><stop offset="1.0000" stop-color="#002cff"/></linearGradient><linearGradient id="c246" x1="0" y1="0" x2="0" y2="1"><stop offset="0.0000" stop-color="#0000da"/><stop offset="0.2632" stop-color="#0000eb"/><stop offset="0.6053" stop-color="#0000f8"/><stop offset="0.7105" stop-color="#0009ff"/><stop offset="0.8421" stop-color="#002eff"/><stop offset="1.0000" stop-color="#0037ff"/></linearGradient><linearGradient id="c247" x1="0" y1="0" x2="0" y2="1"><stop offset="0.0000" stop-color="#0000d9"/><stop offset="0.2632" stop-color="#0000ea"/><stop offset="0.6053" stop-color="#0000f7"/><stop offset="0.6842" stop-color="#0008ff"/><stop offset="0.8158" stop-color="#002fff"/><stop offset="1.0000" stop-color="#0038ff"/></linearGradient><linearGradient id="c248" x1="0" y1="0" x2="0" y2="1"><stop offset="0.0000" stop-color="#0000d6"/><stop offset="0.2632" stop-color="#0000e7"/><stop offset="0.6053" stop-color="#0000f4"/><stop offset="0.7105" stop-color="#0002ff"/><stop offset="0.8421" stop-color="#001eff"/><stop offset="1.0000" stop-color="#0027ff"/></linearGradient><linearGradient id="c249" x1="0" y1="0" x2="0" y2="1"><stop offset="0.0000" stop-color="#0000d4"/><stop offset="0.2632" stop-color="#0000e5"/><stop offset="0.6053" stop-color="#0000f2"/><stop offset="0.7105" stop-color="#0000fe"/><stop offset="0.8421" stop-color="#0031ff"/><stop offset="1.0000" stop-color="#003aff"/></linearGradient><linearGradient id="c250" x1="0" y1="0" x2="0" y2="1"><stop offset="0.0000" stop-color="#0000d1"/><stop offset="0.2632" stop-color="#0000e3"/><stop offset="0.6053" stop-color="#0000ef"/><stop offset="0.7632" stop-color="#0000fb"/><stop offset="0.8947" stop-color="#0038ff"/><stop offset="1.0000" stop-color="#0041ff"/></linearGradient><linearGradient id="c251" x1="0" y1="0" x2="0" y2="1"><stop offset="0.0000" stop-color="#0000d8"/><stop offset="0.2632" stop-color="#0000e9"/><stop offset="0.6053" stop-color="#0000f5"/><stop offset="0.7632" stop-color="#0005ff"/><stop offset="0.8947" stop-color="#002cff"/><stop offset="1.0000" stop-color="#0035ff"/></linearGradient><linearGradient id="c252" x1="0" y1="0" x2="0" y2="1"><stop offset="0.0000" stop-color="#0000d8"/><stop offset="0.2632" stop-color="#0000e9"/><stop offset="0.6053" stop-color="#0000f6"/><stop offset="0.7105" stop-color="#0006ff"/><stop offset="0.8421" stop-color="#002eff"/><stop offset="1.0000" stop-color="#0037ff"/></linearGradient><linearGradient id="c253" x1="0" y1="0" x2="0" y2="1"><stop offset="0.0000" stop-color="#0000d0"/><stop offset="0.2632" stop-color="#0000e2"/><stop offset="0.6053" stop-color="#0000ee"/><stop offset="0.7895" stop-color="#0000fa"/><stop offset="0.9211" stop-color="#001bff"/><stop offset="1.0000" stop-color="#0024ff"/></linearGradient><linearGradient id="c254" x1="0" y1="0" x2="0" y2="1"><stop offset="0.0000" stop-color="#0000d5"/><stop offset="0.2632" stop-color="#0000e7"/><stop offset="0.6053" stop-color="#0000f3"/><stop offset="0.6579" stop-color="#0001ff"/><stop offset="0.7895" stop-color="#0039ff"/><stop offset="1.0000" stop-color="#0042ff"/></linearGradient><linearGradient id="c255" x1="0" y1="0" x2="0" y2="1"><stop offset="0.0000" stop-color="#0000d9"/><stop offset="0.2632" stop-color="#0000ea"/><stop offset="0.6053" stop-color="#0000f7"/><stop offset="0.7368" stop-color="#0008ff"/><stop offset="0.8684" stop-color="#001dff"/><stop offset="1.0000" stop-color="#0026ff"/></linearGradient><linearGradient id="c256" x1="0" y1="0" x2="0" y2="1"><stop offset="0.0000" stop-color="#0000d2"/><stop offset="0.2632" stop-color="#0000e4"/><stop offset="0.6053" stop-color="#0000f0"/><stop offset="0.6579" stop-color="#0000fc"/><stop offset="0.7895" stop-color="#0031ff"/><stop offset="1.0000" stop-color="#003aff"/></linearGradient><linearGradient id="c257" x1="0" y1="0" x2="0" y2="1"><stop offset="0.0000" stop-color="#0000d9"/><stop offset="0.2632" stop-color="#0000ea"/><stop offset="0.6053" stop-color="#0000f7"/><stop offset="0.6842" stop-color="#0008ff"/><stop offset="0.8158" stop-color="#0021ff"/><stop offset="1.0000" stop-color="#002aff"/></linearGradient><linearGradient id="c258" x1="0" y1="0" x2="0" y2="1"><stop offset="0.0000" stop-color="#0000d1"/><stop offset="0.2632" stop-color="#0000e2"/><stop offset="0.6053" stop-color="#0000ee"/><stop offset="0.6842" stop-color="#0000fb"/><stop offset="0.8158" stop-color="#001fff"/><stop offset="1.0000" stop-color="#0028ff"/></linearGradient><linearGradient id="c259" x1="0" y1="0" x2="0" y2="1"><stop offset="0.0000" stop-color="#0000d7"/><stop offset="0.2632" stop-color="#0000e8"/><stop offset="0.6053" stop-color="#0000f4"/><stop offset="0.7895" stop-color="#0003ff"/><stop offset="0.9211" stop-color="#0028ff"/><stop offset="1.0000" stop-color="#0031ff"/></linearGradient><linearGradient id="c260" x1="0" y1="0" x2="0" y2="1"><stop offset="0.0000" stop-color="#0000d2"/><stop offset="0.2632" stop-color="#0000e3"/><stop offset="0.6053" stop-color="#0000ef"/><stop offset="0.7895" stop-color="#0000fc"/><stop offset="0.9211" stop-color="#0020ff"/><stop offset="1.0000" stop-color="#0029ff"/></linearGradient><linearGradient id="c261" x1="0" y1="0" x2="0" y2="1"><stop offset="0.0000" stop-color="#0000d7"/><stop offset="0.2632" stop-color="#0000e9"/><stop offset="0.6053" stop-color="#0000f5"/><stop offset="0.7105" stop-color="#0004ff"/><stop offset="0.8421" stop-color="#002eff"/><stop offset="1.0000" stop-color="#0037ff"/></linearGradient><linearGradient id="c262" x1="0" y1="0" x2="0" y2="1"><stop offset="0.0000" stop-color="#0000da"/><stop offset="0.2632" stop-color="#0000eb"/><stop offset="0.6053" stop-color="#0000f7"/><stop offset="0.6842" stop-color="#0009ff"/><stop offset="0.8158" stop-color="#0023ff"/><stop offset="1.0000" stop-color="#002cff"/></linearGradient><linearGradient id="c263" x1="0" y1="0" x2="0" y2="1"><stop offset="0.0000" stop-color="#0000da"/><stop offset="0.2632" stop-color="#0000eb"/><stop offset="0.6053" stop-color="#0000f7"/><stop offset="0.7105" stop-color="#0009ff"/><stop offset="0.8421" stop-color="#0032ff"/><stop offset="1.0000" stop-color="#003bff"/></linearGradient><linearGradient id="c264" x1="0" y1="0" x2="0" y2="1"><stop offset="0.0000" stop-color="#0000d1"/><stop offset="0.2632" stop-color="#0000e2"/><stop offset="0.6053" stop-color="#0000ef"/><stop offset="0.6842" stop-color="#0000fb"/><stop offset="0.8158" stop-color="#0028ff"/><stop offset="1.0000" stop-color="#0032ff"/></linearGradient><linearGradient id="c265" x1="0" y1="0" x2="0" y2="1"><stop offset="0.0000" stop-color="#0000d2"/><stop offset="0.2632" stop-color="#0000e4"/><stop offset="0.6053" stop-color="#0000f0"/><stop offset="0.7368" stop-color="#0000fc"/><stop offset="0.8684" stop-color="#002bff"/><stop offset="1.0000" stop-color="#0034ff"/></linearGradient><linearGradient id="c266" x1="0" y1="0" x2="0" y2="1"><stop offset="0.0000" stop-color="#0000d9"/><stop offset="0.2632" stop-color="#0000eb"/><stop offset="0.6053" stop-color="#0000f7"/><stop offset="0.7105" stop-color="#0008ff"/><stop offset="0.8421" stop-color="#001eff"/><stop offset="1.0000" stop-color="#0027ff"/></linearGradient><linearGradient id="c267" x1="0" y1="0" x2="0" y2="1"><stop offset="0.0000" stop-color="#0000d2"/><stop offset="0.2632" stop-color="#0000e3"/><stop offset="0.6053" stop-color="#0000ef"/><stop offset="0.7632" stop-color="#0000fc"/><stop offset="0.8947" stop-color="#002fff"/><stop offset="1.0000" stop-color="#0038ff"/></linearGradient><linearGradient id="c268" x1="0" y1="0" x2="0" y2="1"><stop offset="0.0000" stop-color="#0000d6"/><stop offset="0.2632" stop-color="#0000e7"/><stop offset="0.6053" stop-color="#0000f3"/><stop offset="0.7895" stop-color="#0001ff"/><stop offset="0.9211" stop-color="#0020ff"/><stop offset="1.0000" stop-color="#0029ff"/></linearGradient><linearGradient id="c269" x1="0" y1="0" x2="0" y2="1"><stop offset="0.0000" stop-color="#0000da"/><stop offset="0.2632" stop-color="#0000eb"/><stop offset="0.6053" stop-color="#0000f8"/><stop offset="0.6842" stop-color="#0009ff"/><stop offset="0.8158" stop-color="#0026ff"/><stop offset="1.0000" stop-color="#002fff"/></linearGradient><linearGradient id="c270" x1="0" y1="0" x2="0" y2="1"><stop offset="0.0000" stop-color="#0000da"/><stop offset="0.2632" stop-color="#0000eb"/><stop offset="0.6053" stop-color="#0000f8"/><stop offset="0.7105" stop-color="#0009ff"/><stop offset="0.8421" stop-color="#0032ff"/><stop offset="1.0000" stop-color="#003cff"/></linearGradient><linearGradient id="c271" x1="0" y1="0" x2="0" y2="1"><stop offset="0.0000" stop-color="#0000d1"/><stop offset="0.2632" stop-color="#0000e3"/><stop offset="0.6053" stop-color="#0000ef"/><stop offset="0.6579" stop-color="#0000fb"/><stop offset="0.7895" stop-color="#0027ff"/><stop offset="1.0000" stop-color="#0030ff"/></linearGradient><linearGradient id="c272" x1="0" y1="0" x2="0" y2="1"><stop offset="0.0000" stop-color="#0000da"/><stop offset="0.2632" stop-color="#0000eb"/><stop offset="0.6053" stop-color="#0000f8"/><stop offset="0.6579" stop-color="#0009ff"/><stop offset="0.7895" stop-color="#0029ff"/><stop offset="1.0000" stop-color="#0032ff"/></linearGradient><linearGradient id="c273" x1="0" y1="0" x2="0" y2="1"><stop offset="0.0000" stop-color="#0000d3"/><stop offset="0.2632" stop-color="#0000e4"/><stop offset="0.6053" stop-color="#0000f0"/><stop offset="0.7368" stop-color="#0000fd"/><stop offset="0.8684" stop-color="#0038ff"/><stop offset="1.0000" stop-color="#0041ff"/></linearGradient><linearGradient id="c274" x1="0" y1="0" x2="0" y2="1"><stop offset="0.0000" stop-color="#0000da"/><stop offset="0.2632" stop-color="#0000eb"/><stop offset="0.6053" stop-color="#0000f8"/><stop offset="0.7368" stop-color="#0009ff"/><stop offset="0.8684" stop-color="#002aff"/><stop offset="1.0000" stop-color="#0033ff"/></linearGradient><linearGradient id="c275" x1="0" y1="0" x2="0" y2="1"><stop offset="0.0000" stop-color="#0000d5"/><stop offset="0.2632" stop-color="#0000e6"/><stop offset="0.6053" stop-color="#0000f2"/><stop offset="0.7632" stop-color="#0000ff"/><stop offset="0.8947" stop-color="#0035ff"/><stop offset="1.0000" stop-color="#003eff"/></linearGradient><linearGradient id="c276" x1="0" y1="0" x2="0" y2="1"><stop offset="0.0000" stop-color="#0000db"/><stop offset="0.2632" stop-color="#0000ec"/><stop offset="0.6053" stop-color="#0000f8"/><stop offset="0.7895" stop-color="#000bff"/><stop offset="0.9211" stop-color="#001fff"/><stop offset="1.0000" stop-color="#0028ff"/></linearGradient><linearGradient id="c277" x1="0" y1="0" x2="0" y2="1"><stop offset="0.0000" stop-color="#0000d9"/><stop offset="0.2632" stop-color="#0000eb"/><stop offset="0.6053" stop-color="#0000f7"/><stop offset="0.6579" stop-color="#0008ff"/><stop offset="0.7895" stop-color="#0027ff"/><stop offset="1.0000" stop-color="#0030ff"/></linearGradient><linearGradient id="c278" x1="0" y1="0" x2="0" y2="1"><stop offset="0.0000" stop-color="#0000d3"/><stop offset="0.2632" stop-color="#0000e5"/><stop offset="0.6053" stop-color="#0000f1"/><stop offset="0.6842" stop-color="#0000fd"/><stop offset="0.8158" stop-color="#0037ff"/><stop offset="1.0000" stop-color="#0041ff"/></linearGradient><linearGradient id="c279" x1="0" y1="0" x2="0" y2="1"><stop offset="0.0000" stop-color="#0000d2"/><stop offset="0.2632" stop-color="#0000e3"/><stop offset="0.6053" stop-color="#0000ef"/><stop offset="0.7368" stop-color="#0000fc"/><stop offset="0.8684" stop-color="#0037ff"/><stop offset="1.0000" stop-color="#0040ff"/></linearGradient><linearGradient id="c280" x1="0" y1="0" x2="0" y2="1"><stop offset="0.0000" stop-color="#0000da"/><stop offset="0.2632" stop-color="#0000eb"/><stop offset="0.6053" stop-color="#0000f8"/><stop offset="0.7368" stop-color="#0009ff"/><stop offset="0.8684" stop-color="#001fff"/><stop offset="1.0000" stop-color="#0028ff"/></linearGradient><linearGradient id="c281" x1="0" y1="0" x2="0" y2="1"><stop offset="0.0000" stop-color="#0000dd"/><stop offset="0.2632" stop-color="#0000ef"/><stop offset="0.6053" stop-color="#0000fb"/><stop offset="0.7105" stop-color="#000fff"/><stop offset="0.8421" stop-color="#0030ff"/><stop offset="1.0000" stop-color="#0039ff"/></linearGradient><linearGradient id="c282" x1="0" y1="0" x2="0" y2="1"><stop offset="0.0000" stop-color="#0000d7"/><stop offset="0.2632" stop-color="#0000e8"/><stop offset="0.6053" stop-color="#0000f4"/><stop offset="0.7368" stop-color="#0003ff"/><stop offset="0.8684" stop-color="#0020ff"/><stop offset="1.0000" stop-color="#0029ff"/></linearGradient><linearGradient id="c283" x1="0" y1="0" x2="0" y2="1"><stop offset="0.0000" stop-color="#0000d8"/><stop offset="0.2632" stop-color="#0000ea"/><stop offset="0.6053" stop-color="#0000f6"/><stop offset="0.7895" stop-color="#0006ff"/><stop offset="0.9211" stop-color="#003aff"/><stop offset="1.0000" stop-color="#0043ff"/></linearGradient><linearGradient id="c284" x1="0" y1="0" x2="0" y2="1"><stop offset="0.0000" stop-color="#0000d7"/><stop offset="0.2632" stop-color="#0000e8"/><stop offset="0.6053" stop-color="#0000f4"/><stop offset="0.7368" stop-color="#0003ff"/><stop offset="0.8684" stop-color="#0033ff"/><stop offset="1.0000" stop-color="#003cff"/></linearGradient><linearGradient id="c285" x1="0" y1="0" x2="0" y2="1"><stop offset="0.0000" stop-color="#0000d7"/><stop offset="0.2632" stop-color="#0000e8"/><stop offset="0.6053" stop-color="#0000f5"/><stop offset="0.7105" stop-color="#0004ff"/><stop offset="0.8421" stop-color="#0027ff"/><stop offset="1.0000" stop-color="#0030ff"/></linearGradient><linearGradient id="c286" x1="0" y1="0" x2="0" y2="1"><stop offset="0.0000" stop-color="#0000dc"/><stop offset="0.2632" stop-color="#0000ed"/><stop offset="0.6053" stop-color="#0000fa"/><stop offset="0.7368" stop-color="#000dff"/><stop offset="0.8684" stop-color="#0038ff"/><stop offset="1.0000" stop-color="#0041ff"/></linearGradient><linearGradient id="c287" x1="0" y1="0" x2="0" y2="1"><stop offset="0.0000" stop-color="#0000d9"/><stop offset="0.2632" stop-color="#0000ea"/><stop offset="0.6053" stop-color="#0000f7"/><stop offset="0.7632" stop-color="#0007ff"/><stop offset="0.8947" stop-color="#0038ff"/><stop offset="1.0000" stop-color="#0041ff"/></linearGradient><linearGradient id="c288" x1="0" y1="0" x2="0" y2="1"><stop offset="0.0000" stop-color="#0000d7"/><stop offset="0.2632" stop-color="#0000e8"/><stop offset="0.6053" stop-color="#0000f4"/><stop offset="0.7632" stop-color="#0003ff"/><stop offset="0.8947" stop-color="#0039ff"/><stop offset="1.0000" stop-color="#0043ff"/></linearGradient><linearGradient id="c289" x1="0" y1="0" x2="0" y2="1"><stop offset="0.0000" stop-color="#0000db"/><stop offset="0.2632" stop-color="#0000ec"/><stop offset="0.6053" stop-color="#0000f8"/><stop offset="0.7368" stop-color="#000aff"/><stop offset="0.8684" stop-color="#0037ff"/><stop offset="1.0000" stop-color="#0040ff"/></linearGradient><linearGradient id="c290" x1="0" y1="0" x2="0" y2="1"><stop offset="0.0000" stop-color="#0000d5"/><stop offset="0.2632" stop-color="#0000e6"/><stop offset="0.6053" stop-color="#0000f2"/><stop offset="0.7105" stop-color="#0000ff"/><stop offset="0.8421" stop-color="#001dff"/><stop offset="1.0000" stop-color="#0026ff"/></linearGradient><linearGradient id="c291" x1="0" y1="0" x2="0" y2="1"><stop offset="0.0000" stop-color="#0000de"/><stop offset="0.2632" stop-color="#0000ef"/><stop offset="0.6053" stop-color="#0000fb"/><stop offset="0.7105" stop-color="#0010ff"/><stop offset="0.8421" stop-color="#0028ff"/><stop offset="1.0000" stop-color="#0031ff"/></linearGradient><linearGradient id="c292" x1="0" y1="0" x2="0" y2="1"><stop offset="0.0000" stop-color="#0000da"/><stop offset="0.2632" stop-color="#0000ec"/><stop offset="0.6053" stop-color="#0000f8"/><stop offset="0.7895" stop-color="#000aff"/><stop offset="0.9211" stop-color="#0036ff"/><stop offset="1.0000" stop-color="#003fff"/></linearGradient><linearGradient id="c293" x1="0" y1="0" x2="0" y2="1"><stop offset="0.0000" stop-color="#0000db"/><stop offset="0.2632" stop-color="#0000ed"/><stop offset="0.6053" stop-color="#0000f9"/><stop offset="0.7105" stop-color="#000cff"/><stop offset="0.8421" stop-color="#0024ff"/><stop offset="1.0000" stop-color="#002dff"/></linearGradient><linearGradient id="c294" x1="0" y1="0" x2="0" y2="1"><stop offset="0.0000" stop-color="#0000df"/><stop offset="0.2632" stop-color="#0000f0"/><stop offset="0.6053" stop-color="#0000fd"/><stop offset="0.7895" stop-color="#0012ff"/><stop offset="0.9211" stop-color="#0032ff"/><stop offset="1.0000" stop-color="#003bff"/></linearGradient><linearGradient id="c295" x1="0" y1="0" x2="0" y2="1"><stop offset="0.0000" stop-color="#0000df"/><stop offset="0.2632" stop-color="#0000f1"/><stop offset="0.6053" stop-color="#0000fd"/><stop offset="0.7368" stop-color="#0013ff"/><stop offset="0.8684" stop-color="#0021ff"/><stop offset="1.0000" stop-color="#002aff"/></linearGradient><linearGradient id="c296" x1="0" y1="0" x2="0" y2="1"><stop offset="0.0000" stop-color="#0000dc"/><stop offset="0.2632" stop-color="#0000ee"/><stop offset="0.6053" stop-color="#0000fa"/><stop offset="0.7368" stop-color="#000eff"/><stop offset="0.8684" stop-color="#0034ff"/><stop offset="1.0000" stop-color="#003dff"/></linearGradient><linearGradient id="c297" x1="0" y1="0" x2="0" y2="1"><stop offset="0.0000" stop-color="#0000d8"/><stop offset="0.2632" stop-color="#0000e9"/><stop offset="0.6053" stop-color="#0000f6"/><stop offset="0.7632" stop-color="#0005ff"/><stop offset="0.8947" stop-color="#0023ff"/><stop offset="1.0000" stop-color="#002dff"/></linearGradient><linearGradient id="c298" x1="0" y1="0" x2="0" y2="1"><stop offset="0.0000" stop-color="#0000de"/><stop offset="0.2632" stop-color="#0000ef"/><stop offset="0.6053" stop-color="#0000fc"/><stop offset="0.7632" stop-color="#0010ff"/><stop offset="0.8947" stop-color="#001eff"/><stop offset="1.0000" stop-color="#0027ff"/></linearGradient><linearGradient id="c299" x1="0" y1="0" x2="0" y2="1"><stop offset="0.0000" stop-color="#0000df"/><stop offset="0.2632" stop-color="#0000f0"/><stop offset="0.6053" stop-color="#0000fc"/><stop offset="0.6842" stop-color="#0012ff"/><stop offset="0.8158" stop-color="#002fff"/><stop offset="1.0000" stop-color="#0038ff"/></linearGradient><linearGradient id="c300" x1="0" y1="0" x2="0" y2="1"><stop offset="0.0000" stop-color="#0000d4"/><stop offset="0.2632" stop-color="#0000e6"/><stop offset="0.6053" stop-color="#0000f2"/><stop offset="0.7105" stop-color="#0000fe"/><stop offset="0.8421" stop-color="#0021ff"/><stop offset="1.0000" stop-color="#002aff"/></linearGradient><linearGradient id="c301" x1="0" y1="0" x2="0" y2="1"><stop offset="0.0000" stop-color="#0000d5"/><stop offset="0.2632" stop-color="#0000e7"/><stop offset="0.6053" stop-color="#0000f3"/><stop offset="0.7105" stop-color="#0000ff"/><stop offset="0.8421" stop-color="#002aff"/><stop offset="1.0000" stop-color="#0034ff"/></linearGradient><linearGradient id="c302" x1="0" y1="0" x2="0" y2="1"><stop offset="0.0000" stop-color="#0000d8"/><stop offset="0.2632" stop-color="#0000ea"/><stop offset="0.6053" stop-color="#0000f6"/><stop offset="0.7368" stop-color="#0006ff"/><stop offset="0.8684" stop-color="#0020ff"/><stop offset="1.0000" stop-color="#0029ff"/></linearGradient><linearGradient id="c303" x1="0" y1="0" x2="0" y2="1"><stop offset="0.0000" stop-color="#0000d8"/><stop offset="0.2632" stop-color="#0000e9"/><stop offset="0.6053" stop-color="#0000f6"/><stop offset="0.7632" stop-color="#0006ff"/><stop offset="0.8947" stop-color="#002fff"/><stop offset="1.0000" stop-color="#0038ff"/></linearGradient><linearGradient id="c304" x1="0" y1="0" x2="0" y2="1"><stop offset="0.0000" stop-color="#0000df"/><stop offset="0.2632" stop-color="#0000f1"/><stop offset="0.6053" stop-color="#0000fd"/><stop offset="0.7105" stop-color="#0013ff"/><stop offset="0.8421" stop-color="#003dff"/><stop offset="1.0000" stop-color="#0046ff"/></linearGradient><linearGradient id="c305" x1="0" y1="0" x2="0" y2="1"><stop offset="0.0000" stop-color="#0000df"/><stop offset="0.2632" stop-color="#0000f0"/><stop offset="0.6053" stop-color="#0000fc"/><stop offset="0.7368" stop-color="#0012ff"/><stop offset="0.8684" stop-color="#0035ff"/><stop offset="1.0000" stop-color="#003eff"/></linearGradient><linearGradient id="c306" x1="0" y1="0" x2="0" y2="1"><stop offset="0.0000" stop-color="#0000e1"/><stop offset="0.2632" stop-color="#0000f2"/><stop offset="0.6053" stop-color="#0000fe"/><stop offset="0.7105" stop-color="#0015ff"/><stop offset="0.8421" stop-color="#001eff"/><stop offset="1.0000" stop-color="#0027ff"/></linearGradient><linearGradient id="c307" x1="0" y1="0" x2="0" y2="1"><stop offset="0.0000" stop-color="#0000dd"/><stop offset="0.2632" stop-color="#0000ef"/><stop offset="0.6053" stop-color="#0000fb"/><stop offset="0.7632" stop-color="#0010ff"/><stop offset="0.8947" stop-color="#0038ff"/><stop offset="1.0000" stop-color="#0041ff"/></linearGradient><linearGradient id="c308" x1="0" y1="0" x2="0" y2="1"><stop offset="0.0000" stop-color="#0000db"/><stop offset="0.2632" stop-color="#0000ed"/><stop offset="0.6053" stop-color="#0000f9"/><stop offset="0.6579" stop-color="#000bff"/><stop offset="0.7895" stop-color="#0031ff"/><stop offset="1.0000" stop-color="#003aff"/></linearGradient><linearGradient id="c309" x1="0" y1="0" x2="0" y2="1"><stop offset="0.0000" stop-color="#0000d6"/><stop offset="0.2632" stop-color="#0000e8"/><stop offset="0.6053" stop-color="#0000f4"/><stop offset="0.7368" stop-color="#0002ff"/><stop offset="0.8684" stop-color="#001dff"/><stop offset="1.0000" stop-color="#0027ff"/></linearGradient><linearGradient id="c310" x1="0" y1="0" x2="0" y2="1"><stop offset="0.0000" stop-color="#0000e0"/><stop offset="0.2632" stop-color="#0000f1"/><stop offset="0.6053" stop-color="#0000fe"/><stop offset="0.7632" stop-color="#0014ff"/><stop offset="0.8947" stop-color="#0038ff"/><stop offset="1.0000" stop-color="#0041ff"/></linearGradient><linearGradient id="c311" x1="0" y1="0" x2="0" y2="1"><stop offset="0.0000" stop-color="#0000df"/><stop offset="0.2632" stop-color="#0000f0"/><stop offset="0.6053" stop-color="#0000fc"/><stop offset="0.7105" stop-color="#0012ff"/><stop offset="0.8421" stop-color="#002eff"/><stop offset="1.0000" stop-color="#0038ff"/></linearGradient><linearGradient id="c312" x1="0" y1="0" x2="0" y2="1"><stop offset="0.0000" stop-color="#0000dd"/><stop offset="0.2632" stop-color="#0000ee"/><stop offset="0.6053" stop-color="#0000fb"/><stop offset="0.6579" stop-color="#000fff"/><stop offset="0.7895" stop-color="#0023ff"/><stop offset="1.0000" stop-color="#002cff"/></linearGradient><linearGradient id="c313" x1="0" y1="0" x2="0" y2="1"><stop offset="0.0000" stop-color="#0000d9"/><stop offset="0.2632" stop-color="#0000ea"/><stop offset="0.6053" stop-color="#0000f6"/><stop offset="0.7105" stop-color="#0007ff"/><stop offset="0.8421" stop-color="#0037ff"/><stop offset="1.0000" stop-color="#0040ff"/></linearGradient><linearGradient id="c314" x1="0" y1="0" x2="0" y2="1"><stop offset="0.0000" stop-color="#0000d7"/><stop offset="0.2632" stop-color="#0000e8"/><stop offset="0.6053" stop-color="#0000f4"/><stop offset="0.6579" stop-color="#0003ff"/><stop offset="0.7895" stop-color="#003dff"/><stop offset="1.0000" stop-color="#0046ff"/></linearGradient><linearGradient id="c315" x1="0" y1="0" x2="0" y2="1"><stop offset="0.0000" stop-color="#0000df"/><stop offset="0.2632" stop-color="#0000f1"/><stop offset="0.6053" stop-color="#0000fd"/><stop offset="0.7895" stop-color="#0013ff"/><stop offset="0.9211" stop-color="#0026ff"/><stop offset="1.0000" stop-color="#002fff"/></linearGradient><linearGradient id="c316" x1="0" y1="0" x2="0" y2="1"><stop offset="0.0000" stop-color="#0000db"/><stop offset="0.2632" stop-color="#0000ed"/><stop offset="0.6053" stop-color="#0000f9"/><stop offset="0.7632" stop-color="#000cff"/><stop offset="0.8947" stop-color="#0038ff"/><stop offset="1.0000" stop-color="#0042ff"/></linearGradient><linearGradient id="c317" x1="0" y1="0" x2="0" y2="1"><stop offset="0.0000" stop-color="#0000db"/><stop offset="0.2632" stop-color="#0000ec"/><stop offset="0.6053" stop-color="#0000f8"/><stop offset="0.7105" stop-color="#000bff"/><stop offset="0.8421" stop-color="#0024ff"/><stop offset="1.0000" stop-color="#002dff"/></linearGradient><linearGradient id="c318" x1="0" y1="0" x2="0" y2="1"><stop offset="0.0000" stop-color="#0000e1"/><stop offset="0.2632" stop-color="#0000f3"/><stop offset="0.6053" stop-color="#0000ff"/><stop offset="0.7632" stop-color="#0017ff"/><stop offset="0.8947" stop-color="#003cff"/><stop offset="1.0000" stop-color="#0046ff"/></linearGradient><linearGradient id="c319" x1="0" y1="0" x2="0" y2="1"><stop offset="0.0000" stop-color="#0000d7"/><stop offset="0.2632" stop-color="#0000e9"/><stop offset="0.6053" stop-color="#0000f5"/><stop offset="0.7368" stop-color="#0004ff"/><stop offset="0.8684" stop-color="#0035ff"/><stop offset="1.0000" stop-color="#003eff"/></linearGradient><linearGradient id="c320" x1="0" y1="0" x2="0" y2="1"><stop offset="0.0000" stop-color="#0000d8"/><stop offset="0.2632" stop-color="#0000e9"/><stop offset="0.6053" stop-color="#0000f6"/><stop offset="0.7105" stop-color="#0006ff"/><stop offset="0.8421" stop-color="#0038ff"/><stop offset="1.0000" stop-color="#0041ff"/></linearGradient><linearGradient id="c321" x1="0" y1="0" x2="0" y2="1"><stop offset="0.0000" stop-color="#0000d9"/><stop offset="0.2632" stop-color="#0000ea"/><stop offset="0.6053" stop-color="#0000f6"/><stop offset="0.7368" stop-color="#0007ff"/><stop offset="0.8684" stop-color="#001eff"/><stop offset="1.0000" stop-color="#0027ff"/></linearGradient><linearGradient id="c322" x1="0" y1="0" x2="0" y2="1"><stop offset="0.0000" stop-color="#0000dc"/><stop offset="0.2632" stop-color="#0000ee"/><stop offset="0.6053" stop-color="#0000fa"/><stop offset="0.7105" stop-color="#000eff"/><stop offset="0.8421" stop-color="#002bff"/><stop offset="1.0000" stop-color="#0034ff"/></linearGradient><linearGradient id="c323" x1="0" y1="0" x2="0" y2="1"><stop offset="0.0000" stop-color="#0000db"/><stop offset="0.2632" stop-color="#0000ed"/><stop offset="0.6053" stop-color="#0000f9"/><stop offset="0.6579" stop-color="#000cff"/><stop offset="0.7895" stop-color="#0024ff"/><stop offset="1.0000" stop-color="#002dff"/></linearGradient><linearGradient id="c324" x1="0" y1="0" x2="0" y2="1"><stop offset="0.0000" stop-color="#0000e0"/><stop offset="0.2632" stop-color="#0000f2"/><stop offset="0.6053" stop-color="#0000fe"/><stop offset="0.6842" stop-color="#0015ff"/><stop offset="0.8158" stop-color="#003aff"/><stop offset="1.0000" stop-color="#0044ff"/></linearGradient><linearGradient id="c325" x1="0" y1="0" x2="0" y2="1"><stop offset="0.0000" stop-color="#0000df"/><stop offset="0.2632" stop-color="#0000f1"/><stop offset="0.6053" stop-color="#0000fd"/><stop offset="0.7368" stop-color="#0013ff"/><stop offset="0.8684" stop-color="#001eff"/><stop offset="1.0000" stop-color="#0027ff"/></linearGradient><linearGradient id="c326" x1="0" y1="0" x2="0" y2="1"><stop offset="0.0000" stop-color="#0000d7"/><stop offset="0.2632" stop-color="#0000e8"/><stop offset="0.6053" stop-color="#0000f5"/><stop offset="0.7895" stop-color="#0004ff"/><stop offset="0.9211" stop-color="#0030ff"/><stop offset="1.0000" stop-color="#0039ff"/></linearGradient><linearGradient id="c327" x1="0" y1="0" x2="0" y2="1"><stop offset="0.0000" stop-color="#0000dc"/><stop offset="0.2632" stop-color="#0000ed"/><stop offset="0.6053" stop-color="#0000f9"/><stop offset="0.7632" stop-color="#000cff"/><stop offset="0.8947" stop-color="#0028ff"/><stop offset="1.0000" stop-color="#0031ff"/></linearGradient><linearGradient id="c328" x1="0" y1="0" x2="0" y2="1"><stop offset="0.0000" stop-color="#0000e2"/><stop offset="0.2632" stop-color="#0000f3"/><stop offset="0.6053" stop-color="#0001ff"/><stop offset="0.7105" stop-color="#0017ff"/><stop offset="0.8421" stop-color="#0036ff"/><stop offset="1.0000" stop-color="#003fff"/></linearGradient><linearGradient id="c329" x1="0" y1="0" x2="0" y2="1"><stop offset="0.0000" stop-color="#0000da"/><stop offset="0.2632" stop-color="#0000ec"/><stop offset="0.6053" stop-color="#0000f8"/><stop offset="0.7105" stop-color="#000aff"/><stop offset="0.8421" stop-color="#0037ff"/><stop offset="1.0000" stop-color="#0040ff"/></linearGradient><linearGradient id="c330" x1="0" y1="0" x2="0" y2="1"><stop offset="0.0000" stop-color="#0000d7"/><stop offset="0.2632" stop-color="#0000e8"/><stop offset="0.6053" stop-color="#0000f5"/><stop offset="0.6842" stop-color="#0004ff"/><stop offset="0.8158" stop-color="#0020ff"/><stop offset="1.0000" stop-color="#0029ff"/></linearGradient><linearGradient id="c331" x1="0" y1="0" x2="0" y2="1"><stop offset="0.0000" stop-color="#0000d8"/><stop offset="0.2632" stop-color="#0000e9"/><stop offset="0.6053" stop-color="#0000f6"/><stop offset="0.7105" stop-color="#0006ff"/><stop offset="0.8421" stop-color="#0026ff"/><stop offset="1.0000" stop-color="#002fff"/></linearGradient><linearGradient id="c332" x1="0" y1="0" x2="0" y2="1"><stop offset="0.0000" stop-color="#0000e2"/><stop offset="0.2632" stop-color="#0000f3"/><stop offset="0.6053" stop-color="#0001ff"/><stop offset="0.7632" stop-color="#0017ff"/><stop offset="0.8947" stop-color="#0034ff"/><stop offset="1.0000" stop-color="#003dff"/></linearGradient><linearGradient id="c333" x1="0" y1="0" x2="0" y2="1"><stop offset="0.0000" stop-color="#0000de"/><stop offset="0.2632" stop-color="#0000ef"/><stop offset="0.6053" stop-color="#0000fc"/><stop offset="0.7895" stop-color="#0010ff"/><stop offset="0.9211" stop-color="#002eff"/><stop offset="1.0000" stop-color="#0037ff"/></linearGradient><linearGradient id="c334" x1="0" y1="0" x2="0" y2="1"><stop offset="0.0000" stop-color="#0000e0"/><stop offset="0.2632" stop-color="#0000f2"/><stop offset="0.6053" stop-color="#0000fe"/><stop offset="0.6579" stop-color="#0015ff"/><stop offset="0.7895" stop-color="#0038ff"/><stop offset="1.0000" stop-color="#0041ff"/></linearGradient><linearGradient id="c335" x1="0" y1="0" x2="0" y2="1"><stop offset="0.0000" stop-color="#0000de"/><stop offset="0.2632" stop-color="#0000f0"/><stop offset="0.6053" stop-color="#0000fc"/><stop offset="0.7368" stop-color="#0011ff"/><stop offset="0.8684" stop-color="#0024ff"/><stop offset="1.0000" stop-color="#002dff"/></linearGradient><linearGradient id="c336" x1="0" y1="0" x2="0" y2="1"><stop offset="0.0000" stop-color="#0000de"/><stop offset="0.2632" stop-color="#0000ef"/><stop offset="0.6053" stop-color="#0000fc"/><stop offset="0.6579" stop-color="#0010ff"/><stop offset="0.7895" stop-color="#0032ff"/><stop offset="1.0000" stop-color="#003bff"/></linearGradient><linearGradient id="c337" x1="0" y1="0" x2="0" y2="1"><stop offset="0.0000" stop-color="#0000df"/><stop offset="0.2632" stop-color="#0000f0"/><stop offset="0.6053" stop-color="#0000fd"/><stop offset="0.6579" stop-color="#0012ff"/><stop offset="0.7895" stop-color="#0026ff"/><stop offset="1.0000" stop-color="#002fff"/></linearGradient><linearGradient id="c338" x1="0" y1="0" x2="0" y2="1"><stop offset="0.0000" stop-color="#0000dc"/><stop offset="0.2632" stop-color="#0000ed"/><stop offset="0.6053" stop-color="#0000fa"/><stop offset="0.7895" stop-color="#000dff"/><stop offset="0.9211" stop-color="#003cff"/><stop offset="1.0000" stop-color="#0045ff"/></linearGradient><linearGradient id="c339" x1="0" y1="0" x2="0" y2="1"><stop offset="0.0000" stop-color="#0000df"/><stop offset="0.2632" stop-color="#0000f0"/><stop offset="0.6053" stop-color="#0000fc"/><stop offset="0.7895" stop-color="#0012ff"/><stop offset="0.9211" stop-color="#0034ff"/><stop offset="1.0000" stop-color="#003dff"/></linearGradient><linearGradient id="c340" x1="0" y1="0" x2="0" y2="1"><stop offset="0.0000" stop-color="#0000e3"/><stop offset="0.2632" stop-color="#0000f4"/><stop offset="0.6053" stop-color="#0002ff"/><stop offset="0.7632" stop-color="#0019ff"/><stop offset="0.8947" stop-color="#0039ff"/><stop offset="1.0000" stop-color="#0042ff"/></linearGradient><linearGradient id="c341" x1="0" y1="0" x2="0" y2="1"><stop offset="0.0000" stop-color="#0000dd"/><stop offset="0.2632" stop-color="#0000ee"/><stop offset="0.6053" stop-color="#0000fa"/><stop offset="0.7368" stop-color="#000eff"/><stop offset="0.8684" stop-color="#0025ff"/><stop offset="1.0000" stop-color="#002eff"/></linearGradient><linearGradient id="c342" x1="0" y1="0" x2="0" y2="1"><stop offset="0.0000" stop-color="#0000e3"/><stop offset="0.2632" stop-color="#0000f4"/><stop offset="0.6053" stop-color="#0003ff"/><stop offset="0.7368" stop-color="#0019ff"/><stop offset="0.8684" stop-color="#0035ff"/><stop offset="1.0000" stop-color="#003eff"/></linearGradient><linearGradient id="c343" x1="0" y1="0" x2="0" y2="1"><stop offset="0.0000" stop-color="#0000e0"/><stop offset="0.2632" stop-color="#0000f2"/><stop offset="0.6053" stop-color="#0000fe"/><stop offset="0.7368" stop-color="#0015ff"/><stop offset="0.8684" stop-color="#0034ff"/><stop offset="1.0000" stop-color="#003dff"/></linearGradient><linearGradient id="c344" x1="0" y1="0" x2="0" y2="1"><stop offset="0.0000" stop-color="#0000dc"/><stop offset="0.2632" stop-color="#0000ee"/><stop offset="0.6053" stop-color="#0000fa"/><stop offset="0.7632" stop-color="#000dff"/><stop offset="0.8947" stop-color="#0037ff"/><stop offset="1.0000" stop-color="#0040ff"/></linearGradient><linearGradient id="c345" x1="0" y1="0" x2="0" y2="1"><stop offset="0.0000" stop-color="#0000dc"/><stop offset="0.2632" stop-color="#0000ed"/><stop offset="0.6053" stop-color="#0000f9"/><stop offset="0.6579" stop-color="#000cff"/><stop offset="0.7895" stop-color="#003cff"/><stop offset="1.0000" stop-color="#0045ff"/></linearGradient><linearGradient id="c346" x1="0" y1="0" x2="0" y2="1"><stop offset="0.0000" stop-color="#0000da"/><stop offset="0.2632" stop-color="#0000eb"/><stop offset="0.6053" stop-color="#0000f7"/><stop offset="0.7632" stop-color="#0009ff"/><stop offset="0.8947" stop-color="#0029ff"/><stop offset="1.0000" stop-color="#0032ff"/></linearGradient><linearGradient id="c347" x1="0" y1="0" x2="0" y2="1"><stop offset="0.0000" stop-color="#0000e1"/><stop offset="0.2632" stop-color="#0000f3"/><stop offset="0.6053" stop-color="#0000ff"/><stop offset="0.7105" stop-color="#0017ff"/><stop offset="0.8421" stop-color="#003cff"/><stop offset="1.0000" stop-color="#0045ff"/></linearGradient><linearGradient id="c348" x1="0" y1="0" x2="0" y2="1"><stop offset="0.0000" stop-color="#0000e0"/><stop offset="0.2632" stop-color="#0000f2"/><stop offset="0.6053" stop-color="#0000fe"/><stop offset="0.7105" stop-color="#0015ff"/><stop offset="0.8421" stop-color="#003cff"/><stop offset="1.0000" stop-color="#0045ff"/></linearGradient><linearGradient id="c349" x1="0" y1="0" x2="0" y2="1"><stop offset="0.0000" stop-color="#0000dc"/><stop offset="0.2632" stop-color="#0000ed"/><stop offset="0.6053" stop-color="#0000fa"/><stop offset="0.6842" stop-color="#000dff"/><stop offset="0.8158" stop-color="#002dff"/><stop offset="1.0000" stop-color="#0036ff"/></linearGradient><linearGradient id="c350" x1="0" y1="0" x2="0" y2="1"><stop offset="0.0000" stop-color="#0000e0"/><stop offset="0.2632" stop-color="#0000f1"/><stop offset="0.6053" stop-color="#0000fe"/><stop offset="0.6579" stop-color="#0014ff"/><stop offset="0.7895" stop-color="#002dff"/><stop offset="1.0000" stop-color="#0037ff"/></linearGradient><linearGradient id="c351" x1="0" y1="0" x2="0" y2="1"><stop offset="0.0000" stop-color="#0000df"/><stop offset="0.2632" stop-color="#0000f1"/><stop offset="0.6053" stop-color="#0000fd"/><stop offset="0.6842" stop-color="#0013ff"/><stop offset="0.8158" stop-color="#0022ff"/><stop offset="1.0000" stop-color="#002bff"/></linearGradient><linearGradient id="c352" x1="0" y1="0" x2="0" y2="1"><stop offset="0.0000" stop-color="#0000e0"/><stop offset="0.2632" stop-color="#0000f1"/><stop offset="0.6053" stop-color="#0000fe"/><stop offset="0.7105" stop-color="#0014ff"/><stop offset="0.8421" stop-color="#003bff"/><stop offset="1.0000" stop-color="#0044ff"/></linearGradient><linearGradient id="c353" x1="0" y1="0" x2="0" y2="1"><stop offset="0.0000" stop-color="#0000da"/><stop offset="0.2632" stop-color="#0000eb"/><stop offset="0.6053" stop-color="#0000f8"/><stop offset="0.7105" stop-color="#0009ff"/><stop offset="0.8421" stop-color="#0039ff"/><stop offset="1.0000" stop-color="#0042ff"/></linearGradient><linearGradient id="c354" x1="0" y1="0" x2="0" y2="1"><stop offset="0.0000" stop-color="#0000e0"/><stop offset="0.2632" stop-color="#0000f2"/><stop offset="0.6053" stop-color="#0000fe"/><stop offset="0.7895" stop-color="#0015ff"/><stop offset="0.9211" stop-color="#002cff"/><stop offset="1.0000" stop-color="#0035ff"/></linearGradient><linearGradient id="c355" x1="0" y1="0" x2="0" y2="1"><stop offset="0.0000" stop-color="#0000dd"/><stop offset="0.2632" stop-color="#0000ee"/><stop offset="0.6053" stop-color="#0000fb"/><stop offset="0.7368" stop-color="#000fff"/><stop offset="0.8684" stop-color="#0025ff"/><stop offset="1.0000" stop-color="#002eff"/></linearGradient><linearGradient id="c356" x1="0" y1="0" x2="0" y2="1"><stop offset="0.0000" stop-color="#0000dc"/><stop offset="0.2632" stop-color="#0000ed"/><stop offset="0.6053" stop-color="#0000f9"/><stop offset="0.7895" stop-color="#000dff"/><stop offset="0.9211" stop-color="#0024ff"/><stop offset="1.0000" stop-color="#002dff"/></linearGradient><linearGradient id="c357" x1="0" y1="0" x2="0" y2="1"><stop offset="0.0000" stop-color="#0000dc"/><stop offset="0.2632" stop-color="#0000ed"/><stop offset="0.6053" stop-color="#0000fa"/><stop offset="0.7632" stop-color="#000dff"/><stop offset="0.8947" stop-color="#003cff"/><stop offset="1.0000" stop-color="#0045ff"/></linearGradient><linearGradient id="c358" x1="0" y1="0" x2="0" y2="1"><stop offset="0.0000" stop-color="#0000dc"/><stop offset="0.2632" stop-color="#0000ed"/><stop offset="0.6053" stop-color="#0000fa"/><stop offset="0.6579" stop-color="#000dff"/><stop offset="0.7895" stop-color="#0037ff"/><stop offset="1.0000" stop-color="#0040ff"/></linearGradient><linearGradient id="c359" x1="0" y1="0" x2="0" y2="1"><stop offset="0.0000" stop-color="#0000db"/><stop offset="0.2632" stop-color="#0000ec"/><stop offset="0.6053" stop-color="#0000f8"/><stop offset="0.7632" stop-color="#000bff"/><stop offset="0.8947" stop-color="#003cff"/><stop offset="1.0000" stop-color="#0045ff"/></linearGradient><linearGradient id="c360" x1="0" y1="0" x2="0" y2="1"><stop offset="0.0000" stop-color="#0000dd"/><stop offset="0.2632" stop-color="#0000ef"/><stop offset="0.6053" stop-color="#0000fb"/><stop offset="0.7368" stop-color="#000fff"/><stop offset="0.8684" stop-color="#0027ff"/><stop offset="1.0000" stop-color="#0030ff"/></linearGradient><linearGradient id="c361" x1="0" y1="0" x2="0" y2="1"><stop offset="0.0000" stop-color="#0000dc"/><stop offset="0.2632" stop-color="#0000ee"/><stop offset="0.6053" stop-color="#0000fa"/><stop offset="0.6579" stop-color="#000dff"/><stop offset="0.7895" stop-color="#003dff"/><stop offset="1.0000" stop-color="#0046ff"/></linearGradient><linearGradient id="c362" x1="0" y1="0" x2="0" y2="1"><stop offset="0.0000" stop-color="#0000e2"/><stop offset="0.2632" stop-color="#0000f3"/><stop offset="0.6053" stop-color="#0001ff"/><stop offset="0.7632" stop-color="#0018ff"/><stop offset="0.8947" stop-color="#0031ff"/><stop offset="1.0000" stop-color="#003bff"/></linearGradient><linearGradient id="c363" x1="0" y1="0" x2="0" y2="1"><stop offset="0.0000" stop-color="#0000dd"/><stop offset="0.2632" stop-color="#0000ee"/><stop offset="0.6053" stop-color="#0000fb"/><stop offset="0.7895" stop-color="#000fff"/><stop offset="0.9211" stop-color="#0039ff"/><stop offset="1.0000" stop-color="#0042ff"/></linearGradient><linearGradient id="c364" x1="0" y1="0" x2="0" y2="1"><stop offset="0.0000" stop-color="#0000e5"/><stop offset="0.2632" stop-color="#0000f6"/><stop offset="0.6053" stop-color="#0007ff"/><stop offset="0.7895" stop-color="#001dff"/><stop offset="0.9211" stop-color="#002eff"/><stop offset="1.0000" stop-color="#0037ff"/></linearGradient><linearGradient id="c365" x1="0" y1="0" x2="0" y2="1"><stop offset="0.0000" stop-color="#0000e1"/><stop offset="0.2632" stop-color="#0000f2"/><stop offset="0.6053" stop-color="#0000fe"/><stop offset="0.7368" stop-color="#0015ff"/><stop offset="0.8684" stop-color="#0023ff"/><stop offset="1.0000" stop-color="#002cff"/></linearGradient><linearGradient id="c366" x1="0" y1="0" x2="0" y2="1"><stop offset="0.0000" stop-color="#0000e3"/><stop offset="0.2632" stop-color="#0000f4"/><stop offset="0.6053" stop-color="#0003ff"/><stop offset="0.7632" stop-color="#001aff"/><stop offset="0.8947" stop-color="#003eff"/><stop offset="1.0000" stop-color="#0047ff"/></linearGradient><linearGradient id="c367" x1="0" y1="0" x2="0" y2="1"><stop offset="0.0000" stop-color="#0000df"/><stop offset="0.2632" stop-color="#0000f1"/><stop offset="0.6053" stop-color="#0000fd"/><stop offset="0.7368" stop-color="#0013ff"/><stop offset="0.8684" stop-color="#0038ff"/><stop offset="1.0000" stop-color="#0041ff"/></linearGradient><linearGradient id="c368" x1="0" y1="0" x2="0" y2="1"><stop offset="0.0000" stop-color="#0000e7"/><stop offset="0.2632" stop-color="#0000f8"/><stop offset="0.6053" stop-color="#000bff"/><stop offset="0.7368" stop-color="#0021ff"/><stop offset="0.8684" stop-color="#0036ff"/><stop offset="1.0000" stop-color="#003fff"/></linearGradient><linearGradient id="c369" x1="0" y1="0" x2="0" y2="1"><stop offset="0.0000" stop-color="#0000e6"/><stop offset="0.2632" stop-color="#0000f7"/><stop offset="0.6053" stop-color="#0009ff"/><stop offset="0.7368" stop-color="#0020ff"/><stop offset="0.8684" stop-color="#0026ff"/><stop offset="1.0000" stop-color="#002fff"/></linearGradient><linearGradient id="c370" x1="0" y1="0" x2="0" y2="1"><stop offset="0.0000" stop-color="#0000e3"/><stop offset="0.2632" stop-color="#0000f4"/><stop offset="0.6053" stop-color="#0002ff"/><stop offset="0.7105" stop-color="#0019ff"/><stop offset="0.8421" stop-color="#002fff"/><stop offset="1.0000" stop-color="#0038ff"/></linearGradient><linearGradient id="c371" x1="0" y1="0" x2="0" y2="1"><stop offset="0.0000" stop-color="#0000de"/><stop offset="0.2632" stop-color="#0000ef"/><stop offset="0.6053" stop-color="#0000fc"/><stop offset="0.6579" stop-color="#0011ff"/><stop offset="0.7895" stop-color="#0026ff"/><stop offset="1.0000" stop-color="#002fff"/></linearGradient><linearGradient id="c372" x1="0" y1="0" x2="0" y2="1"><stop offset="0.0000" stop-color="#0000e8"/><stop offset="0.2632" stop-color="#0000f9"/><stop offset="0.6053" stop-color="#000cff"/><stop offset="0.7368" stop-color="#0022ff"/><stop offset="0.8684" stop-color="#0022ff"/><stop offset="1.0000" stop-color="#002bff"/></linearGradient><linearGradient id="c373" x1="0" y1="0" x2="0" y2="1"><stop offset="0.0000" stop-color="#0000dd"/><stop offset="0.2632" stop-color="#0000ee"/><stop offset="0.6053" stop-color="#0000fa"/><stop offset="0.6842" stop-color="#000eff"/><stop offset="0.8158" stop-color="#0023ff"/><stop offset="1.0000" stop-color="#002cff"/></linearGradient><linearGradient id="c374" x1="0" y1="0" x2="0" y2="1"><stop offset="0.0000" stop-color="#0000de"/><stop offset="0.2632" stop-color="#0000f0"/><stop offset="0.6053" stop-color="#0000fc"/><stop offset="0.7368" stop-color="#0011ff"/><stop offset="0.8684" stop-color="#0031ff"/><stop offset="1.0000" stop-color="#003aff"/></linearGradient><linearGradient id="c375" x1="0" y1="0" x2="0" y2="1"><stop offset="0.0000" stop-color="#0000df"/><stop offset="0.2632" stop-color="#0000f0"/><stop offset="0.6053" stop-color="#0000fd"/><stop offset="0.6842" stop-color="#0012ff"/><stop offset="0.8158" stop-color="#0034ff"/><stop offset="1.0000" stop-color="#003dff"/></linearGradient><linearGradient id="c376" x1="0" y1="0" x2="0" y2="1"><stop offset="0.0000" stop-color="#0000df"/><stop offset="0.2632" stop-color="#0000f1"/><stop offset="0.6053" stop-color="#0000fd"/><stop offset="0.7105" stop-color="#0013ff"/><stop offset="0.8421" stop-color="#002bff"/><stop offset="1.0000" stop-color="#0034ff"/></linearGradient><linearGradient id="c377" x1="0" y1="0" x2="0" y2="1"><stop offset="0.0000" stop-color="#0000e8"/><stop offset="0.2632" stop-color="#0000f9"/><stop offset="0.6053" stop-color="#000cff"/><stop offset="0.7368" stop-color="#0023ff"/><stop offset="0.8684" stop-color="#0025ff"/><stop offset="1.0000" stop-color="#002eff"/></linearGradient><linearGradient id="c378" x1="0" y1="0" x2="0" y2="1"><stop offset="0.0000" stop-color="#0000e6"/><stop offset="0.2632" stop-color="#0000f7"/><stop offset="0.6053" stop-color="#0008ff"/><stop offset="0.7632" stop-color="#001fff"/><stop offset="0.8947" stop-color="#0024ff"/><stop offset="1.0000" stop-color="#002dff"/></linearGradient><linearGradient id="c379" x1="0" y1="0" x2="0" y2="1"><stop offset="0.0000" stop-color="#0000e8"/><stop offset="0.2632" stop-color="#0000f9"/><stop offset="0.6053" stop-color="#000cff"/><stop offset="0.7632" stop-color="#0022ff"/><stop offset="0.8947" stop-color="#0028ff"/><stop offset="1.0000" stop-color="#0031ff"/></linearGradient><linearGradient id="c380" x1="0" y1="0" x2="0" y2="1"><stop offset="0.0000" stop-color="#0000e3"/><stop offset="0.2632" stop-color="#0000f5"/><stop offset="0.6053" stop-color="#0003ff"/><stop offset="0.7105" stop-color="#001aff"/><stop offset="0.8421" stop-color="#0029ff"/><stop offset="1.0000" stop-color="#0032ff"/></linearGradient><linearGradient id="c381" x1="0" y1="0" x2="0" y2="1"><stop offset="0.0000" stop-color="#0000e4"/><stop offset="0.2632" stop-color="#0000f5"/><stop offset="0.6053" stop-color="#0005ff"/><stop offset="0.7632" stop-color="#001cff"/><stop offset="0.8947" stop-color="#0026ff"/><stop offset="1.0000" stop-color="#0030ff"/></linearGradient><linearGradient id="c382" x1="0" y1="0" x2="0" y2="1"><stop offset="0.0000" stop-color="#0000e5"/><stop offset="0.2632" stop-color="#0000f6"/><stop offset="0.6053" stop-color="#0006ff"/><stop offset="0.7632" stop-color="#001dff"/><stop offset="0.8947" stop-color="#002dff"/><stop offset="1.0000" stop-color="#0036ff"/></linearGradient><linearGradient id="c383" x1="0" y1="0" x2="0" y2="1"><stop offset="0.0000" stop-color="#0000e1"/><stop offset="0.2632" stop-color="#0000f2"/><stop offset="0.6053" stop-color="#0000fe"/><stop offset="0.7632" stop-color="#0016ff"/><stop offset="0.8947" stop-color="#003cff"/><stop offset="1.0000" stop-color="#0046ff"/></linearGradient><linearGradient id="c384" x1="0" y1="0" x2="0" y2="1"><stop offset="0.0000" stop-color="#0000dd"/><stop offset="0.2632" stop-color="#0000ef"/><stop offset="0.6053" stop-color="#0000fb"/><stop offset="0.6842" stop-color="#000fff"/><stop offset="0.8158" stop-color="#0025ff"/><stop offset="1.0000" stop-color="#002eff"/></linearGradient><linearGradient id="c385" x1="0" y1="0" x2="0" y2="1"><stop offset="0.0000" stop-color="#0000e5"/><stop offset="0.2632" stop-color="#0000f6"/><stop offset="0.6053" stop-color="#0006ff"/><stop offset="0.6579" stop-color="#001dff"/><stop offset="0.7895" stop-color="#003bff"/><stop offset="1.0000" stop-color="#0044ff"/></linearGradient><linearGradient id="c386" x1="0" y1="0" x2="0" y2="1"><stop offset="0.0000" stop-color="#0000e1"/><stop offset="0.2632" stop-color="#0000f2"/><stop offset="0.6053" stop-color="#0000ff"/><stop offset="0.6579" stop-color="#0016ff"/><stop offset="0.7895" stop-color="#0035ff"/><stop offset="1.0000" stop-color="#003eff"/></linearGradient><linearGradient id="c387" x1="0" y1="0" x2="0" y2="1"><stop offset="0.0000" stop-color="#0000e8"/><stop offset="0.2632" stop-color="#0000f9"/><stop offset="0.6053" stop-color="#000dff"/><stop offset="0.7632" stop-color="#0023ff"/><stop offset="0.8947" stop-color="#0025ff"/><stop offset="1.0000" stop-color="#002eff"/></linearGradient><linearGradient id="c388" x1="0" y1="0" x2="0" y2="1"><stop offset="0.0000" stop-color="#0000e7"/><stop offset="0.2632" stop-color="#0000f8"/><stop offset="0.6053" stop-color="#0009ff"/><stop offset="0.7368" stop-color="#0020ff"/><stop offset="0.8684" stop-color="#002eff"/><stop offset="1.0000" stop-color="#0037ff"/></linearGradient><linearGradient id="c389" x1="0" y1="0" x2="0" y2="1"><stop offset="0.0000" stop-color="#0000e7"/><stop offset="0.2632" stop-color="#0000f8"/><stop offset="0.6053" stop-color="#000bff"/><stop offset="0.7368" stop-color="#0021ff"/><stop offset="0.8684" stop-color="#0029ff"/><stop offset="1.0000" stop-color="#0032ff"/></linearGradient><linearGradient id="c390" x1="0" y1="0" x2="0" y2="1"><stop offset="0.0000" stop-color="#0000e7"/><stop offset="0.2632" stop-color="#0000f8"/><stop offset="0.6053" stop-color="#000bff"/><stop offset="0.7105" stop-color="#0021ff"/><stop offset="0.8421" stop-color="#0037ff"/><stop offset="1.0000" stop-color="#0040ff"/></linearGradient><linearGradient id="c391" x1="0" y1="0" x2="0" y2="1"><stop offset="0.0000" stop-color="#0000e6"/><stop offset="0.2632" stop-color="#0000f7"/><stop offset="0.6053" stop-color="#0008ff"/><stop offset="0.7632" stop-color="#001fff"/><stop offset="0.8947" stop-color="#0040ff"/><stop offset="1.0000" stop-color="#0049ff"/></linearGradient><linearGradient id="c392" x1="0" y1="0" x2="0" y2="1"><stop offset="0.0000" stop-color="#0000e1"/><stop offset="0.2632" stop-color="#0000f2"/><stop offset="0.6053" stop-color="#0000fe"/><stop offset="0.7632" stop-color="#0016ff"/><stop offset="0.8947" stop-color="#0025ff"/><stop offset="1.0000" stop-color="#002eff"/></linearGradient><linearGradient id="c393" x1="0" y1="0" x2="0" y2="1"><stop offset="0.0000" stop-color="#0000e0"/><stop offset="0.2632" stop-color="#0000f1"/><stop offset="0.6053" stop-color="#0000fd"/><stop offset="0.6579" stop-color="#0014ff"/><stop offset="0.7895" stop-color="#002dff"/><stop offset="1.0000" stop-color="#0036ff"/></linearGradient><linearGradient id="c394" x1="0" y1="0" x2="0" y2="1"><stop offset="0.0000" stop-color="#0000e3"/><stop offset="0.2632" stop-color="#0000f4"/><stop offset="0.6053" stop-color="#0003ff"/><stop offset="0.7895" stop-color="#001aff"/><stop offset="0.9211" stop-color="#002fff"/><stop offset="1.0000" stop-color="#0038ff"/></linearGradient><linearGradient id="c395" x1="0" y1="0" x2="0" y2="1"><stop offset="0.0000" stop-color="#0000df"/><stop offset="0.2632" stop-color="#0000f1"/><stop offset="0.6053" stop-color="#0000fd"/><stop offset="0.7105" stop-color="#0013ff"/><stop offset="0.8421" stop-color="#0040ff"/><stop offset="1.0000" stop-color="#0049ff"/></linearGradient><linearGradient id="c396" x1="0" y1="0" x2="0" y2="1"><stop offset="0.0000" stop-color="#0000e7"/><stop offset="0.2632" stop-color="#0000f8"/><stop offset="0.6053" stop-color="#000bff"/><stop offset="0.7368" stop-color="#0021ff"/><stop offset="0.8684" stop-color="#0022ff"/><stop offset="1.0000" stop-color="#002bff"/></linearGradient><linearGradient id="c397" x1="0" y1="0" x2="0" y2="1"><stop offset="0.0000" stop-color="#0000e0"/><stop offset="0.2632" stop-color="#0000f1"/><stop offset="0.6053" stop-color="#0000fd"/><stop offset="0.7105" stop-color="#0013ff"/><stop offset="0.8421" stop-color="#0034ff"/><stop offset="1.0000" stop-color="#003dff"/></linearGradient></defs>
<rect x="120" y="338" width="462" height="1" fill="#000"/>
<rect x="120" y="480" width="462" height="1" fill="#000"/>
<rect x="120" y="338" width="1" height="143" fill="#000"/>
<rect x="581" y="338" width="1" height="143" fill="#000"/>
<rect x="122" y="481" width="1" height="4" fill="#000"/>
<rect x="187" y="481" width="1" height="8" fill="#000"/>
<rect x="251" y="481" width="1" height="4" fill="#000"/>
<rect x="317" y="481" width="1" height="8" fill="#000"/>
<rect x="383" y="481" width="1" height="4" fill="#000"/>
<rect x="442" y="481" width="1" height="8" fill="#000"/>
<rect x="508" y="481" width="1" height="4" fill="#000"/>
<rect x="572" y="481" width="1" height="8" fill="#000"/>
<rect x="116" y="479" width="4" height="1" fill="#000"/>
<rect x="116" y="477" width="4" height="1" fill="#000"/>
<rect x="116" y="475" width="4" height="1" fill="#000"/>
<rect x="116" y="471" width="4" height="1" fill="#000"/>
<rect x="116" y="470" width="4" height="1" fill="#000"/>
<rect x="116" y="468" width="4" height="1" fill="#000"/>
<rect x="116" y="466" width="4" height="1" fill="#000"/>
<rect x="116" y="464" width="4" height="1" fill="#000"/>
<rect x="116" y="462" width="4" height="1" fill="#000"/>
<rect x="116" y="460" width="4" height="1" fill="#000"/>
<rect x="116" y="458" width="4" height="1" fill="#000"/>
<rect x="116" y="457" width="4" height="1" fill="#000"/>
<rect x="116" y="453" width="4" height="1" fill="#000"/>
<rect x="116" y="451" width="4" height="1" fill="#000"/>
<rect x="116" y="449" width="4" height="1" fill="#000"/>
<rect x="116" y="447" width="4" height="1" fill="#000"/>
<rect x="116" y="445" width="4" height="1" fill="#000"/>
<rect x="116" y="444" width="4" height="1" fill="#000"/>
<rect x="116" y="442" width="4" height="1" fill="#000"/>
<rect x="116" y="440" width="4" height="1" fill="#000"/>
<rect x="116" y="438" width="4" height="1" fill="#000"/>
<rect x="116" y="434" width="4" height="1" fill="#000"/>
<rect x="116" y="433" width="4" height="1" fill="#000"/>
<rect x="116" y="431" width="4" height="1" fill="#000"/>
<rect x="116" y="429" width="4" height="1" fill="#000"/>
<rect x="116" y="427" width="4" height="1" fill="#000"/>
<rect x="116" y="425" width="4" height="1" fill="#000"/>
<rect x="116" y="423" width="4" height="1" fill="#000"/>
<rect x="116" y="421" width="4" height="1" fill="#000"/>
<rect x="116" y="420" width="4" height="1" fill="#000"/>
<rect x="116" y="416" width="4" height="1" fill="#000"/>
<rect x="116" y="414" width="4" height="1" fill="#000"/>
<rect x="116" y="412" width="4" height="1" fill="#000"/>
<rect x="116" y="410" width="4" height="1" fill="#000"/>
<rect x="116" y="408" width="4" height="1" fill="#000"/>
<rect x="116" y="407" width="4" height="1" fill="#000"/>
<rect x="116" y="405" width="4" height="1" fill="#000"/>
<rect x="116" y="403" width="4" height="1" fill="#000"/>
<rect x="116" y="401" width="4" height="1" fill="#000"/>
<rect x="116" y="397" width="4" height="1" fill="#000"/>
<rect x="116" y="396" width="4" height="1" fill="#000"/>
<rect x="116" y="394" width="4" height="1" fill="#000"/>
<rect x="116" y="392" width="4" height="1" fill="#000"/>
<rect x="116" y="390" width="4" height="1" fill="#000"/>
<rect x="116" y="388" width="4" height="1" fill="#000"/>
<rect x="116" y="386" width="4" height="1" fill="#000"/>
<rect x="116" y="384" width="4" height="1" fill="#000"/>
<rect x="116" y="383" width="4" height="1" fill="#000"/>
<rect x="116" y="379" width="4" height="1" fill="#000"/>
<rect x="116" y="377" width="4" height="1" fill="#000"/>
<rect x="116" y="375" width="4" height="1" fill="#000"/>
<rect x="116" y="373" width="4" height="1" fill="#000"/>
<rect x="116" y="371" width="4" height="1" fill="#000"/>
<rect x="116" y="370" width="4" height="1" fill="#000"/>
<rect x="116" y="368" width="4" height="1" fill="#000"/>
<rect x="116" y="366" width="4" height="1" fill="#000"/>
<rect x="116" y="364" width="4" height="1" fill="#000"/>
<rect x="116" y="360" width="4" height="1" fill="#000"/>
<rect x="116" y="359" width="4" height="1" fill="#000"/>
<rect x="116" y="357" width="4" height="1" fill="#000"/>
<rect x="116" y="355" width="4" height="1" fill="#000"/>
<rect x="116" y="353" width="4" height="1" fill="#000"/>
<rect x="116" y="351" width="4" height="1" fill="#000"/>
<rect x="116" y="349" width="4" height="1" fill="#000"/>
<rect x="116" y="347" width="4" height="1" fill="#000"/>
<rect x="116" y="346" width="4" height="1" fill="#000"/>
<rect x="116" y="342" width="4" height="1" fill="#000"/>
<rect x="116" y="340" width="4" height="1" fill="#000"/>
<rect x="116" y="338" width="4" height="1" fill="#000"/>
<rect x="112" y="473" width="8" height="1" fill="#000"/>
<text x="108" y="478" text-anchor="end" font-size="12.2">-1</text>
<rect x="112" y="455" width="8" height="1" fill="#000"/>
<text x="108" y="460" text-anchor="end" font-size="12.2">0</text>
<rect x="112" y="436" width="8" height="1" fill="#000"/>
<text x="108" y="441" text-anchor="end" font-size="12.2">1</text>
<rect x="112" y="418" width="8" height="1" fill="#000"/>
<text x="108" y="423" text-anchor="end" font-size="12.2">2</text>
<rect x="112" y="399" width="8" height="1" fill="#000"/>
<text x="108" y="404" text-anchor="end" font-size="12.2">3</text>
<rect x="112" y="381" width="8" height="1" fill="#000"/>
<text x="108" y="386" text-anchor="end" font-size="12.2">4</text>
<rect x="112" y="362" width="8" height="1" fill="#000"/>
<text x="108" y="367" text-anchor="end" font-size="12.2">5</text>
<rect x="112" y="344" width="8" height="1" fill="#000"/>
<text x="108" y="349" text-anchor="end" font-size="12.2">6</text>
<rect x="593" y="338" width="12" height="143" fill="url(#cb)"/>
<rect x="605" y="338" width="1" height="143" fill="#000"/>
<rect x="606" y="476" width="4" height="1" fill="#000"/>
<rect x="606" y="474" width="4" height="1" fill="#000"/>
<rect x="606" y="472" width="4" height="1" fill="#000"/>
<rect x="606" y="470" width="4" height="1" fill="#000"/>
<rect x="606" y="468" width="4" height="1" fill="#000"/>
<rect x="606" y="457" width="4" height="1" fill="#000"/>
<rect x="606" y="451" width="4" height="1" fill="#000"/>
<rect x="606" y="447" width="4" height="1" fill="#000"/>
<rect x="606" y="444" width="4" height="1" fill="#000"/>
<rect x="606" y="442" width="4" height="1" fill="#000"/>
<rect x="606" y="439" width="4" height="1" fill="#000"/>
<rect x="606" y="438" width="4" height="1" fill="#000"/>
<rect x="606" y="436" width="4" height="1" fill="#000"/>
<rect x="606" y="425" width="4" height="1" fill="#000"/>
<rect x="606" y="419" width="4" height="1" fill="#000"/>
<rect x="606" y="415" width="4" height="1" fill="#000"/>
<rect x="606" y="412" width="4" height="1" fill="#000"/>
<rect x="606" y="409" width="4" height="1" fill="#000"/>
<rect x="606" y="407" width="4" height="1" fill="#000"/>
<rect x="606" y="405" width="4" height="1" fill="#000"/>
<rect x="606" y="404" width="4" height="1" fill="#000"/>
<rect x="606" y="392" width="4" height="1" fill="#000"/>
<rect x="606" y="387" width="4" height="1" fill="#000"/>
<rect x="606" y="383" width="4" height="1" fill="#000"/>
<rect x="606" y="380" width="4" height="1" fill="#000"/>
<rect x="606" y="377" width="4" height="1" fill="#000"/>
<rect x="606" y="375" width="4" height="1" fill="#000"/>
<rect x="606" y="373" width="4" height="1" fill="#000"/>
<rect x="606" y="371" width="4" height="1" fill="#000"/>
<rect x="606" y="360" width="4" height="1" fill="#000"/>
<rect x="606" y="354" width="4" height="1" fill="#000"/>
<rect x="606" y="350" width="4" height="1" fill="#000"/>
<rect x="606" y="347" width="4" height="1" fill="#000"/>
<rect x="606" y="345" width="4" height="1" fill="#000"/>
<rect x="606" y="343" width="4" height="1" fill="#000"/>
<rect x="606" y="341" width="4" height="1" fill="#000"/>
<rect x="606" y="339" width="4" height="1" fill="#000"/>
<rect x="606" y="467" width="8" height="1" fill="#000"/>
<rect x="606" y="434" width="8" height="1" fill="#000"/>
<rect x="606" y="402" width="8" height="1" fill="#000"/>
<rect x="606" y="370" width="8" height="1" fill="#000"/>
<rect x="606" y="338" width="8" height="1" fill="#000"/>
</g>
<text x="617" y="475" font-size="12.2">10<tspan dx="0.4" dy="-5.3" font-size="12.2">-1</tspan></text>
<text x="617" y="442" font-size="12.2">10<tspan dx="0.4" dy="-5.3" font-size="12.2">0</tspan></text>
<text x="617" y="410" font-size="12.2">10<tspan dx="0.4" dy="-5.3" font-size="12.2">1</tspan></text>
<text x="617" y="378" font-size="12.2">10<tspan dx="0.4" dy="-5.3" font-size="12.2">2</tspan></text>
<text x="617" y="346" font-size="12.2">10<tspan dx="0.4" dy="-5.3" font-size="12.2">3</tspan></text>
<text x="186.5" y="504" text-anchor="middle" font-size="12.2">2005-11-01</text>
<text x="316.5" y="504" text-anchor="middle" font-size="12.2">2006-01-01</text>
<text x="441.5" y="504" text-anchor="middle" font-size="12.2">2006-03-01</text>
<text x="571.5" y="504" text-anchor="middle" font-size="12.2">2006-05-01</text>
<text transform="translate(47,101.5) rotate(-90)" text-anchor="middle" font-size="12.2">Kp</text>
<text transform="translate(59,103.8) rotate(-90)" text-anchor="middle" font-size="12.2" letter-spacing="0.15">(e.g. 3+ = 33,</text>
<text transform="translate(71,104) rotate(-90)" text-anchor="middle" font-size="12.2" letter-spacing="0.05">6- = 57,</text>
<text transform="translate(83,103.3) rotate(-90)" text-anchor="middle" font-size="12.2">4 = 40, etc.)</text>
<text transform="translate(71,254.8) rotate(-90)" text-anchor="middle" font-size="12.2">DST</text>
<text transform="translate(86.6,408.6) rotate(-90)" text-anchor="middle" font-size="12.2" letter-spacing="0.3">Proton Flux</text>
</svg>
</body></html>
